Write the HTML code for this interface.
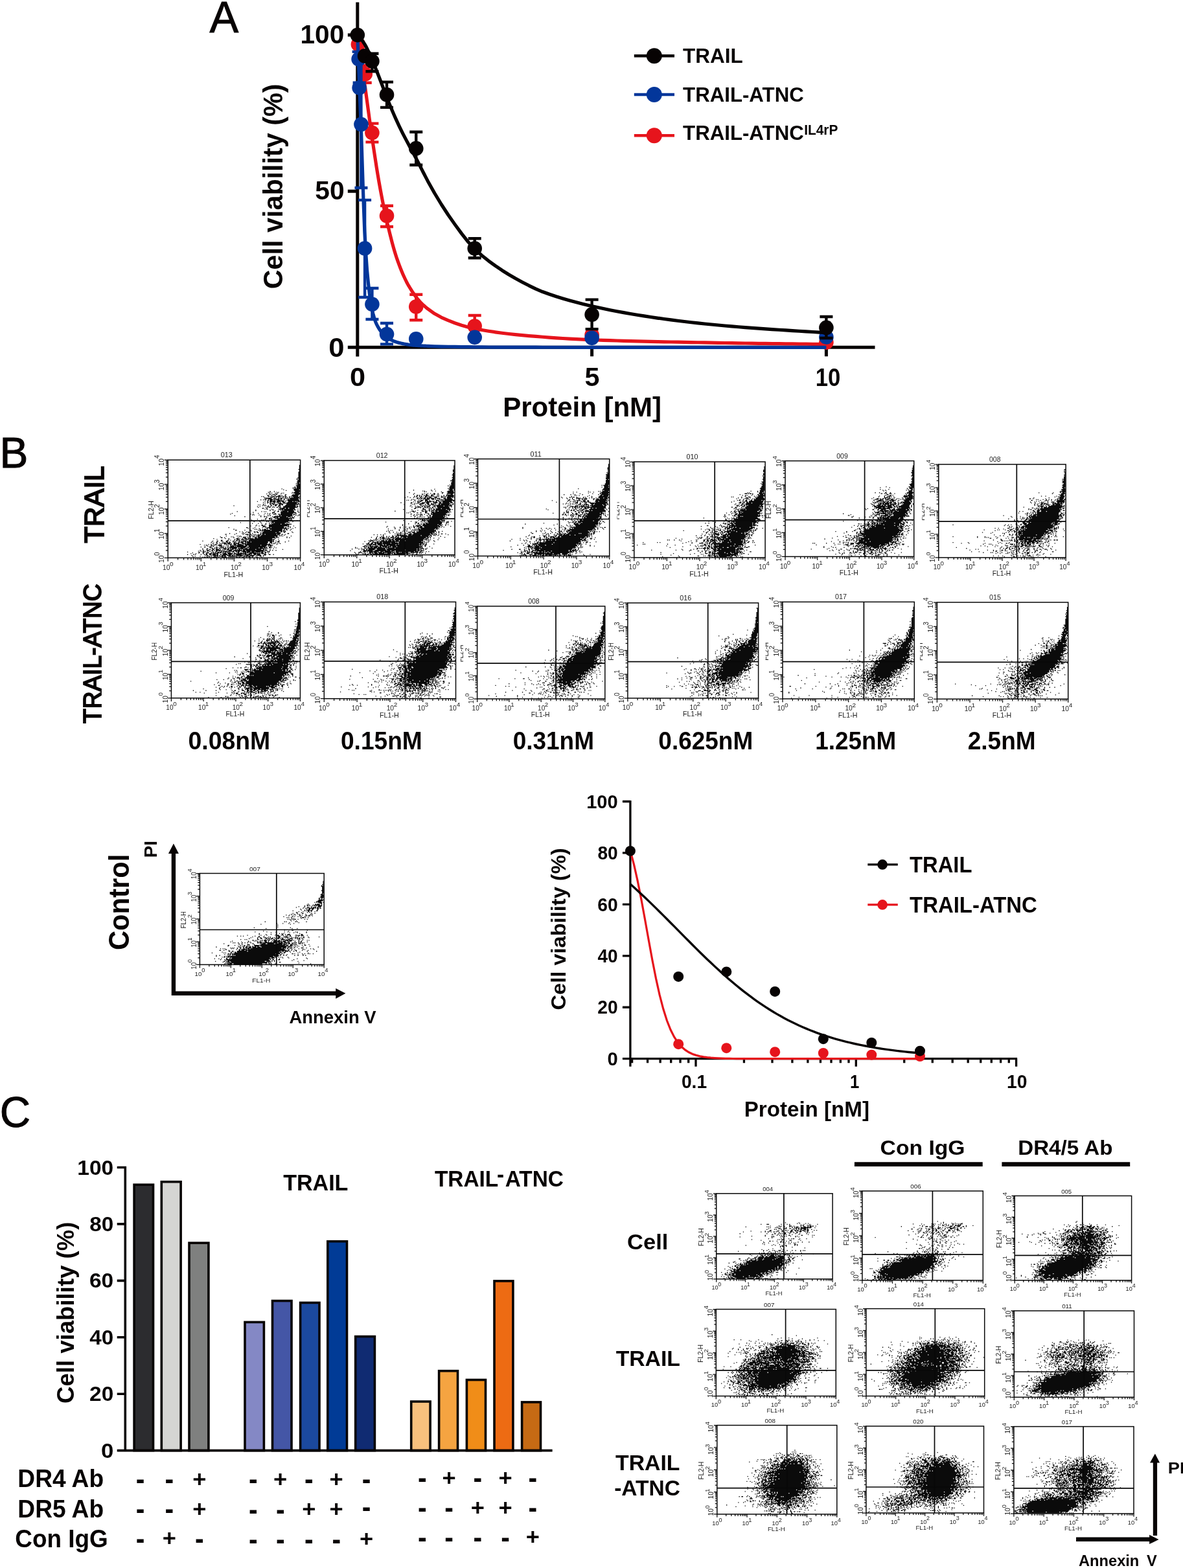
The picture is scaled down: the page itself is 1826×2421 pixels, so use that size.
<!DOCTYPE html>
<html lang="en"><head><meta charset="utf-8"><title>Figure</title>
<style>html,body{margin:0;padding:0;background:#fff;overflow:hidden}body{width:1826px;height:2421px;overflow:hidden}svg{display:block;font-family:'Liberation Sans',sans-serif}</style></head><body>
<svg width="1826" height="2421" viewBox="0 0 1826 2421">
<rect width="1826" height="2421" fill="#fff"/>
<text transform="translate(323.4,49.7) scale(0.9769,1)" font-size="68.6" font-weight="normal" fill="#070303" stroke="#070303" stroke-width="1">A</text>
<text transform="translate(-0.39,721.7) scale(0.9895,1)" font-size="66.42" font-weight="normal" fill="#070303" stroke="#070303" stroke-width="1">B</text>
<text transform="translate(-0.31,1739.7) scale(0.9889,1)" font-size="66.19" font-weight="normal" fill="#070303" stroke="#070303" stroke-width="1">C</text>
<g id="panelA">
<g stroke="#070303" stroke-width="5" fill="none"><path d="M551.8 3.5V550.5M536.8 536.3H1350.5M536.8 54.1h15M536.8 295.2h15M913.6 536.3v14M1275.4 536.3v14"/></g>
<g stroke="#e6141c" fill="#e6141c" stroke-width="5.2"><path d="M551.8 54.1L553.64 66.67L555.48 79.25L557.32 91.82L559.16 104.33L561 116.82L562.84 129.5L564.68 142.58L566.52 156.03L568.36 169.67L570.2 183.27L572.04 196.64L573.88 209.57L575.72 222.03L577.56 234.36L579.39 246.47L581.23 258.28L583.07 269.65L584.91 280.5L586.75 290.76L588.59 300.63L590.43 310.15L592.27 319.28L594.11 328.02L595.95 336.35L597.79 344.27L599.63 352.01L601.47 359.58L603.31 366.94L605.15 374.04L606.99 380.83L608.83 387.29L610.67 393.35L612.51 398.99L614.35 404.2L616.19 409.18L618.03 413.96L619.87 418.53L621.71 422.9L623.55 427.05L625.39 430.98L627.23 434.7L629.07 438.18L630.91 441.44L632.75 444.5L634.58 447.45L636.42 450.3L638.26 453.03L640.1 455.65L641.94 458.16L643.78 460.55L645.62 462.81L647.46 464.95L649.3 466.97L651.14 468.86L652.98 470.61L654.82 472.26L656.66 473.86L658.5 475.4L660.34 476.89L670.76 484.32L681.19 490.09L691.61 494.68L702.04 498.72L712.46 502.21L722.89 505.13L733.31 507.49L743.74 509.47L754.16 511.24L764.59 512.82L775.01 514.23L785.44 515.48L795.86 516.6L806.29 517.61L816.71 518.54L827.14 519.43L837.56 520.28L847.99 521.07L858.41 521.8L868.83 522.49L879.26 523.11L889.68 523.67L900.11 524.18L910.53 524.61L920.96 524.99L931.38 525.35L941.81 525.69L952.23 526L962.66 526.3L973.08 526.59L983.51 526.85L993.93 527.11L1004.36 527.35L1014.78 527.58L1025.21 527.79L1035.63 528L1046.06 528.2L1056.48 528.4L1066.91 528.59L1077.33 528.77L1087.75 528.95L1098.18 529.13L1108.6 529.31L1119.03 529.48L1129.45 529.65L1139.88 529.81L1150.3 529.98L1160.73 530.13L1171.15 530.29L1181.58 530.43L1192 530.57L1202.43 530.71L1212.85 530.84L1223.28 530.96L1233.7 531.08L1244.13 531.19L1254.55 531.3L1264.98 531.39L1275.4 531.48" fill="none" stroke-linejoin="round"/><path d="M563.74 101V127.8M553.74 101h20M553.74 127.8h20M574.41 190.6V219.4M564.41 190.6h20M564.41 219.4h20M597.02 317.7V350M587.02 317.7h20M587.02 350h20M642.25 454.7V494.2M632.25 454.7h20M632.25 494.2h20M732.7 487V520M722.7 487h20M722.7 520h20" fill="none" stroke-width="4.4"/><circle cx="552.89" cy="68.57" r="11.3" stroke="none"/><circle cx="563.74" cy="114.37" r="11.3" stroke="none"/><circle cx="574.41" cy="205.03" r="11.3" stroke="none"/><circle cx="597.02" cy="333.29" r="11.3" stroke="none"/><circle cx="642.25" cy="473.61" r="11.3" stroke="none"/><circle cx="732.7" cy="503.51" r="11.3" stroke="none"/><circle cx="913.6" cy="517.01" r="11.3" stroke="none"/><circle cx="1275.4" cy="528.58" r="11.3" stroke="none"/></g>
<g stroke="#03369a" fill="#03369a" stroke-width="5.2"><path d="M551.8 54.1L553.64 103.7L555.48 152.05L557.32 195.4L559.16 253.08L561 309.94L562.84 357.66L564.68 390.72L566.52 416.87L568.36 436.34L570.2 452.29L572.04 465.55L573.88 475.96L575.72 483.86L577.56 490.55L579.39 496.14L581.23 500.63L583.07 504.14L584.91 507.26L586.75 510.08L588.59 512.63L590.43 514.9L592.27 516.9L594.11 518.64L595.95 520.12L597.79 521.37L599.63 522.51L601.47 523.57L603.31 524.55L605.15 525.45L606.99 526.29L608.83 527.04L610.67 527.73L612.51 528.34L614.35 528.89L616.19 529.37L618.03 529.8L619.87 530.2L621.71 530.59L623.55 530.95L625.39 531.3L627.23 531.62L629.07 531.93L630.91 532.21L632.75 532.47L634.58 532.7L636.42 532.91L638.26 533.1L640.1 533.25L641.94 533.39L643.78 533.5L645.62 533.61L647.46 533.71L649.3 533.82L651.14 533.91L652.98 534.01L654.82 534.1L656.66 534.18L658.5 534.26L660.34 534.34L670.76 534.73L681.19 535.03L691.61 535.25L702.04 535.42L712.46 535.57L722.89 535.71L733.31 535.82L743.74 535.92L754.16 535.99L764.59 536.04L775.01 536.08L785.44 536.11L795.86 536.14L806.29 536.16L816.71 536.19L827.14 536.21L837.56 536.23L847.99 536.25L858.41 536.26L868.83 536.27L879.26 536.28L889.68 536.29L900.11 536.3L910.53 536.3L920.96 536.3L931.38 536.3L941.81 536.3L952.23 536.3L962.66 536.3L973.08 536.3L983.51 536.3L993.93 536.3L1004.36 536.3L1014.78 536.3L1025.21 536.3L1035.63 536.3L1046.06 536.3L1056.48 536.3L1066.91 536.3L1077.33 536.3L1087.75 536.3L1098.18 536.3L1108.6 536.3L1119.03 536.3L1129.45 536.3L1139.88 536.3L1150.3 536.3L1160.73 536.3L1171.15 536.3L1181.58 536.3L1192 536.3L1202.43 536.3L1212.85 536.3L1223.28 536.3L1233.7 536.3L1244.13 536.3L1254.55 536.3L1264.98 536.3L1275.4 536.3" fill="none" stroke-linejoin="round"/><path d="M553.61 79.9V91.4M543.61 79.9h20M543.61 91.4h20M554.62 127.8V136M544.62 127.8h20M544.62 136h20M557.44 94V290M547.44 94h20M547.44 290h20M563.09 308.9V459M553.09 308.9h20M553.09 459h20M574.41 445V493M564.41 445h20M564.41 493h20M597.02 499V531.4M587.02 499h20M587.02 531.4h20" fill="none" stroke-width="4.4"/><circle cx="553.61" cy="91.23" r="11.3" stroke="none"/><circle cx="554.62" cy="135.59" r="11.3" stroke="none"/><circle cx="557.44" cy="192.01" r="11.3" stroke="none"/><circle cx="563.09" cy="383.44" r="11.3" stroke="none"/><circle cx="574.41" cy="469.76" r="11.3" stroke="none"/><circle cx="597.02" cy="516.05" r="11.3" stroke="none"/><circle cx="642.25" cy="523.28" r="11.3" stroke="none"/><circle cx="732.7" cy="520.87" r="11.3" stroke="none"/><circle cx="913.6" cy="521.83" r="11.3" stroke="none"/><circle cx="1275.4" cy="520.39" r="11.3" stroke="none"/></g>
<g stroke="#070303" fill="#070303" stroke-width="5.2"><path d="M551.8 54.1L553.64 55.83L555.48 57.85L557.32 60.12L559.16 62.62L561 65.31L562.84 68.17L564.68 71.3L566.52 74.87L568.36 78.78L570.2 82.91L572.04 87.17L573.88 91.44L575.72 95.7L577.56 100.07L579.39 104.57L581.23 109.16L583.07 113.82L584.91 118.53L586.75 123.27L588.59 128.03L590.43 132.94L592.27 137.95L594.11 142.95L595.95 147.81L597.79 152.45L599.63 156.98L601.47 161.45L603.31 165.86L605.15 170.2L606.99 174.48L608.83 178.69L610.67 182.83L612.51 186.89L614.35 190.89L616.19 194.8L618.03 198.64L619.87 202.39L621.71 206.05L623.55 209.64L625.39 213.17L627.23 216.65L629.07 220.09L630.91 223.5L632.75 226.89L634.58 230.28L636.42 233.67L638.26 237.08L640.1 240.51L641.94 243.99L643.78 247.5L645.62 251.06L647.46 254.64L649.3 258.24L651.14 261.85L652.98 265.45L654.82 269.04L656.66 272.61L658.5 276.15L660.34 279.65L670.76 298.27L681.19 315.48L691.61 331.51L702.04 346.37L712.46 360.64L722.89 373.76L733.31 385.01L743.74 394.46L754.16 402.8L764.59 410.37L775.01 417.44L785.44 423.99L795.86 430.05L806.29 435.68L816.71 441.04L827.14 446.07L837.56 450.52L847.99 454.31L858.41 457.79L868.83 461.01L879.26 464.01L889.68 466.81L900.11 469.44L910.53 471.94L920.96 474.32L931.38 476.57L941.81 478.7L952.23 480.73L962.66 482.65L973.08 484.48L983.51 486.23L993.93 487.91L1004.36 489.52L1014.78 491.06L1025.21 492.54L1035.63 493.94L1046.06 495.28L1056.48 496.54L1066.91 497.74L1077.33 498.89L1087.75 499.98L1098.18 501.03L1108.6 502.03L1119.03 502.98L1129.45 503.89L1139.88 504.75L1150.3 505.58L1160.73 506.36L1171.15 507.12L1181.58 507.85L1192 508.56L1202.43 509.26L1212.85 509.94L1223.28 510.6L1233.7 511.25L1244.13 511.87L1254.55 512.48L1264.98 513.07L1275.4 513.64" fill="none" stroke-linejoin="round"/><path d="M574.41 82.7V110.3M564.41 82.7h20M564.41 110.3h20M597.02 126.6V165.9M587.02 126.6h20M587.02 165.9h20M642.25 203.8V254.7M632.25 203.8h20M632.25 254.7h20M732.7 368.3V398.3M722.7 368.3h20M722.7 398.3h20M913.6 462.6V508.1M903.6 462.6h20M903.6 508.1h20M1275.4 489V522M1265.4 489h20M1265.4 522h20" fill="none" stroke-width="4.4"/><circle cx="551.8" cy="54.1" r="11.3" stroke="none"/><circle cx="563.09" cy="86.41" r="11.3" stroke="none"/><circle cx="574.41" cy="94.6" r="11.3" stroke="none"/><circle cx="597.02" cy="146.2" r="11.3" stroke="none"/><circle cx="642.25" cy="229.14" r="11.3" stroke="none"/><circle cx="732.7" cy="383.44" r="11.3" stroke="none"/><circle cx="913.6" cy="485.67" r="11.3" stroke="none"/><circle cx="1275.4" cy="505.92" r="11.3" stroke="none"/></g>
<text transform="translate(463.56,67.1) scale(0.9792,1)" font-size="41.42" font-weight="bold" fill="#070303">100</text>
<text transform="translate(486.35,308.1) scale(1.0032,1)" font-size="40.7" font-weight="bold" fill="#070303">50</text>
<text transform="translate(507.27,550.6) scale(1.0481,1)" font-size="41.69" font-weight="bold" fill="#070303">0</text>
<text transform="translate(539.89,596.4) scale(1.0750,1)" font-size="40.26" font-weight="bold" fill="#070303">0</text>
<text transform="translate(902.44,596.4) scale(1.0311,1)" font-size="40.12" font-weight="bold" fill="#070303">5</text>
<text transform="translate(1258.83,596) scale(0.8774,1)" font-size="39.53" font-weight="bold" fill="#070303">10</text>
<text transform="translate(776.21,643.1) scale(1.0032,1)" font-size="41.86" font-weight="bold" fill="#070303">Protein [nM]</text>
<text transform="translate(436.4,446.19) rotate(-90) scale(0.9619,1)" font-size="42.93" font-weight="bold" fill="#070303">Cell viability (%)</text>
<path d="M978.8 86.3H1041" stroke="#070303" stroke-width="4.5"/><circle cx="1009.8" cy="86.3" r="12" fill="#070303"/>
<text transform="translate(1054.05,97.4) scale(0.9893,1)" font-size="31.83" font-weight="bold" fill="#070303">TRAIL</text>
<path d="M978.8 146H1041" stroke="#03369a" stroke-width="4.5"/><circle cx="1009.8" cy="146" r="12" fill="#03369a"/>
<text transform="translate(1054.06,157.2) scale(0.9813,1)" font-size="31.83" font-weight="bold" fill="#070303">TRAIL-ATNC</text>
<path d="M978.8 209.2H1041" stroke="#e6141c" stroke-width="4.5"/><circle cx="1009.8" cy="209.2" r="12" fill="#e6141c"/>
<text transform="translate(0,216.4) scale(0.9813,1)" font-size="31.83" font-weight="bold" fill="#070303"><tspan x="1074.17">TRAIL-ATNC</tspan><tspan x="1264.8" dy="-8.7" font-size="21.31">IL4rP</tspan></text>
</g>
<g id="panelB">
<text transform="translate(160.4,838.52) rotate(-90) scale(0.9954,1)" font-size="42.15" font-weight="normal" fill="#070303" stroke="#070303" stroke-width="1.9">TRAIL</text>
<text transform="translate(156.4,1117.02) rotate(-90) scale(0.9527,1)" font-size="38.95" font-weight="normal" fill="#070303" stroke="#070303" stroke-width="1.8">TRAIL-ATNC</text>
<text transform="translate(290.52,1156.6) scale(0.9486,1)" font-size="39.39" font-weight="bold" fill="#070303">0.08nM</text>
<text transform="translate(525.93,1156.6) scale(0.9424,1)" font-size="39.39" font-weight="bold" fill="#070303">0.15nM</text>
<text transform="translate(791.64,1156.6) scale(0.9385,1)" font-size="39.39" font-weight="bold" fill="#070303">0.31nM</text>
<text transform="translate(1016.34,1156.6) scale(0.9387,1)" font-size="39.39" font-weight="bold" fill="#070303">0.625nM</text>
<text transform="translate(1258.19,1156.6) scale(0.9373,1)" font-size="39.39" font-weight="bold" fill="#070303">1.25nM</text>
<text transform="translate(1493.72,1156.6) scale(0.9410,1)" font-size="39.39" font-weight="bold" fill="#070303">2.5nM</text>
<text transform="translate(199,1467.11) rotate(-90) scale(0.9605,1)" font-size="43.48" font-weight="bold" fill="#070303">Control</text>
<text transform="translate(242.4,1324.34) rotate(-90) scale(0.9782,1)" font-size="28.34" font-weight="bold" fill="#070303">PI</text>
<text transform="translate(446.43,1580.2) scale(1.0048,1)" font-size="27.33" font-weight="bold" fill="#070303">Annexin V</text>
<g fill="#070303"><path d="M264.7 1536.9V1318H259.9L267.9 1302.4L275.9 1318H271.1V1530.6H518.2V1526.1L533.4 1533.8L518.2 1541.9V1536.9Z"/></g>
<path d="M972.9 1235.9V1646.7M960.9 1634.7H1570.1M960.9 1555.26h12M960.9 1475.82h12M960.9 1396.38h12M960.9 1316.94h12M960.9 1237.5h12M975.59 1634.7v6.6M999.56 1634.7v6.6M1019.14 1634.7v6.6M1035.69 1634.7v6.6M1050.03 1634.7v6.6M1062.68 1634.7v6.6M1074 1634.7v12M1148.44 1634.7v6.6M1191.99 1634.7v6.6M1222.89 1634.7v6.6M1246.86 1634.7v6.6M1266.44 1634.7v6.6M1282.99 1634.7v6.6M1297.33 1634.7v6.6M1309.98 1634.7v6.6M1321.3 1634.7v12M1395.74 1634.7v6.6M1439.29 1634.7v6.6M1470.19 1634.7v6.6M1494.16 1634.7v6.6M1513.74 1634.7v6.6M1530.29 1634.7v6.6M1544.63 1634.7v6.6M1557.28 1634.7v6.6M1568.6 1634.7v12" stroke="#070303" stroke-width="3.3" fill="none"/>
<path d="M972.87 1313.29L978.53 1334.8L984.18 1360.09L989.84 1388.64L995.5 1419.44L1001.15 1451.06L1006.81 1481.94L1012.46 1510.64L1018.12 1536.13L1023.78 1557.85L1029.43 1575.73L1035.09 1590.03L1040.74 1601.21L1046.4 1609.78L1052.06 1616.28L1057.71 1621.14L1063.37 1624.75L1069.03 1627.42L1074.68 1629.38L1080.34 1630.82L1085.99 1631.87L1091.65 1632.64L1097.31 1633.2L1102.96 1633.61L1108.62 1633.91L1114.28 1634.12L1119.93 1634.28L1125.59 1634.4L1131.24 1634.48L1136.9 1634.54L1142.56 1634.58L1148.21 1634.61L1153.87 1634.64L1159.53 1634.66L1165.18 1634.67L1170.84 1634.68L1176.49 1634.68L1182.15 1634.69L1187.81 1634.69L1193.46 1634.69L1199.12 1634.7L1204.77 1634.7L1210.43 1634.7L1216.09 1634.7L1221.74 1634.7L1227.4 1634.7L1233.06 1634.7L1238.71 1634.7L1244.37 1634.7L1250.02 1634.7L1255.68 1634.7L1261.34 1634.7L1266.99 1634.7L1272.65 1634.7L1278.31 1634.7L1283.96 1634.7L1289.62 1634.7L1295.27 1634.7L1300.93 1634.7L1306.59 1634.7L1312.24 1634.7L1317.9 1634.7L1323.56 1634.7L1329.21 1634.7L1334.87 1634.7L1340.52 1634.7L1346.18 1634.7L1351.84 1634.7L1357.49 1634.7L1363.15 1634.7L1368.8 1634.7L1374.46 1634.7L1380.12 1634.7L1385.77 1634.7L1391.43 1634.7L1397.09 1634.7L1402.74 1634.7L1408.4 1634.7L1414.05 1634.7L1419.71 1634.7" stroke="#e6141c" stroke-width="3.2" fill="none"/>
<path d="M972.87 1365.01L978.53 1370.05L984.18 1375.19L989.84 1380.42L995.5 1385.74L1001.15 1391.14L1006.81 1396.6L1012.46 1402.13L1018.12 1407.72L1023.78 1413.35L1029.43 1419.02L1035.09 1424.71L1040.74 1430.43L1046.4 1436.15L1052.06 1441.88L1057.71 1447.59L1063.37 1453.29L1069.03 1458.96L1074.68 1464.59L1080.34 1470.17L1085.99 1475.7L1091.65 1481.17L1097.31 1486.56L1102.96 1491.88L1108.62 1497.11L1114.28 1502.25L1119.93 1507.29L1125.59 1512.23L1131.24 1517.06L1136.9 1521.78L1142.56 1526.38L1148.21 1530.86L1153.87 1535.22L1159.53 1539.46L1165.18 1543.57L1170.84 1547.56L1176.49 1551.42L1182.15 1555.15L1187.81 1558.76L1193.46 1562.24L1199.12 1565.59L1204.77 1568.82L1210.43 1571.93L1216.09 1574.92L1221.74 1577.79L1227.4 1580.54L1233.06 1583.18L1238.71 1585.71L1244.37 1588.14L1250.02 1590.45L1255.68 1592.67L1261.34 1594.79L1266.99 1596.81L1272.65 1598.74L1278.31 1600.59L1283.96 1602.34L1289.62 1604.01L1295.27 1605.61L1300.93 1607.13L1306.59 1608.57L1312.24 1609.94L1317.9 1611.25L1323.56 1612.49L1329.21 1613.67L1334.87 1614.79L1340.52 1615.85L1346.18 1616.86L1351.84 1617.82L1357.49 1618.72L1363.15 1619.58L1368.8 1620.4L1374.46 1621.18L1380.12 1621.91L1385.77 1622.6L1391.43 1623.26L1397.09 1623.89L1402.74 1624.48L1408.4 1625.03L1414.05 1625.56L1419.71 1626.06" stroke="#070303" stroke-width="3.4" fill="none"/>
<circle cx="1047.2" cy="1612.2" r="8" fill="#e6141c"/>
<circle cx="1121.3" cy="1618.2" r="8" fill="#e6141c"/>
<circle cx="1196.2" cy="1624.2" r="8" fill="#e6141c"/>
<circle cx="1270.8" cy="1626" r="8" fill="#e6141c"/>
<circle cx="1345.3" cy="1628.7" r="8" fill="#e6141c"/>
<circle cx="1420" cy="1631" r="8" fill="#e6141c"/>
<circle cx="972.9" cy="1313.9" r="8" fill="#070303"/>
<circle cx="1047.2" cy="1507.9" r="8" fill="#070303"/>
<circle cx="1121.3" cy="1500.4" r="8" fill="#070303"/>
<circle cx="1196.2" cy="1530.9" r="8" fill="#070303"/>
<circle cx="1270.8" cy="1604.2" r="8" fill="#070303"/>
<circle cx="1345.3" cy="1610" r="8" fill="#070303"/>
<circle cx="1420" cy="1622.7" r="8" fill="#070303"/>
<text transform="translate(905.18,1247.7) scale(0.9707,1)" font-size="29.94" font-weight="bold" fill="#070303">100</text>
<text transform="translate(922.42,1327.14) scale(0.9377,1)" font-size="29.94" font-weight="bold" fill="#070303">80</text>
<text transform="translate(922.27,1406.58) scale(0.9422,1)" font-size="29.94" font-weight="bold" fill="#070303">60</text>
<text transform="translate(922.58,1486.02) scale(0.9326,1)" font-size="29.94" font-weight="bold" fill="#070303">40</text>
<text transform="translate(922.33,1565.46) scale(0.9404,1)" font-size="29.94" font-weight="bold" fill="#070303">20</text>
<text transform="translate(937.45,1644.9) scale(0.9753,1)" font-size="29.94" font-weight="bold" fill="#070303">0</text>
<text transform="translate(1051.89,1679.7) scale(0.9462,1)" font-size="29.8" font-weight="bold" fill="#070303">0.1</text>
<text transform="translate(1311.89,1679.7) scale(0.8642,1)" font-size="29.8" font-weight="bold" fill="#070303">1</text>
<text transform="translate(1553.93,1679.7) scale(0.9480,1)" font-size="29.8" font-weight="bold" fill="#070303">10</text>
<text transform="translate(1148.7,1723.5) scale(1.0137,1)" font-size="32.7" font-weight="bold" fill="#070303">Protein [nM]</text>
<text transform="translate(872.5,1559.54) rotate(-90) scale(1.0231,1)" font-size="31.88" font-weight="bold" fill="#070303">Cell viability (%)</text>
<path d="M1339.3 1334.9H1385.8" stroke="#070303" stroke-width="3.3"/><circle cx="1362.1" cy="1334.9" r="7.8" fill="#070303"/>
<text transform="translate(1404.04,1347.1) scale(0.9542,1)" font-size="34.3" font-weight="bold" fill="#070303">TRAIL</text>
<path d="M1339.3 1396.9H1385.8" stroke="#e6141c" stroke-width="3.3"/><circle cx="1362.1" cy="1396.9" r="7.8" fill="#e6141c"/>
<text transform="translate(1404.04,1409.1) scale(0.9601,1)" font-size="34.3" font-weight="bold" fill="#070303">TRAIL-ATNC</text>
</g>
<g id="panelC">
<g stroke="#070303" stroke-width="3.6">
<rect x="207.1" y="1829.2" width="29.4" height="410.4" fill="#2c2c2f"/>
<rect x="249.3" y="1824.7" width="29.8" height="414.9" fill="#d5d5d3"/>
<rect x="292" y="1919.1" width="29.9" height="320.5" fill="#7f807f"/>
<rect x="378" y="2041.4" width="29.4" height="198.2" fill="#8488c5"/>
<rect x="420.5" y="2008.5" width="29.5" height="231.1" fill="#4456a6"/>
<rect x="463.6" y="2011.4" width="29.4" height="228.2" fill="#1b499e"/>
<rect x="505.8" y="1916.7" width="29.7" height="322.9" fill="#013b96"/>
<rect x="548.7" y="2063.6" width="29.7" height="176" fill="#102b72"/>
<rect x="634.7" y="2164" width="29.4" height="75.6" fill="#f8c07d"/>
<rect x="677.6" y="2116.7" width="28.9" height="122.9" fill="#f5a441"/>
<rect x="720.4" y="2130.5" width="29.1" height="109.1" fill="#f08d18"/>
<rect x="763" y="1977.9" width="28.9" height="261.7" fill="#ed6b13"/>
<rect x="805.6" y="2164.9" width="28.9" height="74.7" fill="#c66a14"/>
<path d="M193.3 1800.7V2241.4M180.7 2239.6H852.6M180.7 2152.18h12.6M180.7 2064.76h12.6M180.7 1977.34h12.6M180.7 1889.92h12.6M180.7 1802.5h12.6" fill="none"/>
</g>
<text transform="translate(119.3,1813.5) scale(1.0440,1)" font-size="32.12" font-weight="bold" fill="#070303">100</text>
<text transform="translate(138.15,1900.92) scale(1.0387,1)" font-size="32.12" font-weight="bold" fill="#070303">80</text>
<text transform="translate(137.98,1988.34) scale(1.0437,1)" font-size="32.12" font-weight="bold" fill="#070303">60</text>
<text transform="translate(138.3,2075.76) scale(1.0343,1)" font-size="32.12" font-weight="bold" fill="#070303">40</text>
<text transform="translate(138.05,2163.18) scale(1.0417,1)" font-size="32.12" font-weight="bold" fill="#070303">20</text>
<text transform="translate(155.92,2250.6) scale(1.0857,1)" font-size="32.12" font-weight="bold" fill="#070303">0</text>
<text transform="translate(113.6,2167) rotate(-90) scale(1.0042,1)" font-size="36.44" font-weight="bold" fill="#070303">Cell viability (%)</text>
<text transform="translate(437.13,1837.9) scale(0.9768,1)" font-size="34.88" font-weight="bold" fill="#070303">TRAIL</text>
<text transform="translate(0,1831.9) scale(0.9579,1)" font-size="34.88" font-weight="bold" fill="#070303"><tspan x="700.42">TRAIL</tspan><tspan x="800.71" dy="-7.4">-</tspan><tspan x="813.95" dy="7.4">ATNC</tspan></text>
<text transform="translate(27.33,2296.2) scale(0.9755,1)" font-size="38.08" font-weight="bold" fill="#070303">DR4 Ab</text>
<text transform="translate(27.33,2342.5) scale(0.9755,1)" font-size="38.08" font-weight="bold" fill="#070303">DR5 Ab</text>
<text transform="translate(23.29,2388.6) scale(0.9624,1)" font-size="38.37" font-weight="bold" fill="#070303">Con IgG</text>
<text transform="translate(209.7,2298.73) scale(1.0236,1.1506)" font-size="40" font-weight="bold" fill="#070303">-</text>
<text transform="translate(254.6,2298.73) scale(1.0236,1.1506)" font-size="40" font-weight="bold" fill="#070303">-</text>
<text transform="translate(297.2,2295.99) scale(0.9064,0.8948)" font-size="40" font-weight="bold" fill="#070303">+</text>
<text transform="translate(384.1,2299.03) scale(1.0236,1.1506)" font-size="40" font-weight="bold" fill="#070303">-</text>
<text transform="translate(422.1,2296.29) scale(0.9064,0.8948)" font-size="40" font-weight="bold" fill="#070303">+</text>
<text transform="translate(470,2299.03) scale(1.0236,1.1506)" font-size="40" font-weight="bold" fill="#070303">-</text>
<text transform="translate(508.6,2296.29) scale(0.9064,0.8948)" font-size="40" font-weight="bold" fill="#070303">+</text>
<text transform="translate(558.7,2299.03) scale(1.0236,1.1506)" font-size="40" font-weight="bold" fill="#070303">-</text>
<text transform="translate(645,2296.73) scale(1.0236,1.1506)" font-size="40" font-weight="bold" fill="#070303">-</text>
<text transform="translate(682.4,2293.99) scale(0.9064,0.8948)" font-size="40" font-weight="bold" fill="#070303">+</text>
<text transform="translate(730.6,2296.73) scale(1.0236,1.1506)" font-size="40" font-weight="bold" fill="#070303">-</text>
<text transform="translate(769.5,2293.99) scale(0.9064,0.8948)" font-size="40" font-weight="bold" fill="#070303">+</text>
<text transform="translate(815.5,2296.73) scale(1.0236,1.1506)" font-size="40" font-weight="bold" fill="#070303">-</text>
<text transform="translate(209.7,2345.43) scale(1.0236,1.1506)" font-size="40" font-weight="bold" fill="#070303">-</text>
<text transform="translate(254.6,2345.43) scale(1.0236,1.1506)" font-size="40" font-weight="bold" fill="#070303">-</text>
<text transform="translate(297.2,2341.89) scale(0.9064,0.8948)" font-size="40" font-weight="bold" fill="#070303">+</text>
<text transform="translate(384.1,2345.73) scale(1.0236,1.1506)" font-size="40" font-weight="bold" fill="#070303">-</text>
<text transform="translate(425.9,2345.73) scale(1.0236,1.1506)" font-size="40" font-weight="bold" fill="#070303">-</text>
<text transform="translate(466.2,2342.19) scale(0.9064,0.8948)" font-size="40" font-weight="bold" fill="#070303">+</text>
<text transform="translate(508.6,2342.19) scale(0.9064,0.8948)" font-size="40" font-weight="bold" fill="#070303">+</text>
<text transform="translate(558.7,2341.93) scale(1.0236,1.1506)" font-size="40" font-weight="bold" fill="#070303">-</text>
<text transform="translate(645,2343.43) scale(1.0236,1.1506)" font-size="40" font-weight="bold" fill="#070303">-</text>
<text transform="translate(686.2,2343.43) scale(1.0236,1.1506)" font-size="40" font-weight="bold" fill="#070303">-</text>
<text transform="translate(726.8,2339.89) scale(0.9064,0.8948)" font-size="40" font-weight="bold" fill="#070303">+</text>
<text transform="translate(769.5,2339.89) scale(0.9064,0.8948)" font-size="40" font-weight="bold" fill="#070303">+</text>
<text transform="translate(815.5,2343.43) scale(1.0236,1.1506)" font-size="40" font-weight="bold" fill="#070303">-</text>
<text transform="translate(209.7,2391.33) scale(1.0236,1.1506)" font-size="40" font-weight="bold" fill="#070303">-</text>
<text transform="translate(250.8,2387.49) scale(0.9064,0.8948)" font-size="40" font-weight="bold" fill="#070303">+</text>
<text transform="translate(301,2391.33) scale(1.0236,1.1506)" font-size="40" font-weight="bold" fill="#070303">-</text>
<text transform="translate(384.1,2391.63) scale(1.0236,1.1506)" font-size="40" font-weight="bold" fill="#070303">-</text>
<text transform="translate(425.9,2391.63) scale(1.0236,1.1506)" font-size="40" font-weight="bold" fill="#070303">-</text>
<text transform="translate(470,2391.63) scale(1.0236,1.1506)" font-size="40" font-weight="bold" fill="#070303">-</text>
<text transform="translate(512.4,2391.63) scale(1.0236,1.1506)" font-size="40" font-weight="bold" fill="#070303">-</text>
<text transform="translate(554.9,2387.79) scale(0.9064,0.8948)" font-size="40" font-weight="bold" fill="#070303">+</text>
<text transform="translate(645,2389.33) scale(1.0236,1.1506)" font-size="40" font-weight="bold" fill="#070303">-</text>
<text transform="translate(686.2,2389.33) scale(1.0236,1.1506)" font-size="40" font-weight="bold" fill="#070303">-</text>
<text transform="translate(730.6,2389.33) scale(1.0236,1.1506)" font-size="40" font-weight="bold" fill="#070303">-</text>
<text transform="translate(773.3,2389.33) scale(1.0236,1.1506)" font-size="40" font-weight="bold" fill="#070303">-</text>
<text transform="translate(811.7,2385.49) scale(0.9064,0.8948)" font-size="40" font-weight="bold" fill="#070303">+</text>
<text transform="translate(1358.62,1782.6) scale(1.0430,1)" font-size="32.27" font-weight="bold" fill="#070303">Con IgG</text>
<text transform="translate(1571.19,1782.6) scale(1.0282,1)" font-size="32.27" font-weight="bold" fill="#070303">DR4/5 Ab</text>
<path d="M1318.9 1797.6H1516.7M1546.4 1797.6H1744.2" stroke="#070303" stroke-width="6.6"/>
<text transform="translate(968.09,1928.8) scale(1.0454,1)" font-size="32.99" font-weight="bold" fill="#070303">Cell</text>
<text transform="translate(950.63,2109.3) scale(1.0188,1)" font-size="33.14" font-weight="bold" fill="#070303">TRAIL</text>
<text transform="translate(950.03,2269.5) scale(1.0056,1)" font-size="33.58" font-weight="bold" fill="#070303">TRAIL</text>
<text transform="translate(948.19,2309.4) scale(0.9978,1)" font-size="33.58" font-weight="bold" fill="#070303">-ATNC</text>
<g fill="#070303"><path d="M1779.8 2370.9V2258.4H1775L1782.9 2244.4L1790.1 2258.4H1786.1V2370.9Z"/><path d="M1661 2373.6H1774.1V2369.7L1788.6 2376.9L1774.1 2384.1V2380H1661Z"/></g>
<text transform="translate(0,2274.6) scale(1.1476,1)" font-size="23.84" font-weight="bold" fill="#070303"><tspan x="1570.93">PI</tspan></text>
<text transform="translate(0,2418.2) scale(1.0049,1)" font-size="23.55" font-weight="bold" fill="#070303"><tspan x="1656.89">Annexin</tspan><tspan x="1754.96"> V</tspan></text>
</g>
<g id="flow">
<path transform="translate(260.3,711.95) scale(1.3)" stroke="#0b0b0b" stroke-width="1" fill="none" d="M155 5h1M155 6h1M155 7h1M155 8h1M155 9h1M154 10h2M155 11h1M155 12h1M154 13h2M154 14h2M154 15h2M154 16h2M154 17h2M154 18h2M154 19h2M153 20h3M152 21h1m1 0h2M152 22h1m1 0h2M153 23h3M153 24h3M152 25h4M153 26h2M151 27h5M153 28h3M151 29h5M152 30h4M149 31h2m1 0h4M147 32h2m1 0h1m1 0h4M134 33h1m14 0h7M136 34h1m11 0h7M139 35h1m9 0h7M120 36h1m4 0h1m24 0h6M118 37h1m1 0h1m7 0h1m1 0h1m16 0h1m1 0h6M119 38h1m2 0h1m3 0h1m2 0h1m4 0h1m1 0h1m9 0h1m1 0h8M116 39h1m3 0h1m6 0h2m4 0h1m16 0h6M119 40h1m1 0h1m1 0h4m1 0h1m9 0h2m7 0h8M117 41h2m3 0h1m3 0h1m3 0h3m1 0h1m3 0h1m7 0h8M110 42h1m1 0h1m5 0h2m1 0h1m1 0h3m1 0h6m1 0h1m1 0h1m1 0h2m3 0h1m1 0h1m1 0h7m1 0h1M113 43h1m7 0h3m1 0h1m1 0h1m2 0h1m1 0h1m2 0h2m1 0h1m1 0h1m2 0h1m2 0h1m1 0h7M114 44h8m3 0h1m1 0h1m2 0h2m1 0h2m3 0h2m1 0h1m1 0h13M114 45h1m1 0h1m1 0h5m1 0h4m1 0h2m1 0h3m1 0h2m2 0h1m1 0h1m1 0h10M109 46h1m2 0h1m1 0h2m2 0h1m1 0h4m1 0h1m1 0h5m1 0h1m3 0h1m3 0h14M117 47h2m1 0h3m1 0h3m2 0h8m2 0h1m1 0h14M105 48h1m8 0h1m2 0h1m2 0h7m1 0h5m1 0h3m1 0h1m3 0h5m1 0h2m1 0h1m1 0h3M112 49h1m4 0h2m1 0h2m2 0h3m1 0h3m1 0h1m2 0h3m3 0h13M114 50h1m2 0h1m2 0h1m1 0h2m1 0h1m4 0h4m2 0h16m2 0h1M112 51h1m7 0h2m1 0h3m1 0h1m1 0h1m1 0h5m4 0h15M106 52h1m1 0h1m3 0h1m1 0h1m6 0h1m2 0h1m1 0h3m2 0h2m1 0h2m3 0h12m1 0h1m2 0h1M77 53h1m33 0h1m1 0h1m1 0h1m2 0h1m2 0h2m3 0h2m2 0h3m5 0h13m1 0h1M105 54h1m2 0h1m8 0h2m1 0h1m3 0h1m5 0h1m1 0h1m3 0h15m1 0h2m1 0h1M106 55h1m8 0h1m1 0h1m1 0h2m2 0h1m1 0h1m2 0h2m1 0h2m3 0h17M111 56h2m3 0h1m15 0h6m1 0h3m1 0h7M114 57h1m1 0h2m4 0h1m7 0h3m1 0h16m3 0h1M103 58h1m16 0h1m2 0h2m7 0h4m1 0h11m1 0h2M103 59h1m16 0h1m5 0h1m3 0h1m4 0h14m4 0h1M81 60h1m28 0h1m2 0h1m1 0h1m9 0h1m3 0h2m2 0h8m1 0h7m4 0h1M100 61h1m22 0h3m7 0h18m3 0h1M75 62h1m30 0h1m7 0h1m2 0h1m2 0h1m2 0h1m2 0h1m6 0h15m2 0h2M73 63h1m23 0h1m2 0h1m18 0h1m4 0h4m2 0h2m1 0h14m1 0h2M99 64h1m1 0h1m5 0h1m5 0h1m3 0h1m2 0h1m10 0h16m1 0h1m1 0h2m2 0h2M78 65h1m30 0h1m8 0h1m1 0h1m6 0h1m1 0h1m1 0h2m1 0h13m6 0h1M90 66h1m18 0h1m3 0h2m1 0h1m6 0h1m1 0h15m1 0h4m1 0h1m2 0h1M116 67h1m4 0h1m2 0h3m1 0h2m2 0h10m2 0h1m1 0h3M115 68h1m3 0h2m1 0h1m3 0h21m1 0h1M96 69h1m8 0h1m8 0h2m3 0h4m6 0h15m1 0h1M98 70h1m11 0h1m1 0h1m9 0h1m1 0h19m1 0h3M77 71h1m6 0h1m23 0h1m6 0h1m4 0h1m2 0h1m1 0h18m1 0h1m7 0h1M101 72h1m6 0h1m7 0h1m1 0h1m3 0h20m5 0h1M85 73h1m23 0h1m10 0h1m1 0h3m1 0h14m1 0h3M99 74h1m6 0h1m3 0h1m4 0h1m3 0h1m2 0h1m1 0h14m2 0h1M115 75h1m4 0h1m1 0h11m1 0h12M104 76h1m5 0h2m2 0h1m4 0h24M97 77h1m5 0h1m3 0h1m3 0h3m5 0h22m1 0h1m5 0h1M112 78h4m3 0h18m4 0h2m1 0h1M71 79h1m20 0h2m8 0h1m8 0h1m3 0h1m1 0h4m1 0h15m1 0h2m4 0h1m5 0h1M94 80h1m5 0h1m6 0h1m8 0h2m1 0h21m1 0h2m4 0h1M77 81h1m24 0h1m1 0h1m3 0h1m2 0h1m1 0h3m1 0h1m2 0h15m2 0h1m1 0h2m4 0h1M79 82h2m9 0h1m6 0h1m8 0h1m1 0h2m1 0h10m1 0h13m1 0h2m2 0h1m3 0h1M96 83h1m1 0h1m9 0h1m1 0h2m1 0h22m1 0h1m1 0h1M84 84h1m2 0h1m4 0h1m1 0h1m6 0h2m1 0h2m6 0h19m2 0h2m1 0h3m7 0h1M88 85h1m2 0h1m2 0h2m6 0h1m2 0h2m2 0h1m1 0h16m1 0h5m4 0h1m9 0h1M72 86h1m7 0h1m6 0h1m1 0h1m9 0h1m9 0h1m1 0h22m8 0h2M67 87h2m9 0h1m9 0h1m2 0h4m1 0h2m3 0h1m1 0h1m2 0h1m1 0h2m1 0h3m1 0h13m1 0h3m2 0h2m2 0h1M93 88h1m1 0h2m1 0h2m1 0h1m1 0h1m1 0h4m1 0h20m1 0h1m1 0h1m3 0h1M68 89h1m12 0h1m1 0h1m1 0h1m10 0h1m4 0h1m2 0h1m1 0h2m1 0h20m2 0h1m1 0h1m1 0h1m9 0h1M61 90h1m12 0h1m1 0h1m7 0h1m1 0h1m2 0h1m1 0h1m1 0h1m1 0h1m1 0h1m1 0h3m1 0h1m1 0h21m1 0h3m10 0h1M62 91h2m2 0h1m10 0h1m4 0h1m5 0h4m2 0h1m7 0h3m1 0h21m1 0h1m1 0h1m9 0h1m2 0h1M53 92h1m13 0h1m3 0h1m8 0h3m1 0h1m2 0h1m2 0h3m1 0h7m1 0h21m3 0h1M57 93h1m13 0h1m6 0h1m2 0h3m2 0h4m1 0h4m2 0h29m4 0h1M62 94h2m6 0h1m2 0h1m4 0h1m1 0h2m1 0h2m2 0h1m1 0h1m1 0h1m3 0h1m1 0h26m1 0h1M40 95h1m11 0h1m4 0h2m3 0h2m4 0h3m5 0h2m2 0h1m1 0h1m1 0h1m1 0h1m1 0h6m1 0h30m2 0h1m2 0h2m10 0h1M51 96h1m5 0h1m6 0h1m3 0h2m2 0h1m3 0h1m1 0h2m3 0h2m1 0h3m1 0h2m1 0h4m1 0h20m2 0h3m1 0h1m4 0h2m7 0h1M50 97h1m2 0h1m2 0h2m2 0h1m2 0h1m1 0h3m1 0h5m3 0h2m1 0h1m1 0h2m1 0h4m2 0h27m2 0h3m3 0h2m3 0h1M52 98h1m4 0h1m3 0h1m1 0h1m1 0h4m1 0h3m1 0h1m2 0h7m3 0h5m1 0h24m2 0h1m2 0h1m1 0h2m3 0h1m2 0h1M37 99h1m9 0h1m2 0h1m2 0h1m1 0h2m3 0h1m1 0h1m3 0h1m1 0h1m1 0h1m1 0h3m2 0h3m2 0h5m1 0h1m1 0h31m7 0h1M42 100h1m1 0h2m4 0h2m2 0h1m1 0h1m1 0h5m5 0h1m1 0h1m2 0h1m1 0h1m1 0h12m2 0h18m1 0h7m1 0h6M46 101h1m3 0h1m1 0h2m6 0h4m1 0h1m4 0h1m2 0h5m1 0h1m1 0h12m2 0h21m2 0h1m1 0h2M38 102h1m3 0h2m4 0h3m5 0h2m4 0h1m1 0h1m2 0h1m1 0h1m1 0h1m1 0h19m1 0h22m1 0h1m2 0h2m1 0h1m2 0h1M49 103h1m1 0h1m2 0h1m1 0h1m1 0h1m1 0h6m1 0h1m2 0h1m1 0h9m2 0h1m1 0h6m1 0h1m1 0h1m1 0h11m1 0h4m1 0h4m2 0h3m5 0h1M40 104h1m4 0h2m4 0h2m1 0h1m1 0h2m2 0h1m4 0h4m1 0h2m1 0h1m1 0h6m1 0h7m1 0h4m1 0h19m1 0h1m1 0h1m6 0h1M40 105h1m4 0h1m2 0h2m2 0h2m2 0h4m1 0h1m2 0h1m1 0h2m1 0h3m1 0h4m2 0h1m1 0h1m1 0h2m1 0h1m1 0h15m1 0h6m2 0h2m1 0h1m4 0h1m14 0h1M37 106h1m3 0h1m3 0h3m3 0h2m1 0h1m1 0h6m1 0h1m1 0h1m3 0h1m1 0h4m2 0h10m1 0h3m1 0h21m1 0h3m3 0h1m2 0h1m3 0h1M35 107h1m2 0h1m1 0h2m1 0h1m2 0h1m1 0h2m1 0h1m4 0h2m2 0h1m1 0h2m1 0h4m1 0h8m1 0h2m1 0h3m1 0h11m1 0h16m3 0h1m1 0h1M22 108h1m13 0h1m4 0h2m1 0h1m1 0h1m5 0h2m1 0h2m1 0h2m1 0h2m1 0h2m1 0h4m1 0h1m3 0h2m2 0h4m4 0h4m1 0h3m2 0h4m1 0h6m1 0h2m2 0h2m1 0h3M28 109h1m6 0h2m3 0h2m3 0h3m2 0h2m1 0h1m1 0h1m1 0h6m1 0h1m1 0h2m2 0h4m1 0h1m2 0h1m3 0h2m1 0h2m1 0h1m1 0h5m1 0h8m1 0h1m1 0h1m1 0h4m1 0h2M26 110h1m5 0h1m8 0h1m2 0h2m2 0h3m1 0h7m5 0h5m1 0h6m1 0h15m3 0h4m1 0h9m1 0h3m1 0h1m3 0h1M22 111h1m6 0h1m1 0h1m6 0h1m3 0h1m1 0h2m2 0h3m1 0h4m1 0h2m2 0h2m1 0h6m1 0h4m1 0h1m1 0h1m1 0h7m1 0h1m1 0h7m1 0h1m2 0h3m1 0h4m4 0h3m3 0h2m3 0h1M27 112h1m15 0h1m1 0h2m3 0h1m1 0h7m1 0h1m2 0h5m1 0h5m1 0h2m1 0h1m1 0h9m1 0h1m1 0h3m1 0h6m2 0h6m2 0h1m1 0h1M28 113h1m2 0h1m5 0h1m7 0h1m1 0h2m1 0h1m3 0h2m1 0h2m1 0h5m1 0h2m3 0h10m1 0h1m1 0h3m2 0h7m2 0h3m2 0h1m4 0h2m2 0h1M29 114h1m10 0h1m1 0h2m1 0h2m1 0h1m1 0h1m1 0h6m1 0h1m3 0h6m2 0h1m1 0h1m1 0h1m1 0h1m2 0h2m1 0h2m2 0h3m2 0h1m2 0h1m3 0h1m4 0h2m4 0h1"/>
<g stroke="#080808" stroke-width="1.5" fill="none">
<rect x="259.2" y="710.2" width="204.4" height="151.1"/>
<path stroke-width="1.7" d="M385.8 710.2V861.3M259.2 804.2H463.6"/>
<path stroke-width="1.25" d="M259.2 861.3v5.4M259.2 861.3h-5.41M274.58 861.3v3.3M259.2 849.93h-3.31M283.58 861.3v3.3M259.2 843.28h-3.31M289.97 861.3v3.3M259.2 838.56h-3.31M294.92 861.3v3.3M259.2 834.9h-3.31M298.96 861.3v3.3M259.2 831.91h-3.31M302.38 861.3v3.3M259.2 829.38h-3.31M305.35 861.3v3.3M259.2 827.19h-3.31M307.96 861.3v3.3M259.2 825.25h-3.31M310.3 861.3v5.4M259.2 823.52h-5.41M325.68 861.3v3.3M259.2 812.15h-3.31M334.68 861.3v3.3M259.2 805.5h-3.31M341.07 861.3v3.3M259.2 800.78h-3.31M346.02 861.3v3.3M259.2 797.12h-3.31M350.06 861.3v3.3M259.2 794.13h-3.31M353.48 861.3v3.3M259.2 791.6h-3.31M356.45 861.3v3.3M259.2 789.41h-3.31M359.06 861.3v3.3M259.2 787.48h-3.31M361.4 861.3v5.4M259.2 785.75h-5.41M376.78 861.3v3.3M259.2 774.38h-3.31M385.78 861.3v3.3M259.2 767.73h-3.31M392.17 861.3v3.3M259.2 763.01h-3.31M397.12 861.3v3.3M259.2 759.35h-3.31M401.16 861.3v3.3M259.2 756.36h-3.31M404.58 861.3v3.3M259.2 753.83h-3.31M407.55 861.3v3.3M259.2 751.64h-3.31M410.16 861.3v3.3M259.2 749.7h-3.31M412.5 861.3v5.4M259.2 747.98h-5.41M427.88 861.3v3.3M259.2 736.6h-3.31M436.88 861.3v3.3M259.2 729.95h-3.31M443.27 861.3v3.3M259.2 725.23h-3.31M448.22 861.3v3.3M259.2 721.57h-3.31M452.26 861.3v3.3M259.2 718.58h-3.31M455.68 861.3v3.3M259.2 716.05h-3.31M458.65 861.3v3.3M259.2 713.86h-3.31M461.26 861.3v3.3M259.2 711.93h-3.31M463.6 861.3v5.4M259.2 710.2h-5.41"/>
</g>
<g font-weight="normal" fill="#1c1c1c">
<text transform="translate(340.71,706.2) scale(1.021,1)" font-size="10.61">013</text>
<text transform="translate(345.47,890.52) scale(1.011,1)" font-size="10.61">FL1-H</text>
<text transform="translate(250.9,879.91) scale(0.975,1)" font-size="10.61">10</text>
<text transform="translate(262.11,874.11) scale(1.077,1)" font-size="9.33">0</text>
<text transform="translate(253.19,869.1) rotate(-90) scale(0.898,1)" font-size="11.62">10</text>
<text transform="translate(245.87,857.89) rotate(-90) scale(0.981,1)" font-size="10.23">0</text>
<text transform="translate(302,879.91) scale(0.975,1)" font-size="10.61">10</text>
<text transform="translate(312.84,874.11) scale(1.077,1)" font-size="9.33">1</text>
<text transform="translate(253.19,832.82) rotate(-90) scale(0.898,1)" font-size="11.62">10</text>
<text transform="translate(245.87,821.99) rotate(-90) scale(0.981,1)" font-size="10.23">1</text>
<text transform="translate(356.1,879.91) scale(0.975,1)" font-size="10.61">10</text>
<text transform="translate(367.21,874.11) scale(1.077,1)" font-size="9.33">2</text>
<text transform="translate(253.19,795.05) rotate(-90) scale(0.898,1)" font-size="11.62">10</text>
<text transform="translate(245.87,783.95) rotate(-90) scale(0.981,1)" font-size="10.23">2</text>
<text transform="translate(404.2,879.91) scale(0.975,1)" font-size="10.61">10</text>
<text transform="translate(415.42,874.11) scale(1.077,1)" font-size="9.33">3</text>
<text transform="translate(253.19,757.27) rotate(-90) scale(0.898,1)" font-size="11.62">10</text>
<text transform="translate(245.87,746.05) rotate(-90) scale(0.981,1)" font-size="10.23">3</text>
<text transform="translate(453.4,879.91) scale(0.975,1)" font-size="10.61">10</text>
<text transform="translate(464.78,874.11) scale(1.077,1)" font-size="9.33">4</text>
<text transform="translate(253.19,719.5) rotate(-90) scale(0.898,1)" font-size="11.62">10</text>
<text transform="translate(245.87,708.12) rotate(-90) scale(0.981,1)" font-size="10.23">4</text>
<text transform="translate(236.66,801.4) rotate(-90) scale(0.876,1)" font-size="11.62">FL2-H</text>
</g>
<path transform="translate(501.3,712.55) scale(1.3)" stroke="#0b0b0b" stroke-width="1" fill="none" d="M153 5h1M153 6h1M153 7h1M153 8h1M153 9h1M152 10h2M152 11h2M152 12h2M153 13h1M152 14h2M152 15h2M151 16h3M152 17h2M152 18h2M151 19h3M152 20h2M151 21h3M151 22h3M149 23h5M151 24h3M150 25h4M150 26h4M150 27h4M148 28h1m1 0h4M146 29h1m2 0h5M148 30h6M148 31h6M146 32h1m1 0h6M130 33h1m16 0h5m1 0h1M105 34h1m20 0h1m21 0h4m1 0h1M116 35h1m1 0h1m8 0h1m3 0h1m14 0h7M118 36h1m1 0h1m17 0h1m6 0h8M100 37h1m38 0h2m5 0h8M106 38h1m11 0h1m3 0h1m2 0h1m3 0h2m3 0h1m4 0h1m5 0h8M105 39h1m9 0h2m3 0h2m5 0h1m1 0h2m3 0h1m10 0h1m1 0h1m1 0h3M109 40h2m1 0h1m5 0h1m1 0h2m1 0h1m2 0h3m4 0h1m1 0h1m5 0h1m2 0h9M106 41h1m2 0h1m2 0h1m1 0h2m1 0h1m1 0h4m3 0h2m1 0h1m4 0h1m3 0h1m2 0h1m2 0h1m1 0h8M98 42h1m7 0h1m1 0h2m2 0h1m1 0h1m4 0h2m2 0h3m1 0h1m1 0h1m1 0h3m1 0h1m2 0h3m1 0h2m1 0h8M95 43h1m5 0h1m3 0h1m4 0h1m2 0h2m1 0h1m1 0h2m1 0h2m1 0h3m3 0h3m5 0h1m1 0h1m1 0h1m2 0h5m1 0h1m1 0h1M109 44h2m1 0h1m1 0h2m1 0h3m1 0h4m1 0h4m1 0h1m1 0h4m4 0h3m1 0h6M103 45h1m1 0h1m5 0h1m1 0h1m3 0h1m1 0h5m3 0h3m1 0h1m4 0h1m1 0h1m1 0h1m1 0h10M97 46h1m1 0h1m2 0h1m3 0h2m6 0h3m2 0h3m2 0h1m7 0h4m1 0h4m1 0h12M110 47h6m3 0h4m1 0h2m1 0h1m1 0h1m2 0h2m1 0h1m4 0h11m1 0h2M105 48h1m1 0h1m2 0h1m2 0h1m5 0h1m1 0h6m1 0h2m1 0h2m2 0h16M90 49h1m11 0h2m6 0h3m2 0h4m1 0h4m5 0h5m2 0h2m2 0h8m1 0h3M102 50h1m3 0h1m1 0h1m1 0h1m2 0h5m3 0h3m2 0h2m1 0h1m1 0h1m3 0h14m3 0h1M94 51h1m9 0h1m1 0h1m5 0h2m1 0h1m3 0h1m2 0h2m2 0h4m1 0h1m3 0h2m1 0h10m1 0h1m1 0h2M102 52h1m10 0h2m2 0h1m1 0h1m1 0h1m1 0h3m2 0h1m1 0h1m1 0h19M101 53h1m5 0h1m2 0h1m4 0h2m1 0h1m1 0h1m1 0h1m1 0h1m4 0h3m1 0h8m1 0h5m1 0h3M103 54h1m4 0h1m1 0h4m1 0h1m2 0h2m1 0h4m3 0h1m1 0h1m2 0h15m2 0h1M107 55h2m1 0h1m2 0h1m3 0h1m1 0h1m1 0h1m3 0h1m1 0h2m2 0h1m2 0h14M106 56h2m8 0h2m5 0h2m1 0h1m2 0h1m2 0h6m1 0h10M93 57h1m9 0h1m12 0h4m4 0h1m1 0h1m2 0h2m1 0h12m1 0h5m1 0h1M110 58h1m4 0h1m3 0h1m3 0h2m2 0h3m1 0h15m1 0h2M83 59h1m19 0h3m1 0h1m7 0h3m1 0h3m2 0h1m1 0h2m1 0h1m1 0h3m1 0h12m1 0h1M101 60h1m3 0h2m12 0h2m6 0h3m1 0h17m1 0h1M97 61h1m1 0h1m9 0h2m2 0h2m4 0h3m4 0h20m1 0h1M102 62h1m19 0h2m2 0h1m1 0h16M102 63h1m3 0h1m2 0h1m1 0h1m1 0h3m2 0h1m4 0h1m2 0h19m1 0h1m1 0h1M105 64h1m3 0h1m3 0h1m1 0h1m5 0h1m2 0h2m2 0h15m1 0h1m1 0h2M102 65h1m3 0h2m5 0h1m8 0h1m2 0h1m1 0h14m1 0h1M110 66h1m1 0h1m1 0h1m1 0h1m1 0h1m4 0h3m1 0h16m1 0h1M106 67h1m2 0h1m12 0h2m1 0h17m3 0h1M103 68h1m8 0h1m3 0h3m2 0h1m1 0h18m1 0h3M113 69h1m1 0h2m1 0h1m1 0h1m1 0h1m1 0h16m1 0h1M93 70h1m17 0h1m3 0h5m1 0h16m1 0h5M102 71h1m11 0h1m1 0h1m1 0h1m1 0h1m1 0h16m1 0h1m1 0h1m4 0h1m3 0h1M72 72h1m34 0h3m4 0h1m3 0h1m3 0h18m1 0h1m2 0h3M108 73h1m2 0h1m4 0h1m2 0h3m1 0h16m5 0h1m1 0h1M99 74h1m7 0h1m2 0h2m2 0h1m2 0h2m1 0h19m5 0h1M92 75h1m19 0h1m1 0h1m1 0h18m1 0h3m1 0h1m3 0h1m2 0h1M92 76h1m12 0h1m2 0h6m2 0h20m1 0h2m4 0h1M74 77h1m30 0h1m1 0h1m1 0h3m1 0h3m1 0h20m2 0h1m9 0h1M73 78h1m8 0h1m6 0h1m3 0h1m2 0h1m3 0h1m1 0h1m2 0h2m2 0h1m1 0h5m2 0h16m1 0h2m1 0h1m2 0h1M83 79h1m5 0h1m10 0h1m5 0h1m4 0h1m1 0h22M75 80h1m7 0h1m9 0h1m3 0h2m2 0h1m6 0h1m1 0h3m1 0h17m1 0h2m1 0h1M88 81h1m6 0h1m8 0h1m1 0h2m1 0h1m1 0h19m1 0h1m1 0h1M75 82h1m2 0h1m1 0h1m7 0h1m4 0h1m3 0h1m5 0h1m1 0h1m1 0h1m1 0h1m1 0h21M73 83h1m2 0h1m15 0h1m1 0h1m2 0h1m4 0h1m3 0h1m2 0h1m1 0h21m3 0h1m3 0h1M76 84h1m4 0h1m3 0h1m4 0h1m8 0h3m1 0h4m2 0h21m2 0h1m2 0h1M77 85h1m9 0h1m1 0h2m1 0h1m3 0h1m1 0h1m2 0h1m3 0h23m1 0h2m4 0h1M71 86h1m11 0h1m1 0h2m1 0h1m1 0h1m3 0h1m1 0h1m1 0h1m1 0h4m1 0h20m1 0h3m2 0h2m5 0h2m3 0h1M58 87h1m3 0h1m3 0h1m2 0h1m16 0h2m1 0h2m1 0h1m1 0h2m3 0h4m1 0h22m1 0h1m1 0h2m1 0h1m2 0h1m10 0h1M69 88h1m10 0h1m2 0h1m1 0h13m1 0h15m1 0h9m1 0h2m2 0h1m1 0h1m2 0h1M62 89h1m4 0h1m1 0h1m3 0h1m2 0h1m3 0h2m2 0h2m1 0h1m2 0h33m1 0h1m1 0h1m10 0h1M55 90h1m5 0h1m3 0h2m1 0h3m2 0h1m1 0h1m2 0h4m1 0h2m1 0h2m2 0h2m1 0h4m1 0h22m1 0h3m1 0h1m16 0h1M61 91h1m4 0h1m1 0h3m1 0h1m2 0h1m1 0h1m1 0h1m1 0h2m1 0h7m1 0h2m1 0h26m1 0h1m2 0h1m3 0h1m5 0h1M60 92h2m2 0h1m1 0h1m1 0h4m1 0h5m2 0h2m1 0h35m2 0h3M54 93h1m3 0h1m1 0h1m1 0h1m3 0h1m2 0h1m2 0h1m1 0h1m1 0h6m1 0h34m1 0h3m2 0h1m1 0h1m8 0h1M52 94h1m1 0h4m1 0h1m1 0h1m2 0h1m2 0h4m1 0h2m1 0h4m1 0h3m1 0h4m1 0h6m1 0h21m4 0h1m1 0h1m5 0h1M47 95h1m5 0h2m2 0h1m4 0h2m1 0h50m1 0h1m1 0h1m4 0h1m6 0h1M52 96h1m3 0h8m1 0h3m1 0h15m1 0h1m2 0h29m1 0h1m1 0h1m1 0h1M51 97h2m2 0h2m2 0h2m1 0h16m1 0h38m3 0h1M45 98h1m3 0h4m1 0h4m1 0h9m1 0h18m1 0h24m1 0h2m1 0h3m1 0h1m8 0h1M50 99h1m1 0h4m1 0h4m2 0h6m1 0h2m1 0h11m1 0h30m1 0h1m2 0h2M47 100h3m1 0h1m1 0h2m1 0h1m3 0h3m2 0h11m1 0h35m1 0h1m1 0h1m2 0h2M45 101h3m1 0h1m1 0h1m1 0h11m1 0h2m1 0h6m1 0h4m1 0h5m1 0h30m3 0h1m4 0h1M36 102h1m10 0h1m1 0h1m1 0h2m1 0h3m1 0h4m1 0h5m1 0h1m1 0h6m1 0h1m1 0h34m1 0h1M36 103h1m1 0h1m4 0h1m3 0h2m2 0h21m1 0h1m1 0h8m1 0h28m1 0h4m4 0h1m5 0h1M32 104h1m7 0h1m3 0h1m1 0h1m2 0h2m1 0h8m2 0h10m1 0h36m1 0h3m1 0h1m1 0h2m1 0h2M43 105h1m1 0h3m1 0h1m1 0h8m1 0h13m1 0h21m1 0h16m1 0h2M30 106h1m15 0h11m2 0h19m1 0h4m1 0h25m1 0h3m1 0h4M42 107h1m2 0h4m1 0h1m1 0h12m2 0h4m1 0h10m1 0h1m1 0h22m1 0h4m2 0h2m5 0h1m2 0h1M35 108h1m4 0h4m3 0h1m2 0h1m2 0h4m1 0h4m1 0h5m1 0h10m1 0h3m1 0h4m1 0h1m1 0h4m1 0h3m3 0h9m1 0h2m1 0h2M36 109h1m3 0h1m3 0h1m1 0h1m1 0h1m3 0h3m1 0h2m1 0h4m1 0h7m1 0h1m1 0h7m1 0h2m1 0h17m1 0h1m1 0h1m3 0h1m2 0h1m1 0h1m4 0h1M37 110h1m1 0h1m5 0h1m1 0h2m1 0h2m2 0h2m1 0h21m2 0h1m1 0h13m2 0h2m5 0h1m3 0h2"/>
<g stroke="#080808" stroke-width="1.5" fill="none">
<rect x="500.3" y="711" width="201.7" height="145.7"/>
<path stroke-width="1.7" d="M624.7 711V856.7M500.3 800.9H702"/>
<path stroke-width="1.25" d="M500.3 856.7v5.21M500.3 856.7h-5.34M515.48 856.7v3.18M500.3 845.73h-3.26M524.36 856.7v3.18M500.3 839.32h-3.26M530.66 856.7v3.18M500.3 834.77h-3.26M535.55 856.7v3.18M500.3 831.24h-3.26M539.54 856.7v3.18M500.3 828.36h-3.26M542.91 856.7v3.18M500.3 825.92h-3.26M545.84 856.7v3.18M500.3 823.8h-3.26M548.42 856.7v3.18M500.3 821.94h-3.26M550.73 856.7v5.21M500.3 820.28h-5.34M565.9 856.7v3.18M500.3 809.31h-3.26M574.78 856.7v3.18M500.3 802.9h-3.26M581.08 856.7v3.18M500.3 798.34h-3.26M585.97 856.7v3.18M500.3 794.82h-3.26M589.96 856.7v3.18M500.3 791.93h-3.26M593.34 856.7v3.18M500.3 789.49h-3.26M596.26 856.7v3.18M500.3 787.38h-3.26M598.84 856.7v3.18M500.3 785.52h-3.26M601.15 856.7v5.21M500.3 783.85h-5.34M616.33 856.7v3.18M500.3 772.88h-3.26M625.21 856.7v3.18M500.3 766.47h-3.26M631.51 856.7v3.18M500.3 761.92h-3.26M636.4 856.7v3.18M500.3 758.39h-3.26M640.39 856.7v3.18M500.3 755.51h-3.26M643.76 856.7v3.18M500.3 753.07h-3.26M646.69 856.7v3.18M500.3 750.95h-3.26M649.27 856.7v3.18M500.3 749.09h-3.26M651.58 856.7v5.21M500.3 747.42h-5.34M666.75 856.7v3.18M500.3 736.46h-3.26M675.63 856.7v3.18M500.3 730.05h-3.26M681.93 856.7v3.18M500.3 725.49h-3.26M686.82 856.7v3.18M500.3 721.97h-3.26M690.81 856.7v3.18M500.3 719.08h-3.26M694.19 856.7v3.18M500.3 716.64h-3.26M697.11 856.7v3.18M500.3 714.53h-3.26M699.69 856.7v3.18M500.3 712.67h-3.26M702 856.7v5.21M500.3 711h-5.34"/>
</g>
<g font-weight="normal" fill="#1c1c1c">
<text transform="translate(580.73,707.14) scale(1.045,1)" font-size="10.23">012</text>
<text transform="translate(585.43,884.88) scale(1.035,1)" font-size="10.23">FL1-H</text>
<text transform="translate(492.11,874.65) scale(0.998,1)" font-size="10.23">10</text>
<text transform="translate(503.18,869.05) scale(1.102,1)" font-size="9">0</text>
<text transform="translate(494.37,864.22) rotate(-90) scale(0.877,1)" font-size="11.47">10</text>
<text transform="translate(487.15,853.41) rotate(-90) scale(0.959,1)" font-size="10.09">0</text>
<text transform="translate(542.53,874.65) scale(0.998,1)" font-size="10.23">10</text>
<text transform="translate(553.23,869.05) scale(1.102,1)" font-size="9">1</text>
<text transform="translate(494.37,829.24) rotate(-90) scale(0.877,1)" font-size="11.47">10</text>
<text transform="translate(487.15,818.79) rotate(-90) scale(0.959,1)" font-size="10.09">1</text>
<text transform="translate(595.92,874.65) scale(0.998,1)" font-size="10.23">10</text>
<text transform="translate(606.88,869.05) scale(1.102,1)" font-size="9">2</text>
<text transform="translate(494.37,792.82) rotate(-90) scale(0.877,1)" font-size="11.47">10</text>
<text transform="translate(487.15,782.11) rotate(-90) scale(0.959,1)" font-size="10.09">2</text>
<text transform="translate(643.38,874.65) scale(0.998,1)" font-size="10.23">10</text>
<text transform="translate(654.46,869.05) scale(1.102,1)" font-size="9">3</text>
<text transform="translate(494.37,756.39) rotate(-90) scale(0.877,1)" font-size="11.47">10</text>
<text transform="translate(487.15,745.57) rotate(-90) scale(0.959,1)" font-size="10.09">3</text>
<text transform="translate(691.93,874.65) scale(0.998,1)" font-size="10.23">10</text>
<text transform="translate(703.16,869.05) scale(1.102,1)" font-size="9">4</text>
<text transform="translate(494.37,719.97) rotate(-90) scale(0.877,1)" font-size="11.47">10</text>
<text transform="translate(487.15,709) rotate(-90) scale(0.959,1)" font-size="10.09">4</text>
<clipPath id="c101"><rect x="474.1" y="765.31" width="4.94" height="40"/></clipPath><g clip-path="url(#c101)"><text transform="translate(478.05,798.95) rotate(-90) scale(0.856,1)" font-size="11.47">FL2-H</text></g>
</g>
<path transform="translate(738.7,710.45) scale(1.3)" stroke="#0b0b0b" stroke-width="1" fill="none" d="M154 5h1M154 6h1M154 7h1M154 8h1M153 9h2M153 10h2M153 11h2M154 12h1M153 13h2M154 14h1M152 15h3M153 16h2M151 17h4M152 18h3M151 19h4M152 20h3M151 21h4M151 22h4M152 23h2M151 24h4M151 25h4M151 26h4M151 27h4M150 28h5M150 29h5M146 30h1m1 0h6M149 31h6M146 32h1m2 0h5M149 33h6M118 34h1m29 0h7M147 35h8M147 36h1m1 0h6M130 37h1m11 0h1m1 0h1m2 0h7M112 38h1m3 0h1m15 0h1m3 0h1m9 0h9M130 39h1m13 0h11M112 40h1m7 0h1m14 0h1m8 0h1m1 0h8M101 41h1m7 0h1m4 0h1m8 0h1m18 0h1m2 0h10M114 42h1m1 0h1m2 0h1m11 0h1m12 0h3m1 0h6M110 43h1m18 0h1m4 0h1m8 0h11M98 44h1m9 0h1m1 0h1m1 0h2m2 0h1m7 0h1m1 0h1m7 0h1m7 0h11m1 0h1M99 45h1m4 0h1m3 0h1m2 0h1m4 0h3m1 0h1m3 0h1m2 0h1m3 0h1m2 0h1m4 0h1m3 0h5m1 0h6M105 46h1m5 0h1m4 0h1m1 0h3m1 0h2m1 0h4m7 0h2m2 0h3m1 0h9M107 47h2m3 0h2m5 0h1m3 0h1m1 0h1m1 0h1m8 0h1m2 0h13m1 0h1M87 48h1m18 0h2m6 0h1m1 0h5m3 0h3m2 0h2m8 0h14m1 0h1M105 49h1m3 0h1m2 0h1m1 0h1m2 0h1m3 0h2m1 0h3m2 0h2m7 0h4m1 0h8m1 0h1M92 50h1m15 0h1m3 0h1m1 0h1m1 0h2m5 0h1m1 0h4m1 0h3m6 0h14M104 51h1m10 0h3m2 0h2m5 0h1m4 0h21M100 52h1m2 0h1m2 0h1m1 0h2m1 0h2m1 0h1m5 0h1m4 0h4m4 0h4m1 0h13m1 0h2M116 53h1m1 0h4m1 0h1m1 0h1m1 0h4m3 0h2m1 0h10m1 0h4m1 0h1M106 54h1m1 0h1m6 0h1m1 0h1m4 0h1m1 0h2m1 0h1m2 0h1m1 0h16m1 0h3M105 55h1m3 0h4m1 0h4m1 0h7m1 0h4m3 0h17M101 56h1m1 0h1m4 0h1m2 0h1m1 0h3m1 0h1m1 0h1m2 0h2m1 0h3m1 0h22M103 57h1m3 0h1m3 0h1m3 0h1m1 0h1m1 0h1m1 0h1m4 0h5m2 0h2m1 0h3m1 0h11m3 0h1M80 58h1m31 0h1m1 0h2m5 0h2m1 0h4m4 0h17m2 0h1M82 59h1m22 0h1m1 0h1m2 0h1m2 0h1m2 0h1m2 0h2m2 0h2m3 0h1m2 0h19m2 0h1M104 60h1m4 0h2m1 0h2m3 0h2m2 0h3m2 0h5m1 0h2m1 0h16M104 61h1m1 0h1m7 0h2m3 0h1m1 0h1m2 0h1m1 0h25m3 0h1M101 62h1m2 0h3m3 0h1m7 0h2m2 0h3m6 0h16M88 63h1m12 0h1m4 0h1m4 0h1m3 0h2m2 0h1m3 0h1m2 0h3m1 0h14m1 0h4m1 0h1M100 64h1m2 0h1m7 0h2m2 0h3m5 0h1m1 0h1m2 0h19m1 0h1M99 65h2m1 0h2m2 0h1m2 0h2m2 0h1m1 0h2m1 0h1m1 0h3m2 0h3m1 0h17m2 0h1m1 0h1m2 0h1M104 66h1m4 0h1m1 0h2m5 0h3m3 0h2m1 0h17m1 0h1m4 0h1M110 67h1m1 0h1m2 0h1m2 0h1m1 0h2m1 0h2m1 0h20m5 0h1M100 68h1m10 0h1m6 0h1m4 0h1m1 0h2m1 0h15m1 0h2M100 69h1m6 0h1m2 0h1m3 0h1m1 0h1m1 0h1m4 0h1m1 0h17m1 0h3m8 0h1M89 70h1m23 0h2m4 0h1m1 0h1m1 0h17m1 0h3M94 71h1m5 0h1m2 0h1m6 0h1m6 0h1m2 0h3m1 0h20m2 0h1M111 72h1m1 0h2m3 0h1m1 0h16m1 0h6m1 0h1M106 73h1m5 0h1m2 0h2m1 0h24m2 0h1m2 0h2M107 74h1m1 0h1m1 0h2m1 0h2m2 0h4m1 0h19m1 0h1m5 0h1M77 75h1m29 0h1m5 0h2m1 0h2m1 0h1m1 0h21m1 0h1m1 0h1M55 76h1m37 0h1m19 0h6m1 0h22m1 0h2M89 77h1m14 0h1m3 0h1m5 0h25m1 0h1M98 78h1m6 0h1m3 0h1m1 0h1m3 0h25m1 0h1m1 0h1M100 79h1m6 0h1m1 0h1m3 0h1m1 0h25M52 80h1m43 0h1m1 0h1m3 0h1m6 0h29m1 0h1m1 0h1m2 0h1m1 0h1m2 0h2M52 81h1m21 0h1m5 0h1m3 0h1m5 0h1m11 0h2m4 0h1m2 0h1m1 0h25m3 0h1m5 0h1M82 82h1m3 0h1m12 0h1m3 0h1m4 0h28m1 0h2m2 0h1m6 0h1M75 83h1m15 0h1m9 0h2m2 0h30m1 0h1m1 0h1M68 84h1m4 0h1m4 0h1m6 0h1m10 0h1m1 0h1m5 0h1m1 0h3m1 0h20m1 0h1m1 0h1m1 0h1m1 0h1M68 85h1m5 0h1m11 0h1m7 0h1m2 0h2m2 0h1m2 0h3m1 0h23m1 0h2m1 0h1m1 0h2m1 0h1m2 0h1M62 86h1m16 0h1m7 0h1m3 0h1m4 0h1m2 0h1m5 0h1m1 0h25m4 0h2M63 87h2m11 0h1m1 0h1m3 0h1m2 0h1m7 0h1m3 0h1m2 0h1m1 0h2m2 0h13m1 0h1m1 0h8m1 0h1m1 0h2m1 0h2M80 88h1m1 0h1m7 0h1m2 0h2m1 0h4m1 0h2m1 0h28m1 0h1m2 0h1M60 89h1m15 0h1m3 0h1m2 0h1m5 0h1m2 0h1m4 0h2m1 0h8m1 0h5m1 0h15m1 0h1m1 0h2M59 90h1m12 0h1m4 0h3m3 0h1m6 0h3m2 0h37M56 91h1m6 0h1m1 0h2m10 0h2m1 0h1m2 0h1m1 0h5m1 0h1m2 0h2m2 0h29m1 0h2m1 0h1m2 0h1M62 92h1m2 0h2m5 0h2m4 0h1m1 0h2m3 0h2m1 0h3m1 0h34m1 0h1m1 0h1m8 0h1M49 93h1m8 0h1m3 0h1m6 0h1m1 0h1m1 0h1m6 0h1m1 0h2m1 0h1m1 0h1m1 0h32m1 0h3m1 0h2m4 0h3M39 94h1m22 0h1m6 0h1m2 0h2m1 0h48m2 0h2m6 0h1m3 0h1M49 95h1m3 0h1m2 0h1m11 0h1m2 0h4m2 0h1m2 0h3m1 0h2m1 0h4m1 0h36m1 0h1M37 96h1m16 0h1m2 0h1m10 0h1m4 0h1m3 0h2m1 0h41m2 0h1m1 0h1m1 0h1M60 97h2m4 0h1m3 0h2m1 0h1m3 0h1m1 0h43m6 0h2m9 0h1M56 98h1m12 0h2m1 0h17m1 0h29m1 0h1m3 0h1m2 0h2m3 0h1M51 99h1m3 0h1m5 0h1m2 0h1m1 0h5m1 0h50M58 100h1m5 0h5m1 0h17m1 0h28m1 0h1m1 0h2m1 0h1m4 0h1M46 101h1m6 0h1m5 0h2m3 0h1m1 0h1m1 0h2m1 0h8m1 0h37m1 0h1m2 0h1m10 0h1M58 102h4m1 0h1m2 0h51m4 0h1m10 0h1m4 0h1M38 103h1m17 0h1m1 0h6m1 0h1m1 0h5m1 0h42m2 0h1m3 0h1m1 0h1M54 104h1m4 0h1m1 0h1m1 0h2m1 0h8m1 0h41m2 0h1m1 0h1m1 0h1M56 105h1m2 0h1m2 0h2m1 0h47m1 0h1m4 0h1M39 106h1m8 0h2m4 0h1m4 0h2m2 0h1m3 0h5m1 0h38m1 0h1m1 0h2m2 0h1M29 107h1m24 0h1m1 0h1m3 0h1m3 0h43m1 0h2m1 0h5m1 0h1M50 108h1m3 0h2m1 0h2m1 0h1m2 0h2m2 0h1m1 0h9m1 0h7m1 0h20m1 0h6m1 0h2m2 0h2M51 109h1m1 0h1m1 0h1m2 0h1m1 0h1m1 0h3m1 0h1m1 0h2m2 0h3m1 0h6m1 0h28m1 0h1m2 0h1m6 0h1M46 110h1m3 0h2m5 0h4m1 0h1m1 0h14m1 0h1m1 0h3m1 0h23m1 0h1m1 0h1m4 0h1m3 0h1M49 111h1m1 0h1m2 0h1m2 0h3m3 0h1m2 0h22m1 0h8m2 0h7m2 0h1m6 0h1M51 112h1m1 0h3m4 0h4m2 0h3m1 0h5m1 0h2m1 0h15m1 0h1m1 0h1m1 0h6m1 0h2m1 0h1m1 0h1m12 0h1m7 0h1M49 113h1m1 0h1m1 0h1m1 0h2m4 0h1m2 0h5m1 0h1m2 0h1m1 0h3m1 0h3m1 0h4m1 0h1m1 0h2m1 0h1m3 0h1m3 0h2m1 0h1m1 0h4m15 0h1"/>
<g stroke="#080808" stroke-width="1.5" fill="none">
<rect x="737.5" y="708.6" width="203.2" height="149.9"/>
<path stroke-width="1.7" d="M863.4 708.6V858.5M737.5 801.5H940.7"/>
<path stroke-width="1.25" d="M737.5 858.5v5.36M737.5 858.5h-5.38M752.79 858.5v3.28M737.5 847.22h-3.29M761.74 858.5v3.28M737.5 840.62h-3.29M768.08 858.5v3.28M737.5 835.94h-3.29M773.01 858.5v3.28M737.5 832.31h-3.29M777.03 858.5v3.28M737.5 829.34h-3.29M780.43 858.5v3.28M737.5 826.83h-3.29M783.38 858.5v3.28M737.5 824.66h-3.29M785.98 858.5v3.28M737.5 822.74h-3.29M788.3 858.5v5.36M737.5 821.02h-5.38M803.59 858.5v3.28M737.5 809.74h-3.29M812.54 858.5v3.28M737.5 803.14h-3.29M818.88 858.5v3.28M737.5 798.46h-3.29M823.81 858.5v3.28M737.5 794.83h-3.29M827.83 858.5v3.28M737.5 791.86h-3.29M831.23 858.5v3.28M737.5 789.35h-3.29M834.18 858.5v3.28M737.5 787.18h-3.29M836.78 858.5v3.28M737.5 785.26h-3.29M839.1 858.5v5.36M737.5 783.55h-5.38M854.39 858.5v3.28M737.5 772.27h-3.29M863.34 858.5v3.28M737.5 765.67h-3.29M869.68 858.5v3.28M737.5 760.99h-3.29M874.61 858.5v3.28M737.5 757.36h-3.29M878.63 858.5v3.28M737.5 754.39h-3.29M882.03 858.5v3.28M737.5 751.88h-3.29M884.98 858.5v3.28M737.5 749.71h-3.29M887.58 858.5v3.28M737.5 747.79h-3.29M889.9 858.5v5.36M737.5 746.08h-5.38M905.19 858.5v3.28M737.5 734.79h-3.29M914.14 858.5v3.28M737.5 728.19h-3.29M920.48 858.5v3.28M737.5 723.51h-3.29M925.41 858.5v3.28M737.5 719.88h-3.29M929.43 858.5v3.28M737.5 716.91h-3.29M932.83 858.5v3.28M737.5 714.4h-3.29M935.78 858.5v3.28M737.5 712.23h-3.29M938.38 858.5v3.28M737.5 710.31h-3.29M940.7 858.5v5.36M737.5 708.6h-5.38"/>
</g>
<g font-weight="normal" fill="#1c1c1c">
<text transform="translate(818.53,704.63) scale(1.023,1)" font-size="10.52">011</text>
<text transform="translate(823.26,887.49) scale(1.014,1)" font-size="10.52">FL1-H</text>
<text transform="translate(729.25,876.96) scale(0.977,1)" font-size="10.52">10</text>
<text transform="translate(740.4,871.21) scale(1.079,1)" font-size="9.26">0</text>
<text transform="translate(731.52,866.24) rotate(-90) scale(0.896,1)" font-size="11.55">10</text>
<text transform="translate(724.25,855.12) rotate(-90) scale(0.979,1)" font-size="10.17">0</text>
<text transform="translate(780.05,876.96) scale(0.977,1)" font-size="10.52">10</text>
<text transform="translate(790.83,871.21) scale(1.079,1)" font-size="9.26">1</text>
<text transform="translate(731.52,830.25) rotate(-90) scale(0.896,1)" font-size="11.55">10</text>
<text transform="translate(724.25,819.5) rotate(-90) scale(0.979,1)" font-size="10.17">1</text>
<text transform="translate(833.84,876.96) scale(0.977,1)" font-size="10.52">10</text>
<text transform="translate(844.88,871.21) scale(1.079,1)" font-size="9.26">2</text>
<text transform="translate(731.52,792.77) rotate(-90) scale(0.896,1)" font-size="11.55">10</text>
<text transform="translate(724.25,781.76) rotate(-90) scale(0.979,1)" font-size="10.17">2</text>
<text transform="translate(881.65,876.96) scale(0.977,1)" font-size="10.52">10</text>
<text transform="translate(892.81,871.21) scale(1.079,1)" font-size="9.26">3</text>
<text transform="translate(731.52,755.3) rotate(-90) scale(0.896,1)" font-size="11.55">10</text>
<text transform="translate(724.25,744.17) rotate(-90) scale(0.979,1)" font-size="10.17">3</text>
<text transform="translate(930.56,876.96) scale(0.977,1)" font-size="10.52">10</text>
<text transform="translate(941.87,871.21) scale(1.079,1)" font-size="9.26">4</text>
<text transform="translate(731.52,717.82) rotate(-90) scale(0.896,1)" font-size="11.55">10</text>
<text transform="translate(724.25,706.54) rotate(-90) scale(0.979,1)" font-size="10.17">4</text>
<clipPath id="c102"><rect x="711.1" y="765.05" width="4.98" height="40"/></clipPath><g clip-path="url(#c102)"><text transform="translate(715.09,799.08) rotate(-90) scale(0.874,1)" font-size="11.55">FL2-H</text></g>
</g>
<path transform="translate(980.4,715.45) scale(1.3)" stroke="#0b0b0b" stroke-width="1" fill="none" d="M153 4h1M153 5h1M153 6h1M153 7h1M152 8h2M152 9h2M152 10h2M153 11h1M152 12h2M152 13h2M152 14h2M151 15h1m1 0h1M152 16h2M152 17h2M152 18h2M151 19h3M152 20h2M152 21h2M150 22h4M151 23h3M149 24h1m1 0h3M150 25h4M151 26h3M150 27h4M150 28h4M149 29h5M148 30h6M149 31h5M148 32h6M137 33h1m7 0h1m2 0h5M145 34h1m2 0h5M133 35h1m1 0h1m11 0h4m1 0h1M130 36h3m1 0h1m1 0h2m1 0h1m7 0h7M124 37h1m14 0h1m5 0h2m1 0h4m1 0h1M127 38h1m3 0h1m1 0h1m4 0h1m7 0h8M130 39h2m9 0h1m2 0h1m1 0h8M114 40h1m1 0h1m9 0h1m7 0h3m5 0h1m2 0h7M122 41h1m3 0h1m4 0h3m2 0h1m6 0h10M120 42h1m8 0h1m1 0h1m1 0h2m4 0h1m1 0h1m1 0h11M124 43h1m3 0h1m3 0h1m2 0h1m2 0h1m2 0h13M121 44h1m1 0h2m3 0h1m2 0h2m4 0h2m2 0h9m1 0h2M117 45h1m9 0h1m2 0h3m2 0h17M114 46h1m9 0h2m2 0h2m2 0h2m1 0h17m1 0h1M123 47h3m1 0h1m1 0h1m2 0h6m1 0h12M119 48h1m7 0h2m2 0h23M118 49h1m4 0h1m2 0h2m1 0h1m1 0h21M120 50h3m2 0h2m2 0h2m1 0h1m1 0h14m1 0h2M121 51h1m1 0h1m3 0h3m2 0h20M114 52h2m3 0h2m5 0h1m3 0h17m1 0h1m1 0h2M118 53h2m6 0h1m1 0h1m2 0h18m1 0h1M117 54h1m2 0h1m2 0h1m1 0h1m1 0h1m1 0h20m1 0h2M119 55h1m1 0h2m2 0h6m1 0h18M118 56h1m3 0h1m1 0h23m1 0h3M114 57h1m2 0h2m1 0h1m1 0h3m1 0h19m2 0h3M113 58h1m4 0h2m3 0h4m1 0h20M108 59h1m6 0h1m1 0h1m1 0h1m3 0h2m1 0h23m1 0h1M114 60h1m4 0h3m1 0h25m1 0h1M106 61h1m4 0h1m6 0h3m1 0h24m1 0h1M106 62h1m8 0h1m1 0h2m2 0h28m1 0h2m1 0h1M105 63h1m1 0h1m9 0h1m1 0h1m2 0h3m1 0h1m1 0h20M106 64h1m13 0h25m6 0h1M81 65h1m27 0h1m4 0h1m1 0h2m2 0h1m1 0h24M107 66h1m3 0h1m3 0h1m1 0h31M107 67h2m5 0h1m2 0h26m2 0h4M107 68h1m4 0h1m3 0h1m1 0h27M87 69h1m4 0h1m12 0h1m4 0h3m1 0h30m2 0h1M95 70h1m13 0h1m1 0h1m2 0h1m1 0h2m1 0h27M83 71h1m3 0h1m6 0h1m9 0h2m1 0h1m4 0h4m1 0h22m1 0h3m2 0h1M106 72h2m1 0h3m2 0h3m1 0h24M94 73h1m6 0h1m8 0h3m1 0h4m1 0h20m1 0h4M85 74h2m13 0h1m1 0h1m6 0h1m2 0h31m1 0h2M78 75h1m16 0h1m6 0h1m1 0h3m2 0h1m1 0h2m1 0h25M89 76h1m7 0h1m5 0h1m3 0h3m1 0h5m1 0h2m1 0h16m1 0h5M90 77h1m1 0h1m6 0h1m6 0h2m1 0h4m1 0h1m1 0h8m1 0h15m1 0h1m2 0h1m6 0h1M78 78h1m6 0h1m1 0h1m3 0h1m5 0h1m3 0h1m5 0h1m1 0h3m2 0h25m5 0h1M83 79h1m3 0h2m3 0h2m2 0h1m1 0h2m1 0h1m2 0h1m1 0h1m2 0h1m2 0h25m3 0h1m1 0h2M57 80h1m30 0h1m2 0h1m2 0h1m5 0h2m3 0h1m3 0h5m1 0h2m1 0h17m1 0h3m1 0h1m1 0h1M81 81h1m4 0h1m4 0h1m3 0h3m4 0h2m2 0h14m1 0h13m1 0h1m1 0h1m2 0h1M84 82h2m3 0h1m1 0h1m1 0h1m5 0h1m1 0h1m1 0h1m1 0h2m2 0h3m1 0h17m1 0h1m2 0h2m2 0h2M84 83h1m5 0h1m1 0h1m1 0h3m1 0h1m2 0h1m1 0h2m3 0h1m1 0h16m1 0h3m1 0h3m6 0h1M79 84h1m7 0h1m5 0h1m1 0h5m2 0h1m4 0h2m1 0h20m1 0h5m3 0h1M83 85h1m4 0h1m1 0h3m3 0h4m2 0h31m2 0h1m1 0h2M72 86h1m5 0h1m3 0h1m8 0h1m2 0h1m3 0h1m5 0h4m1 0h2m1 0h19m2 0h1m1 0h1m2 0h1M85 87h2m2 0h4m2 0h3m3 0h32m2 0h1M73 88h1m2 0h1m1 0h2m5 0h1m5 0h1m1 0h1m1 0h1m1 0h4m1 0h6m2 0h21m3 0h1m1 0h1M48 89h1m26 0h1m1 0h2m6 0h1m1 0h2m3 0h1m3 0h6m2 0h26m1 0h1m1 0h3m1 0h1M55 90h1m18 0h1m8 0h1m1 0h1m1 0h1m2 0h2m2 0h1m3 0h2m1 0h5m1 0h23M38 91h1m1 0h1m5 0h1m5 0h1m19 0h1m8 0h2m2 0h2m2 0h8m1 0h14m1 0h13m1 0h1m1 0h2m2 0h1M54 92h1m11 0h1m6 0h1m7 0h2m2 0h3m1 0h1m1 0h3m2 0h1m3 0h1m2 0h1m1 0h23m1 0h1m1 0h2m6 0h2M63 93h1m8 0h1m8 0h1m2 0h1m1 0h1m2 0h3m1 0h1m1 0h1m1 0h1m2 0h2m1 0h10m1 0h14m1 0h2m3 0h2M9 94h1m16 0h1m2 0h1m30 0h1m6 0h1m11 0h1m3 0h1m1 0h1m2 0h2m2 0h2m1 0h1m3 0h1m3 0h7m1 0h17m1 0h2m2 0h2m4 0h1m1 0h1M56 95h1m10 0h1m8 0h5m4 0h1m1 0h2m2 0h3m1 0h32m1 0h2m1 0h1M9 96h1m1 0h1m26 0h1m43 0h2m1 0h1m2 0h1m1 0h2m1 0h25m1 0h9m2 0h1M2 97h1m44 0h1m17 0h1m8 0h1m4 0h1m1 0h3m3 0h1m2 0h1m3 0h2m1 0h1m1 0h30m13 0h1M37 98h1m33 0h1m5 0h2m1 0h1m2 0h2m1 0h3m1 0h1m1 0h1m2 0h18m1 0h3m1 0h5m1 0h1m2 0h1m2 0h1M56 99h1m15 0h1m2 0h1m3 0h1m7 0h2m1 0h1m2 0h33m1 0h1m2 0h1m3 0h2M41 100h1m40 0h2m1 0h2m1 0h1m1 0h2m1 0h1m1 0h3m1 0h5m1 0h4m2 0h10m1 0h1m1 0h1m1 0h1m2 0h1m1 0h3M73 101h2m1 0h1m1 0h1m1 0h4m1 0h3m2 0h3m1 0h2m1 0h22m2 0h7M55 102h1m13 0h1m3 0h1m8 0h1m3 0h1m1 0h1m3 0h5m1 0h3m1 0h21m1 0h5M19 103h1m28 0h1m7 0h1m8 0h2m15 0h1m2 0h1m7 0h3m1 0h22m1 0h4m1 0h1m6 0h1M64 104h1m9 0h2m3 0h1m3 0h2m2 0h1m3 0h1m1 0h29m1 0h1m5 0h1M79 105h1m3 0h1m4 0h2m2 0h1m1 0h2m3 0h20m1 0h7m9 0h2M30 106h1m46 0h1m5 0h1m3 0h3m1 0h2m4 0h9m1 0h6m1 0h9m1 0h2m1 0h1M45 107h1m24 0h1m12 0h3m2 0h1m2 0h18m1 0h4m1 0h1m1 0h5m2 0h1m1 0h1m1 0h2M30 108h1m34 0h1m12 0h1m1 0h1m6 0h1m1 0h1m1 0h1m1 0h1m2 0h1m1 0h24m4 0h1m7 0h1M42 109h1m44 0h2m2 0h2m1 0h1m2 0h1m1 0h21m1 0h1m2 0h1M51 110h1m22 0h2m5 0h1m1 0h1m2 0h5m2 0h5m1 0h14m1 0h2m2 0h3m1 0h1M32 111h1m19 0h1m35 0h1m2 0h1m3 0h1m1 0h2m1 0h9m1 0h1m1 0h3m5 0h1m4 0h1m1 0h1"/>
<g stroke="#080808" stroke-width="1.5" fill="none">
<rect x="978.8" y="713" width="202.3" height="147.9"/>
<path stroke-width="1.7" d="M1103.2 713V860.9M978.8 804.2H1181.1"/>
<path stroke-width="1.25" d="M978.8 860.9v5.29M978.8 860.9h-5.35M994.02 860.9v3.23M978.8 849.77h-3.27M1002.93 860.9v3.23M978.8 843.26h-3.27M1009.25 860.9v3.23M978.8 838.64h-3.27M1014.15 860.9v3.23M978.8 835.06h-3.27M1018.15 860.9v3.23M978.8 832.13h-3.27M1021.54 860.9v3.23M978.8 829.65h-3.27M1024.47 860.9v3.23M978.8 827.51h-3.27M1027.06 860.9v3.23M978.8 825.62h-3.27M1029.38 860.9v5.29M978.8 823.92h-5.35M1044.6 860.9v3.23M978.8 812.79h-3.27M1053.51 860.9v3.23M978.8 806.28h-3.27M1059.82 860.9v3.23M978.8 801.66h-3.27M1064.73 860.9v3.23M978.8 798.08h-3.27M1068.73 860.9v3.23M978.8 795.15h-3.27M1072.12 860.9v3.23M978.8 792.68h-3.27M1075.05 860.9v3.23M978.8 790.53h-3.27M1077.64 860.9v3.23M978.8 788.64h-3.27M1079.95 860.9v5.29M978.8 786.95h-5.35M1095.17 860.9v3.23M978.8 775.82h-3.27M1104.08 860.9v3.23M978.8 769.31h-3.27M1110.4 860.9v3.23M978.8 764.69h-3.27M1115.3 860.9v3.23M978.8 761.11h-3.27M1119.3 860.9v3.23M978.8 758.18h-3.27M1122.69 860.9v3.23M978.8 755.7h-3.27M1125.62 860.9v3.23M978.8 753.56h-3.27M1128.21 860.9v3.23M978.8 751.67h-3.27M1130.52 860.9v5.29M978.8 749.98h-5.35M1145.75 860.9v3.23M978.8 738.84h-3.27M1154.66 860.9v3.23M978.8 732.33h-3.27M1160.97 860.9v3.23M978.8 727.71h-3.27M1165.88 860.9v3.23M978.8 724.13h-3.27M1169.88 860.9v3.23M978.8 721.2h-3.27M1173.27 860.9v3.23M978.8 718.73h-3.27M1176.2 860.9v3.23M978.8 716.58h-3.27M1178.79 860.9v3.23M978.8 714.69h-3.27M1181.1 860.9v5.29M978.8 713h-5.35"/>
</g>
<g font-weight="normal" fill="#1c1c1c">
<text transform="translate(1059.47,709.08) scale(1.033,1)" font-size="10.38">010</text>
<text transform="translate(1064.18,889.5) scale(1.023,1)" font-size="10.38">FL1-H</text>
<text transform="translate(970.58,879.12) scale(0.986,1)" font-size="10.38">10</text>
<text transform="translate(981.68,873.44) scale(1.089,1)" font-size="9.14">0</text>
<text transform="translate(972.85,868.53) rotate(-90) scale(0.888,1)" font-size="11.5">10</text>
<text transform="translate(965.61,857.56) rotate(-90) scale(0.971,1)" font-size="10.12">0</text>
<text transform="translate(1021.16,879.12) scale(0.986,1)" font-size="10.38">10</text>
<text transform="translate(1031.89,873.44) scale(1.089,1)" font-size="9.14">1</text>
<text transform="translate(972.85,833.03) rotate(-90) scale(0.888,1)" font-size="11.5">10</text>
<text transform="translate(965.61,822.42) rotate(-90) scale(0.971,1)" font-size="10.12">1</text>
<text transform="translate(1074.71,879.12) scale(0.986,1)" font-size="10.38">10</text>
<text transform="translate(1085.7,873.44) scale(1.089,1)" font-size="9.14">2</text>
<text transform="translate(972.85,796.05) rotate(-90) scale(0.888,1)" font-size="11.5">10</text>
<text transform="translate(965.61,785.19) rotate(-90) scale(0.971,1)" font-size="10.12">2</text>
<text transform="translate(1122.31,879.12) scale(0.986,1)" font-size="10.38">10</text>
<text transform="translate(1133.42,873.44) scale(1.089,1)" font-size="9.14">3</text>
<text transform="translate(972.85,759.08) rotate(-90) scale(0.888,1)" font-size="11.5">10</text>
<text transform="translate(965.61,748.1) rotate(-90) scale(0.971,1)" font-size="10.12">3</text>
<text transform="translate(1171,879.12) scale(0.986,1)" font-size="10.38">10</text>
<text transform="translate(1182.26,873.44) scale(1.089,1)" font-size="9.14">4</text>
<text transform="translate(972.85,722.1) rotate(-90) scale(0.888,1)" font-size="11.5">10</text>
<text transform="translate(965.61,710.97) rotate(-90) scale(0.971,1)" font-size="10.12">4</text>
<clipPath id="c103"><rect x="952.52" y="768.43" width="4.96" height="40"/></clipPath><g clip-path="url(#c103)"><text transform="translate(956.49,802.27) rotate(-90) scale(0.866,1)" font-size="11.5">FL2-H</text></g>
</g>
<path transform="translate(1213.9,713.95) scale(1.3)" stroke="#0b0b0b" stroke-width="1" fill="none" d="M150 4h1M150 5h1M150 6h1M149 7h2M150 8h1M149 9h2M149 10h2M149 11h2M148 12h3M149 13h2M149 14h2M149 15h2M148 16h3M150 17h1M149 18h2M149 19h2M148 20h3M149 21h2M149 22h2M148 23h3M149 24h2M148 25h3M146 26h5M147 27h4M147 28h4M118 29h1m26 0h2m1 0h3M111 30h1m10 0h1m23 0h5M143 31h1m2 0h4M111 32h1m9 0h1m22 0h1m3 0h2M114 33h1m2 0h1m24 0h1m2 0h1m1 0h3M115 34h1m2 0h1m26 0h4M145 35h5M105 36h1m4 0h1m6 0h2m4 0h1m19 0h8M112 37h2m2 0h1m1 0h1m3 0h3m3 0h1m12 0h1m1 0h1m1 0h5M119 38h2m21 0h1m2 0h4M117 39h1m1 0h1m1 0h1m1 0h2m1 0h1m13 0h1m1 0h1m1 0h6M110 40h1m5 0h1m5 0h2m15 0h11M109 41h1m6 0h1m2 0h4m1 0h1m2 0h1m11 0h5m1 0h6M103 42h1m12 0h4m2 0h1m5 0h1m8 0h1m3 0h1m1 0h7M101 43h1m5 0h3m1 0h1m2 0h2m1 0h1m2 0h4m1 0h1m1 0h1m3 0h1m1 0h1m4 0h1m2 0h10M105 44h4m2 0h4m2 0h5m2 0h3m3 0h1m4 0h1m1 0h1m1 0h1m1 0h8M103 45h2m4 0h4m1 0h1m4 0h1m2 0h8m3 0h1m5 0h9M107 46h9m1 0h2m1 0h2m1 0h1m1 0h3m4 0h1m7 0h6m1 0h2M102 47h1m1 0h1m1 0h1m1 0h1m6 0h2m2 0h2m2 0h3m1 0h1m1 0h1m6 0h11m1 0h1M103 48h1m1 0h2m1 0h1m1 0h15m2 0h3m2 0h2m1 0h2m1 0h10M100 49h1m3 0h1m4 0h1m1 0h2m1 0h2m1 0h5m1 0h2m1 0h1m1 0h3m2 0h1m1 0h1m1 0h1m1 0h9m2 0h1M101 50h2m6 0h4m1 0h8m1 0h7m2 0h2m4 0h9m3 0h1M103 51h2m2 0h5m1 0h2m1 0h2m2 0h5m1 0h2m2 0h1m1 0h1m3 0h10m2 0h1M102 52h1m1 0h3m1 0h17m2 0h2m1 0h2m1 0h13m2 0h1M104 53h13m1 0h1m1 0h6m2 0h2m1 0h1m1 0h13m2 0h1M106 54h7m1 0h4m1 0h7m1 0h1m3 0h2m1 0h1m1 0h11M93 55h1m2 0h1m7 0h1m1 0h1m2 0h14m4 0h2m3 0h13m1 0h1M94 56h1m7 0h2m4 0h2m2 0h6m4 0h2m1 0h4m1 0h12m1 0h3m1 0h2M108 57h1m2 0h4m1 0h6m1 0h7m1 0h15m2 0h1M104 58h1m4 0h12m1 0h5m1 0h4m1 0h11m2 0h1M105 59h1m1 0h3m3 0h3m1 0h2m1 0h3m1 0h2m1 0h16m2 0h1M102 60h1m2 0h8m1 0h4m1 0h2m1 0h22m2 0h1M67 61h1m35 0h1m4 0h1m1 0h1m1 0h7m1 0h3m1 0h1m1 0h15m1 0h2m3 0h1M76 62h1m25 0h1m1 0h1m1 0h5m6 0h4m1 0h4m1 0h15m1 0h1M73 63h2m25 0h1m4 0h2m3 0h1m1 0h9m1 0h2m3 0h16m1 0h1M79 64h1m21 0h1m2 0h1m1 0h1m5 0h2m1 0h4m1 0h3m1 0h17m1 0h4M77 65h2m14 0h1m4 0h2m3 0h1m4 0h1m1 0h3m1 0h2m1 0h1m1 0h20m1 0h1M86 66h1m15 0h2m4 0h2m1 0h11m1 0h11m1 0h4M108 67h5m1 0h19m1 0h5M86 68h1m5 0h1m5 0h1m4 0h1m5 0h1m2 0h2m1 0h1m1 0h24m1 0h1M84 69h1m7 0h2m5 0h1m1 0h2m2 0h4m1 0h3m1 0h1m1 0h22m2 0h2m2 0h1m4 0h1M67 70h1m30 0h1m2 0h2m4 0h10m1 0h20m3 0h1M96 71h2m2 0h1m1 0h3m1 0h1m1 0h1m1 0h1m1 0h1m1 0h22m2 0h2m2 0h2M97 72h1m3 0h2m1 0h2m1 0h2m1 0h18m1 0h8m2 0h2m2 0h1m3 0h1M85 73h2m1 0h1m3 0h2m1 0h4m2 0h5m1 0h2m1 0h1m1 0h22m1 0h5M94 74h1m1 0h3m1 0h1m1 0h1m1 0h1m1 0h9m1 0h18m1 0h1m1 0h3m9 0h1M80 75h1m4 0h1m2 0h1m1 0h2m1 0h1m1 0h3m1 0h1m1 0h2m1 0h24m1 0h5m1 0h2m2 0h1m2 0h2m2 0h1M84 76h1m3 0h2m3 0h1m1 0h1m1 0h2m1 0h5m1 0h26m1 0h6m2 0h1m2 0h1M77 77h1m13 0h2m4 0h1m1 0h1m1 0h33m1 0h3m1 0h1M86 78h1m2 0h1m1 0h3m2 0h1m1 0h18m1 0h16m1 0h4m7 0h1M84 79h1m1 0h2m5 0h2m1 0h1m1 0h36m2 0h3m2 0h2m1 0h1M82 80h1m4 0h1m3 0h1m1 0h43m1 0h1m10 0h1M80 81h2m6 0h1m3 0h47m5 0h2M58 82h1m12 0h1m6 0h1m8 0h2m1 0h44m1 0h2m3 0h1m2 0h1M71 83h1m11 0h2m2 0h2m3 0h44M68 84h1m14 0h1m3 0h5m1 0h40m1 0h1m2 0h2m5 0h1M83 85h1m1 0h2m1 0h44m1 0h2m1 0h2M73 86h1m11 0h1m1 0h1m1 0h46m1 0h3m3 0h1M70 87h1m4 0h2m3 0h1m1 0h2m1 0h5m1 0h2m1 0h36m1 0h1M60 88h1m6 0h1m12 0h1m2 0h3m4 0h36m1 0h8m1 0h1m2 0h1M70 89h2m5 0h1m2 0h2m1 0h1m2 0h1m1 0h1m3 0h40m1 0h1m1 0h1M54 90h1m18 0h1m1 0h1m3 0h1m1 0h1m1 0h44m2 0h1m1 0h1m6 0h2m1 0h1M45 91h1m28 0h1m3 0h2m3 0h1m2 0h1m1 0h9m1 0h28m1 0h3m1 0h2m2 0h1M61 92h1m9 0h2m1 0h1m1 0h2m5 0h9m1 0h34m2 0h1m1 0h2m3 0h1M67 93h1m3 0h1m2 0h1m4 0h2m2 0h1m2 0h5m1 0h34m2 0h1m2 0h2M53 94h1m9 0h1m18 0h2m2 0h13m1 0h25m1 0h2m1 0h2m2 0h1m4 0h1M63 95h1m3 0h1m1 0h1m1 0h1m1 0h1m7 0h1m3 0h9m1 0h27m1 0h7m5 0h1M31 96h1m1 0h1m13 0h1m8 0h1m10 0h1m5 0h1m2 0h4m2 0h40m3 0h2m2 0h2m1 0h1m1 0h1M61 97h1m1 0h1m6 0h1m1 0h1m3 0h4m4 0h3m2 0h1m1 0h26m1 0h1m1 0h2m1 0h3m2 0h1m1 0h2m1 0h1m3 0h3M35 98h1m21 0h1m10 0h1m1 0h4m2 0h1m6 0h1m1 0h1m1 0h2m1 0h1m1 0h19m1 0h7m2 0h2m1 0h2m1 0h1m6 0h1m3 0h1M72 99h1m1 0h1m4 0h1m2 0h3m1 0h2m1 0h2m2 0h1m1 0h15m1 0h4m1 0h1m3 0h3m7 0h2M44 100h1m8 0h1m19 0h1m5 0h1m1 0h2m1 0h3m1 0h1m2 0h8m1 0h13m1 0h2m3 0h2m7 0h2m14 0h1M44 101h1m10 0h1m2 0h1m9 0h1m16 0h1m3 0h5m1 0h1m1 0h1m1 0h2m1 0h8m1 0h1m1 0h2m2 0h1m5 0h1m1 0h2m2 0h1M50 102h1m25 0h1m1 0h1m1 0h3m1 0h1m1 0h4m4 0h3m1 0h2m4 0h3m1 0h2m1 0h2m1 0h5m3 0h1m4 0h1m4 0h1M29 103h1m18 0h1m10 0h1m4 0h2m5 0h1m4 0h1m3 0h1m1 0h3m2 0h1m2 0h2m1 0h1m3 0h4m1 0h2m3 0h2m1 0h1m1 0h2m2 0h3m1 0h1m15 0h1M54 104h1m7 0h1m9 0h1m1 0h1m9 0h7m5 0h1m2 0h5m2 0h2m2 0h1m2 0h1m3 0h1m4 0h1m2 0h2M51 105h1m3 0h1m6 0h1m5 0h1m5 0h1m4 0h1m4 0h1m3 0h1m2 0h3m3 0h2m1 0h1m1 0h1m1 0h2m2 0h1m1 0h1m2 0h2m4 0h2m1 0h1M79 106h1m2 0h1m1 0h1m8 0h1m1 0h2m3 0h2m4 0h1m3 0h1m2 0h1m4 0h1M62 107h1m5 0h1m6 0h2m2 0h1m1 0h3m2 0h3m3 0h2m3 0h1m2 0h3m2 0h1m2 0h1m1 0h3m3 0h2m6 0h1m11 0h1M63 108h1m2 0h1m1 0h1m6 0h1m1 0h1m2 0h1m10 0h3m4 0h3m2 0h1m1 0h2m6 0h1m3 0h2m9 0h1M58 109h1m7 0h1m19 0h1m4 0h2m2 0h1m3 0h1m1 0h2m6 0h1m1 0h1m3 0h1m3 0h1M65 110h1m8 0h1m1 0h1m4 0h1m19 0h1m3 0h2m1 0h3m8 0h1m13 0h1M77 111h1m10 0h1m4 0h2m11 0h1m1 0h1m6 0h1m3 0h1"/>
<g stroke="#080808" stroke-width="1.5" fill="none">
<rect x="1212" y="711.6" width="198.7" height="147.8"/>
<path stroke-width="1.7" d="M1334.6 711.6V859.4M1212 802.7H1410.7"/>
<path stroke-width="1.25" d="M1212 859.4v5.29M1212 859.4h-5.26M1226.95 859.4v3.23M1212 848.28h-3.21M1235.7 859.4v3.23M1212 841.77h-3.21M1241.91 859.4v3.23M1212 837.15h-3.21M1246.72 859.4v3.23M1212 833.57h-3.21M1250.65 859.4v3.23M1212 830.65h-3.21M1253.98 859.4v3.23M1212 828.17h-3.21M1256.86 859.4v3.23M1212 826.03h-3.21M1259.4 859.4v3.23M1212 824.14h-3.21M1261.67 859.4v5.29M1212 822.45h-5.26M1276.63 859.4v3.23M1212 811.33h-3.21M1285.38 859.4v3.23M1212 804.82h-3.21M1291.58 859.4v3.23M1212 800.2h-3.21M1296.4 859.4v3.23M1212 796.62h-3.21M1300.33 859.4v3.23M1212 793.7h-3.21M1303.66 859.4v3.23M1212 791.22h-3.21M1306.54 859.4v3.23M1212 789.08h-3.21M1309.08 859.4v3.23M1212 787.19h-3.21M1311.35 859.4v5.29M1212 785.5h-5.26M1326.3 859.4v3.23M1212 774.38h-3.21M1335.05 859.4v3.23M1212 767.87h-3.21M1341.26 859.4v3.23M1212 763.25h-3.21M1346.07 859.4v3.23M1212 759.67h-3.21M1350 859.4v3.23M1212 756.75h-3.21M1353.33 859.4v3.23M1212 754.27h-3.21M1356.21 859.4v3.23M1212 752.13h-3.21M1358.75 859.4v3.23M1212 750.24h-3.21M1361.03 859.4v5.29M1212 748.55h-5.26M1375.98 859.4v3.23M1212 737.43h-3.21M1384.73 859.4v3.23M1212 730.92h-3.21M1390.93 859.4v3.23M1212 726.3h-3.21M1395.75 859.4v3.23M1212 722.72h-3.21M1399.68 859.4v3.23M1212 719.8h-3.21M1403.01 859.4v3.23M1212 717.32h-3.21M1405.89 859.4v3.23M1212 715.18h-3.21M1408.43 859.4v3.23M1212 713.29h-3.21M1410.7 859.4v5.29M1212 711.6h-5.26"/>
</g>
<g font-weight="normal" fill="#1c1c1c">
<text transform="translate(1291.24,707.68) scale(1.015,1)" font-size="10.38">009</text>
<text transform="translate(1295.87,887.98) scale(1.005,1)" font-size="10.38">FL1-H</text>
<text transform="translate(1203.93,877.61) scale(0.969,1)" font-size="10.38">10</text>
<text transform="translate(1214.83,871.93) scale(1.070,1)" font-size="9.13">0</text>
<text transform="translate(1206.16,867.03) rotate(-90) scale(0.903,1)" font-size="11.3">10</text>
<text transform="translate(1199.05,856.06) rotate(-90) scale(0.988,1)" font-size="9.94">0</text>
<text transform="translate(1253.61,877.61) scale(0.969,1)" font-size="10.38">10</text>
<text transform="translate(1264.15,871.93) scale(1.070,1)" font-size="9.13">1</text>
<text transform="translate(1206.16,831.55) rotate(-90) scale(0.903,1)" font-size="11.3">10</text>
<text transform="translate(1199.05,820.94) rotate(-90) scale(0.988,1)" font-size="9.94">1</text>
<text transform="translate(1306.2,877.61) scale(0.969,1)" font-size="10.38">10</text>
<text transform="translate(1317,871.93) scale(1.070,1)" font-size="9.13">2</text>
<text transform="translate(1206.16,794.6) rotate(-90) scale(0.903,1)" font-size="11.3">10</text>
<text transform="translate(1199.05,783.74) rotate(-90) scale(0.988,1)" font-size="9.94">2</text>
<text transform="translate(1352.96,877.61) scale(0.969,1)" font-size="10.38">10</text>
<text transform="translate(1363.87,871.93) scale(1.070,1)" font-size="9.13">3</text>
<text transform="translate(1206.16,757.65) rotate(-90) scale(0.903,1)" font-size="11.3">10</text>
<text transform="translate(1199.05,746.67) rotate(-90) scale(0.988,1)" font-size="9.94">3</text>
<text transform="translate(1400.78,877.61) scale(0.969,1)" font-size="10.38">10</text>
<text transform="translate(1411.84,871.93) scale(1.070,1)" font-size="9.13">4</text>
<text transform="translate(1206.16,720.7) rotate(-90) scale(0.903,1)" font-size="11.3">10</text>
<text transform="translate(1199.05,709.57) rotate(-90) scale(0.988,1)" font-size="9.94">4</text>
<text transform="translate(1190.08,800.81) rotate(-90) scale(0.881,1)" font-size="11.3">FL2-H</text>
</g>
<path transform="translate(1449.6,719.35) scale(1.3)" stroke="#0b0b0b" stroke-width="1" fill="none" d="M149 4h1M148 5h2M148 7h2M149 8h1M149 9h1M149 10h1M148 11h2M149 12h1M148 13h2M148 14h2M148 15h2M146 16h4M148 17h2M146 18h4M147 19h3M146 20h4M148 21h2M147 22h3M146 23h4M147 24h3M146 25h4M146 26h3M147 27h3M145 28h5M146 29h4M144 30h6M143 31h2m1 0h4M118 32h1m16 0h1m8 0h1m1 0h3M134 33h1m10 0h5M142 34h1m1 0h4M143 35h5m1 0h1M121 36h1m4 0h1m12 0h1m4 0h5M137 37h1m3 0h8M112 38h1m17 0h1m12 0h5M107 39h2m2 0h1m14 0h1m13 0h8m1 0h1M115 40h1m1 0h1m5 0h1m3 0h1m2 0h1m2 0h1m4 0h1m1 0h1m2 0h4m1 0h2M109 41h2m9 0h1m5 0h2m1 0h1m3 0h1m3 0h1m2 0h9M115 42h1m2 0h1m6 0h1m2 0h1m10 0h10M108 43h1m4 0h1m7 0h1m1 0h1m5 0h1m3 0h4m3 0h9M109 44h1m4 0h1m4 0h1m1 0h3m1 0h1m2 0h1m6 0h1m1 0h2m1 0h3m1 0h2m1 0h1M113 45h1m3 0h1m3 0h2m1 0h4m1 0h1m4 0h13M113 46h1m2 0h1m3 0h3m1 0h1m2 0h3m1 0h1m3 0h2m1 0h6m1 0h1M113 47h1m3 0h1m1 0h1m1 0h1m1 0h1m2 0h1m2 0h2m2 0h13m2 0h1M117 48h2m1 0h4m3 0h1m2 0h19M100 49h1m18 0h1m1 0h2m1 0h4m1 0h17M110 50h2m3 0h1m1 0h1m3 0h2m1 0h21m1 0h3M106 51h1m6 0h1m1 0h1m1 0h1m1 0h24m1 0h1m2 0h1M106 52h1m1 0h2m4 0h1m2 0h2m1 0h26M111 53h2m3 0h4m1 0h23m3 0h2M95 54h1m3 0h1m12 0h2m2 0h3m2 0h6m1 0h16M108 55h1m1 0h1m1 0h1m1 0h1m1 0h27m1 0h1M94 56h1m9 0h2m5 0h1m2 0h1m1 0h26m3 0h1m1 0h1m1 0h1M102 57h1m1 0h1m2 0h1m1 0h1m1 0h1m2 0h1m1 0h26m2 0h3M104 58h1m4 0h1m2 0h30m1 0h2m2 0h2M76 59h1m27 0h1m2 0h3m1 0h4m1 0h30m1 0h1M85 60h1m10 0h1m9 0h2m1 0h34m1 0h2M86 61h1m12 0h1m4 0h1m2 0h36m1 0h1m1 0h1M96 62h1m2 0h1m1 0h1m2 0h2m1 0h2m1 0h32m3 0h2M82 63h1m9 0h1m5 0h1m1 0h1m2 0h2m1 0h1m1 0h37M89 64h1m7 0h1m4 0h3m1 0h34m2 0h1M89 65h1m2 0h2m7 0h2m3 0h37M75 66h1m14 0h1m5 0h2m2 0h3m1 0h1m1 0h37M94 67h1m4 0h3m2 0h4m1 0h27m1 0h4m3 0h1M91 68h1m7 0h5m2 0h28m1 0h6m1 0h1M91 69h1m5 0h1m2 0h4m1 0h28m1 0h2m1 0h3m1 0h2M16 70h1m61 0h1m3 0h1m2 0h1m5 0h2m3 0h2m3 0h34m1 0h5M77 71h1m3 0h1m10 0h1m1 0h1m5 0h1m1 0h34m1 0h1M83 72h1m2 0h1m8 0h1m2 0h39m4 0h1M83 73h1m1 0h1m5 0h3m1 0h1m1 0h4m1 0h33m1 0h1m2 0h1m1 0h1M66 74h1m3 0h1m10 0h2m5 0h1m2 0h1m1 0h1m3 0h4m1 0h1m1 0h31m1 0h4m1 0h1M76 75h1m6 0h1m1 0h1m1 0h1m2 0h1m2 0h2m1 0h1m1 0h1m1 0h29m1 0h2m4 0h2m1 0h1m7 0h1M53 76h1m15 0h1m1 0h1m6 0h1m5 0h3m4 0h3m2 0h2m1 0h2m1 0h28m1 0h4m1 0h1m1 0h1M66 77h1m14 0h2m1 0h1m3 0h2m2 0h1m1 0h2m1 0h30m2 0h6m2 0h1m10 0h1M83 78h1m2 0h1m2 0h2m3 0h36m3 0h2m1 0h1m1 0h2M51 79h1m11 0h1m15 0h1m2 0h1m6 0h1m3 0h5m1 0h31m1 0h2m1 0h1M61 80h1m13 0h1m1 0h1m13 0h1m2 0h31m1 0h2m1 0h3m3 0h1m2 0h1M77 81h1m5 0h1m3 0h1m3 0h2m1 0h4m1 0h28m1 0h2m2 0h2M65 82h1m17 0h2m2 0h1m2 0h2m2 0h2m1 0h18m1 0h8m1 0h1m9 0h1m2 0h1M72 83h1m3 0h1m9 0h1m6 0h1m1 0h29m1 0h1m3 0h2m7 0h1M16 84h1m28 0h1m8 0h1m12 0h1m13 0h1m11 0h2m1 0h26m2 0h1m4 0h2m2 0h1m3 0h1m1 0h1m7 0h1M45 85h1m8 0h1m1 0h1m1 0h1m10 0h1m16 0h3m2 0h1m1 0h8m1 0h3m1 0h1m1 0h4m1 0h1m1 0h6m1 0h1m1 0h1m1 0h1m2 0h2M60 86h2m6 0h1m10 0h1m2 0h1m3 0h1m4 0h1m3 0h29m4 0h1M73 87h1m15 0h1m1 0h1m2 0h17m1 0h8m2 0h1m1 0h5m1 0h1M64 88h1m8 0h2m8 0h1m1 0h2m2 0h1m3 0h1m1 0h5m1 0h9m1 0h4m2 0h1m2 0h2m10 0h1m3 0h2m1 0h2M53 89h1m20 0h2m1 0h1m1 0h1m1 0h1m2 0h1m1 0h1m2 0h2m1 0h2m3 0h1m1 0h5m2 0h14m6 0h2m1 0h2M69 90h1m19 0h1m1 0h1m1 0h1m2 0h4m1 0h12m1 0h3m1 0h5m6 0h1M16 91h1m17 0h1m37 0h1m10 0h1m7 0h3m1 0h1m2 0h2m1 0h2m1 0h5m1 0h4m2 0h2m7 0h2m1 0h1M26 92h1m8 0h1m18 0h1m15 0h1m3 0h1m4 0h2m1 0h1m9 0h1m1 0h2m1 0h2m1 0h3m1 0h3m1 0h1m1 0h3m2 0h3m1 0h1m1 0h1m1 0h1m6 0h1m6 0h1M52 93h1m6 0h1m1 0h1m22 0h4m1 0h1m4 0h1m2 0h3m2 0h1m1 0h5m3 0h1m7 0h1m2 0h1M63 94h1m3 0h1m10 0h1m7 0h1m2 0h1m3 0h1m1 0h1m2 0h6m3 0h2m2 0h1m6 0h2m7 0h1m2 0h1M49 95h1m4 0h1m14 0h1m9 0h3m6 0h1m1 0h1m3 0h1m2 0h3m2 0h6m1 0h1m2 0h1m1 0h1m3 0h2m3 0h1m5 0h1M57 96h1m8 0h1m7 0h1m9 0h2m1 0h1m1 0h6m1 0h3m3 0h1m1 0h1m1 0h1m1 0h1m1 0h4m5 0h3m7 0h1m4 0h1M20 97h1m52 0h1m6 0h2m1 0h1m6 0h1m3 0h1m5 0h1m3 0h1m1 0h1m10 0h1m4 0h1M32 98h1m39 0h1m3 0h1m2 0h2m2 0h1m2 0h2m1 0h1m4 0h2m2 0h1m3 0h1m1 0h1m1 0h1m5 0h1m3 0h1m6 0h1m8 0h1M43 99h1m2 0h1m31 0h1m4 0h2m5 0h1m1 0h1m1 0h2m5 0h1m3 0h2m5 0h2m5 0h2m4 0h3m5 0h1M36 100h1m20 0h1m6 0h1m7 0h1m1 0h2m2 0h1m6 0h1m3 0h1m2 0h1m1 0h1m5 0h1m3 0h2m1 0h1m7 0h2m4 0h1m6 0h1m9 0h1M64 101h1m2 0h2m5 0h1m3 0h1m1 0h1m6 0h2m2 0h2m1 0h1m5 0h1m2 0h2m8 0h2m1 0h1M38 102h1m8 0h1m19 0h1m4 0h1m12 0h1m5 0h1m2 0h1m4 0h1m7 0h1m6 0h1m5 0h1m13 0h2M52 103h1m8 0h1m1 0h1m5 0h1m4 0h1m6 0h1m1 0h1m2 0h1m1 0h1m6 0h1m5 0h2m1 0h3m3 0h1m2 0h1m5 0h1M67 104h1m4 0h1m6 0h1m1 0h1m4 0h1m5 0h1m5 0h2m4 0h3m17 0h1M87 105h2m1 0h1m11 0h1m1 0h1m11 0h2m5 0h1m8 0h1M85 106h1m13 0h1m4 0h1m2 0h1m3 0h1m3 0h1m3 0h1M64 107h1m5 0h1m4 0h1m10 0h1m1 0h1m4 0h1m2 0h1m3 0h1m1 0h1m2 0h4m8 0h1M77 108h1m10 0h2m9 0h1m1 0h1m7 0h1m1 0h1m14 0h1"/>
<g stroke="#080808" stroke-width="1.5" fill="none">
<rect x="1448.8" y="717" width="196.3" height="143.9"/>
<path stroke-width="1.7" d="M1569.3 717V860.9M1448.8 805.1H1645.1"/>
<path stroke-width="1.25" d="M1448.8 860.9v5.15M1448.8 860.9h-5.2M1463.57 860.9v3.14M1448.8 850.07h-3.18M1472.21 860.9v3.14M1448.8 843.74h-3.18M1478.35 860.9v3.14M1448.8 839.24h-3.18M1483.1 860.9v3.14M1448.8 835.75h-3.18M1486.99 860.9v3.14M1448.8 832.91h-3.18M1490.27 860.9v3.14M1448.8 830.5h-3.18M1493.12 860.9v3.14M1448.8 828.41h-3.18M1495.63 860.9v3.14M1448.8 826.57h-3.18M1497.88 860.9v5.15M1448.8 824.92h-5.2M1512.65 860.9v3.14M1448.8 814.1h-3.18M1521.29 860.9v3.14M1448.8 807.76h-3.18M1527.42 860.9v3.14M1448.8 803.27h-3.18M1532.18 860.9v3.14M1448.8 799.78h-3.18M1536.06 860.9v3.14M1448.8 796.93h-3.18M1539.35 860.9v3.14M1448.8 794.52h-3.18M1542.19 860.9v3.14M1448.8 792.44h-3.18M1544.7 860.9v3.14M1448.8 790.6h-3.18M1546.95 860.9v5.15M1448.8 788.95h-5.2M1561.72 860.9v3.14M1448.8 778.12h-3.18M1570.36 860.9v3.14M1448.8 771.79h-3.18M1576.5 860.9v3.14M1448.8 767.29h-3.18M1581.25 860.9v3.14M1448.8 763.8h-3.18M1585.14 860.9v3.14M1448.8 760.96h-3.18M1588.42 860.9v3.14M1448.8 758.55h-3.18M1591.27 860.9v3.14M1448.8 756.46h-3.18M1593.78 860.9v3.14M1448.8 754.62h-3.18M1596.02 860.9v5.15M1448.8 752.98h-5.2M1610.8 860.9v3.14M1448.8 742.15h-3.18M1619.44 860.9v3.14M1448.8 735.81h-3.18M1625.57 860.9v3.14M1448.8 731.32h-3.18M1630.33 860.9v3.14M1448.8 727.83h-3.18M1634.21 860.9v3.14M1448.8 724.98h-3.18M1637.5 860.9v3.14M1448.8 722.57h-3.18M1640.34 860.9v3.14M1448.8 720.49h-3.18M1642.85 860.9v3.14M1448.8 718.65h-3.18M1645.1 860.9v5.15M1448.8 717h-5.2"/>
</g>
<g font-weight="normal" fill="#1c1c1c">
<text transform="translate(1527.08,713.19) scale(1.030,1)" font-size="10.1">008</text>
<text transform="translate(1531.65,888.73) scale(1.020,1)" font-size="10.1">FL1-H</text>
<text transform="translate(1440.83,878.63) scale(0.984,1)" font-size="10.1">10</text>
<text transform="translate(1451.6,873.1) scale(1.086,1)" font-size="8.89">0</text>
<text transform="translate(1443.03,868.33) rotate(-90) scale(0.890,1)" font-size="11.16">10</text>
<text transform="translate(1436,857.65) rotate(-90) scale(0.973,1)" font-size="9.82">0</text>
<text transform="translate(1489.9,878.63) scale(0.984,1)" font-size="10.1">10</text>
<text transform="translate(1500.32,873.1) scale(1.086,1)" font-size="8.89">1</text>
<text transform="translate(1443.03,833.78) rotate(-90) scale(0.890,1)" font-size="11.16">10</text>
<text transform="translate(1436,823.46) rotate(-90) scale(0.973,1)" font-size="9.82">1</text>
<text transform="translate(1541.86,878.63) scale(0.984,1)" font-size="10.1">10</text>
<text transform="translate(1552.53,873.1) scale(1.086,1)" font-size="8.89">2</text>
<text transform="translate(1443.03,797.81) rotate(-90) scale(0.890,1)" font-size="11.16">10</text>
<text transform="translate(1436,787.24) rotate(-90) scale(0.973,1)" font-size="9.82">2</text>
<text transform="translate(1588.05,878.63) scale(0.984,1)" font-size="10.1">10</text>
<text transform="translate(1598.83,873.1) scale(1.086,1)" font-size="8.89">3</text>
<text transform="translate(1443.03,761.83) rotate(-90) scale(0.890,1)" font-size="11.16">10</text>
<text transform="translate(1436,751.15) rotate(-90) scale(0.973,1)" font-size="9.82">3</text>
<text transform="translate(1635.3,878.63) scale(0.984,1)" font-size="10.1">10</text>
<text transform="translate(1646.23,873.1) scale(1.086,1)" font-size="8.89">4</text>
<text transform="translate(1443.03,725.86) rotate(-90) scale(0.890,1)" font-size="11.16">10</text>
<text transform="translate(1436,715.02) rotate(-90) scale(0.973,1)" font-size="9.82">4</text>
<clipPath id="c105"><rect x="1423.3" y="770.39" width="4.81" height="40"/></clipPath><g clip-path="url(#c105)"><text transform="translate(1427.15,803.86) rotate(-90) scale(0.868,1)" font-size="11.16">FL2-H</text></g>
</g>
<path transform="translate(265.3,932.35) scale(1.3)" stroke="#0b0b0b" stroke-width="1" fill="none" d="M151 5h1M151 6h1M151 7h1M151 8h1M151 9h1M151 10h1M150 11h2M150 12h2M150 13h2M150 14h2M150 15h2M150 16h2M150 17h2M150 18h2M149 19h3M149 20h3M146 21h1m3 0h2M149 22h3M149 23h3M147 24h1m1 0h3M149 25h3M149 26h3M113 27h1m32 0h1m1 0h4M148 28h4M148 29h4M147 30h5M145 31h2m1 0h3M147 32h4M115 33h1m29 0h1m1 0h5M118 34h1m7 0h1m20 0h4M114 35h1m11 0h1m17 0h2m1 0h4M113 36h1m1 0h1m1 0h1m28 0h3m1 0h1M114 37h1m4 0h2m2 0h1m5 0h1m10 0h1m4 0h7M113 38h1m2 0h1m2 0h3m5 0h1m16 0h1m1 0h5M115 39h1m5 0h1m22 0h7M105 40h1m12 0h1m1 0h2m7 0h1m11 0h1m2 0h5M113 41h1m1 0h1m3 0h1m1 0h1m6 0h1m1 0h1m12 0h8M103 42h1m4 0h2m3 0h1m1 0h3m1 0h3m4 0h1m1 0h1m15 0h4m1 0h1M112 43h4m2 0h1m2 0h1m2 0h1m6 0h1m11 0h5m1 0h2M98 44h1m4 0h1m3 0h1m4 0h2m1 0h1m1 0h2m2 0h2m1 0h2m1 0h1m5 0h1m1 0h2m1 0h1m2 0h9M106 45h1m3 0h1m2 0h1m4 0h3m1 0h5m2 0h1m2 0h1m7 0h7m1 0h2M105 46h2m2 0h2m1 0h1m1 0h10m1 0h3m2 0h1m5 0h1m3 0h9m2 0h1M102 47h3m1 0h1m1 0h4m1 0h10m1 0h1m2 0h2m2 0h1m3 0h1m3 0h11M108 48h1m2 0h2m1 0h1m1 0h2m2 0h4m2 0h2m1 0h1m4 0h1m1 0h1m1 0h9m1 0h1M102 49h2m4 0h1m2 0h2m1 0h2m1 0h3m1 0h2m2 0h2m1 0h3m2 0h2m2 0h13M96 50h1m5 0h2m1 0h4m3 0h4m1 0h9m1 0h4m1 0h1m6 0h9m2 0h1M101 51h1m4 0h3m1 0h2m2 0h3m2 0h3m1 0h3m3 0h1m1 0h1m1 0h1m2 0h1m1 0h2m1 0h5m1 0h1M103 52h1m1 0h3m1 0h1m1 0h18m2 0h1m1 0h2m1 0h10m2 0h1M105 53h2m1 0h3m1 0h17m1 0h1m1 0h15m1 0h1M104 54h1m2 0h1m1 0h1m2 0h3m1 0h8m3 0h5m1 0h12m5 0h1M103 55h2m3 0h2m2 0h3m1 0h9m1 0h1m1 0h16m2 0h1m2 0h1M104 56h4m1 0h12m1 0h4m1 0h2m1 0h2m1 0h14M107 57h11m1 0h1m1 0h2m2 0h2m1 0h15m1 0h1m2 0h2M106 58h1m1 0h2m1 0h2m1 0h9m1 0h6m1 0h10m1 0h3m1 0h1M89 59h1m20 0h4m1 0h1m2 0h5m1 0h12m1 0h7m1 0h2M104 60h1m6 0h1m2 0h1m3 0h12m1 0h10M101 61h1m2 0h2m1 0h2m1 0h1m2 0h6m1 0h5m1 0h13m1 0h5m3 0h1M101 62h2m1 0h1m4 0h2m1 0h7m1 0h3m1 0h19M74 63h1m17 0h1m10 0h1m4 0h1m3 0h4m2 0h4m2 0h17m1 0h2m1 0h1M99 64h1m4 0h3m2 0h1m1 0h1m2 0h1m3 0h2m1 0h5m1 0h14m1 0h1m1 0h1M84 65h1m20 0h2m2 0h1m4 0h3m1 0h24m1 0h1m1 0h1M99 66h2m9 0h2m1 0h2m1 0h1m1 0h1m1 0h3m1 0h7m1 0h10M104 67h1m5 0h5m2 0h4m1 0h2m1 0h14m1 0h1m2 0h2M99 68h1m9 0h3m1 0h3m1 0h4m1 0h9m1 0h8m4 0h1m1 0h1m1 0h1M86 69h1m3 0h1m1 0h1m5 0h1m4 0h2m3 0h1m4 0h7m1 0h19m1 0h2m4 0h2M91 70h1m10 0h1m1 0h1m1 0h1m3 0h3m1 0h4m1 0h3m1 0h1m1 0h13m2 0h1m4 0h1M79 71h1m1 0h1m20 0h3m5 0h1m1 0h26m1 0h1m3 0h1m1 0h1m1 0h1M76 72h1m11 0h5m1 0h1m1 0h1m3 0h2m2 0h3m1 0h11m1 0h12m1 0h2m1 0h4m1 0h1m2 0h1M93 73h2m2 0h2m1 0h2m2 0h1m2 0h2m1 0h2m1 0h3m1 0h21m2 0h2m2 0h1M93 74h2m1 0h1m2 0h2m1 0h2m1 0h1m1 0h31m3 0h1m5 0h1M87 75h2m5 0h1m4 0h1m1 0h1m1 0h28m1 0h6m1 0h2M72 76h1m5 0h1m2 0h2m3 0h1m3 0h1m3 0h1m5 0h7m1 0h29m3 0h2m5 0h1M64 77h1m28 0h1m1 0h1m2 0h1m1 0h30m1 0h8m1 0h1m1 0h1M86 78h5m1 0h1m2 0h1m1 0h3m1 0h1m1 0h32m1 0h2m3 0h2m3 0h1M74 79h1m1 0h1m10 0h2m6 0h11m1 0h24m1 0h3m1 0h2m1 0h2m2 0h1M34 80h1m42 0h1m6 0h1m4 0h3m3 0h1m1 0h38m1 0h1m1 0h3M75 81h1m6 0h1m3 0h1m1 0h1m1 0h7m1 0h44M52 82h1m15 0h1m8 0h1m5 0h2m8 0h28m1 0h16m2 0h1M81 83h1m1 0h3m6 0h44m1 0h1m3 0h3M78 84h1m1 0h2m2 0h1m3 0h1m3 0h41m1 0h2m1 0h2m3 0h2M80 85h1m4 0h1m3 0h3m1 0h1m1 0h1m1 0h37m1 0h1m1 0h1m1 0h1m3 0h1M72 86h1m10 0h1m1 0h1m3 0h42m1 0h2m9 0h1M75 87h1m2 0h1m3 0h2m2 0h1m1 0h43m1 0h1m2 0h1m2 0h1m1 0h1m5 0h2M67 88h1m4 0h1m4 0h4m1 0h1m4 0h45m1 0h4m14 0h1M66 89h1m6 0h2m5 0h1m2 0h5m1 0h42m1 0h2m1 0h1m1 0h1M53 90h1m7 0h1m8 0h1m9 0h1m1 0h1m1 0h4m1 0h1m1 0h39m1 0h2m2 0h1m1 0h1m6 0h1M70 91h1m3 0h1m2 0h1m4 0h7m2 0h39m1 0h5m8 0h1m1 0h1M22 92h1m46 0h1m6 0h1m1 0h1m1 0h4m2 0h41m2 0h3m8 0h1M55 93h1m15 0h1m2 0h2m2 0h2m3 0h3m2 0h39m1 0h1m1 0h1m1 0h2M54 94h1m8 0h1m9 0h1m5 0h1m1 0h1m1 0h3m1 0h38m1 0h2m9 0h1m2 0h1M57 95h1m8 0h2m3 0h1m4 0h1m1 0h4m2 0h3m1 0h37m1 0h1m1 0h2m6 0h1m4 0h1M50 96h1m15 0h1m3 0h2m1 0h1m7 0h1m1 0h2m2 0h2m2 0h36m2 0h1m1 0h3m3 0h1M55 97h2m9 0h1m11 0h2m2 0h4m1 0h8m1 0h21m1 0h4m1 0h1m2 0h2m2 0h2m5 0h1M59 98h1m2 0h1m2 0h1m4 0h2m5 0h1m2 0h1m1 0h1m2 0h1m1 0h1m2 0h1m1 0h4m1 0h3m1 0h11m1 0h1m1 0h6m1 0h3m5 0h2M52 99h1m4 0h1m3 0h1m6 0h1m1 0h2m2 0h1m5 0h2m4 0h2m3 0h6m1 0h18m1 0h6m4 0h1m3 0h1m6 0h1M56 100h1m21 0h2m6 0h1m1 0h4m2 0h1m1 0h19m3 0h4m2 0h1M37 101h1m18 0h1m13 0h1m8 0h1m3 0h1m3 0h9m1 0h8m1 0h10m1 0h1m1 0h1m2 0h2m1 0h1m1 0h1m1 0h1m1 0h1M57 102h1m6 0h1m14 0h1m3 0h1m3 0h1m1 0h2m2 0h3m1 0h4m1 0h10m1 0h1m2 0h5m3 0h2M25 103h1m14 0h1m11 0h1m18 0h1m2 0h2m7 0h3m3 0h3m2 0h1m1 0h3m2 0h2m3 0h2m1 0h5m3 0h1m2 0h1m2 0h1m1 0h1m4 0h1M73 104h1m5 0h1m6 0h1m2 0h2m1 0h1m1 0h2m3 0h2m1 0h2m1 0h7m2 0h1m2 0h4m11 0h1M28 105h1m4 0h1m21 0h1m15 0h1m1 0h1m4 0h1m7 0h1m1 0h2m1 0h1m2 0h5m3 0h2m1 0h1m1 0h1m6 0h1m2 0h1m4 0h1M38 106h1m13 0h1m12 0h1m5 0h1m2 0h1m1 0h2m4 0h4m4 0h2m5 0h1m1 0h2m1 0h2m1 0h2m2 0h2m2 0h1m2 0h1m4 0h1M73 107h1m2 0h3m3 0h1m2 0h4m4 0h1m5 0h1m7 0h1m6 0h1M70 108h1m8 0h2m5 0h2m3 0h1m2 0h1m2 0h1m12 0h1m1 0h1m2 0h1m1 0h1m1 0h1m3 0h1m1 0h1M52 109h1m16 0h1m6 0h1m5 0h2m4 0h1m1 0h1m2 0h2m7 0h1m4 0h2m6 0h2m2 0h2m1 0h2M63 110h2m1 0h1m13 0h1m2 0h1m2 0h3m8 0h1m1 0h4m1 0h2m2 0h1m2 0h1m9 0h1M43 111h1m14 0h1m7 0h1m14 0h1m2 0h1m2 0h1m1 0h1m6 0h2m1 0h1m3 0h1m1 0h2m1 0h1m1 0h1m1 0h1m2 0h1m4 0h1m6 0h1"/>
<g stroke="#080808" stroke-width="1.5" fill="none">
<rect x="264.4" y="930.6" width="199" height="147.2"/>
<path stroke-width="1.7" d="M387 930.6V1077.8M264.4 1021.4H463.4"/>
<path stroke-width="1.25" d="M264.4 1077.8v5.26M264.4 1077.8h-5.27M279.38 1077.8v3.22M264.4 1066.72h-3.22M288.14 1077.8v3.22M264.4 1060.24h-3.22M294.35 1077.8v3.22M264.4 1055.64h-3.22M299.17 1077.8v3.22M264.4 1052.08h-3.22M303.11 1077.8v3.22M264.4 1049.16h-3.22M306.44 1077.8v3.22M264.4 1046.7h-3.22M309.33 1077.8v3.22M264.4 1044.57h-3.22M311.87 1077.8v3.22M264.4 1042.68h-3.22M314.15 1077.8v5.26M264.4 1041h-5.27M329.13 1077.8v3.22M264.4 1029.92h-3.22M337.89 1077.8v3.22M264.4 1023.44h-3.22M344.1 1077.8v3.22M264.4 1018.84h-3.22M348.92 1077.8v3.22M264.4 1015.28h-3.22M352.86 1077.8v3.22M264.4 1012.36h-3.22M356.19 1077.8v3.22M264.4 1009.9h-3.22M359.08 1077.8v3.22M264.4 1007.77h-3.22M361.62 1077.8v3.22M264.4 1005.88h-3.22M363.9 1077.8v5.26M264.4 1004.2h-5.27M378.88 1077.8v3.22M264.4 993.12h-3.22M387.64 1077.8v3.22M264.4 986.64h-3.22M393.85 1077.8v3.22M264.4 982.04h-3.22M398.67 1077.8v3.22M264.4 978.48h-3.22M402.61 1077.8v3.22M264.4 975.56h-3.22M405.94 1077.8v3.22M264.4 973.1h-3.22M408.83 1077.8v3.22M264.4 970.97h-3.22M411.37 1077.8v3.22M264.4 969.08h-3.22M413.65 1077.8v5.26M264.4 967.4h-5.27M428.63 1077.8v3.22M264.4 956.32h-3.22M437.39 1077.8v3.22M264.4 949.84h-3.22M443.6 1077.8v3.22M264.4 945.24h-3.22M448.42 1077.8v3.22M264.4 941.68h-3.22M452.36 1077.8v3.22M264.4 938.76h-3.22M455.69 1077.8v3.22M264.4 936.3h-3.22M458.58 1077.8v3.22M264.4 934.17h-3.22M461.12 1077.8v3.22M264.4 932.28h-3.22M463.4 1077.8v5.26M264.4 930.6h-5.27"/>
</g>
<g font-weight="normal" fill="#1c1c1c">
<text transform="translate(343.76,926.7) scale(1.021,1)" font-size="10.33">009</text>
<text transform="translate(348.39,1106.27) scale(1.011,1)" font-size="10.33">FL1-H</text>
<text transform="translate(256.32,1095.93) scale(0.975,1)" font-size="10.33">10</text>
<text transform="translate(267.24,1090.28) scale(1.076,1)" font-size="9.09">0</text>
<text transform="translate(258.55,1085.4) rotate(-90) scale(0.898,1)" font-size="11.32">10</text>
<text transform="translate(251.43,1074.48) rotate(-90) scale(0.982,1)" font-size="9.96">0</text>
<text transform="translate(306.07,1095.93) scale(0.975,1)" font-size="10.33">10</text>
<text transform="translate(316.63,1090.28) scale(1.076,1)" font-size="9.09">1</text>
<text transform="translate(258.55,1050.06) rotate(-90) scale(0.898,1)" font-size="11.32">10</text>
<text transform="translate(251.43,1039.5) rotate(-90) scale(0.982,1)" font-size="9.96">1</text>
<text transform="translate(358.74,1095.93) scale(0.975,1)" font-size="10.33">10</text>
<text transform="translate(369.56,1090.28) scale(1.076,1)" font-size="9.09">2</text>
<text transform="translate(258.55,1013.26) rotate(-90) scale(0.898,1)" font-size="11.32">10</text>
<text transform="translate(251.43,1002.45) rotate(-90) scale(0.982,1)" font-size="9.96">2</text>
<text transform="translate(405.57,1095.93) scale(0.975,1)" font-size="10.33">10</text>
<text transform="translate(416.5,1090.28) scale(1.076,1)" font-size="9.09">3</text>
<text transform="translate(258.55,976.46) rotate(-90) scale(0.898,1)" font-size="11.32">10</text>
<text transform="translate(251.43,965.53) rotate(-90) scale(0.982,1)" font-size="9.96">3</text>
<text transform="translate(453.46,1095.93) scale(0.975,1)" font-size="10.33">10</text>
<text transform="translate(464.55,1090.28) scale(1.076,1)" font-size="9.09">4</text>
<text transform="translate(258.55,939.66) rotate(-90) scale(0.898,1)" font-size="11.32">10</text>
<text transform="translate(251.43,928.58) rotate(-90) scale(0.982,1)" font-size="9.96">4</text>
<text transform="translate(242.45,1019.45) rotate(-90) scale(0.876,1)" font-size="11.32">FL2-H</text>
</g>
<path transform="translate(501.5,931.95) scale(1.3)" stroke="#0b0b0b" stroke-width="1" fill="none" d="M154 5h1M154 6h1M154 7h1M153 8h2M154 9h1M154 10h1M153 11h2M152 12h3M154 13h1M153 14h2M152 15h3M153 16h2M153 17h2M152 18h3M153 19h2M151 20h1m1 0h2M153 21h2M151 22h4M152 23h3M152 24h3M151 25h4M152 26h3M151 27h4M150 28h5M148 29h1m3 0h2M150 30h5M149 31h6M146 32h2m2 0h5M148 33h6M145 34h1m2 0h7M115 35h1m31 0h8M113 36h1m7 0h1m5 0h1m20 0h6M148 37h7M124 38h1m22 0h7M115 39h1m4 0h1m3 0h1m18 0h1m2 0h1m1 0h4m1 0h1M114 40h1m2 0h1m1 0h1m22 0h1m2 0h1m1 0h6M116 41h1m2 0h1m1 0h1m3 0h3m17 0h9M110 42h1m2 0h1m1 0h3m4 0h2m11 0h1m6 0h1m2 0h2m1 0h2m1 0h3M107 43h1m2 0h3m8 0h1m1 0h1m1 0h1m3 0h3m6 0h1m6 0h8m1 0h1M106 44h1m4 0h1m4 0h2m1 0h2m1 0h1m4 0h1m2 0h1m2 0h1m10 0h1m1 0h7M101 45h1m8 0h1m2 0h3m1 0h1m1 0h2m1 0h3m1 0h1m9 0h1m6 0h8M106 46h1m1 0h2m1 0h2m3 0h1m1 0h3m1 0h1m1 0h4m2 0h1m3 0h1m1 0h2m3 0h1m1 0h11M110 47h2m5 0h3m1 0h5m2 0h1m2 0h2m3 0h1m2 0h1m1 0h8m1 0h1M103 48h1m4 0h1m4 0h1m1 0h1m1 0h2m1 0h5m3 0h2m1 0h3m1 0h1m1 0h2m2 0h10m1 0h1M100 49h1m3 0h1m2 0h1m4 0h2m1 0h4m1 0h3m1 0h1m2 0h3m1 0h2m2 0h1m3 0h13M101 50h1m6 0h2m1 0h1m1 0h3m1 0h12m1 0h1m1 0h1m1 0h2m1 0h13m2 0h2M104 51h1m2 0h2m1 0h1m1 0h10m1 0h2m1 0h1m1 0h22m2 0h1M99 52h1m1 0h1m2 0h1m1 0h1m1 0h1m1 0h1m2 0h5m1 0h2m2 0h9m1 0h15m1 0h1m3 0h2M104 53h3m2 0h2m1 0h9m1 0h11m1 0h16m1 0h1M107 54h1m1 0h12m1 0h1m1 0h1m1 0h7m1 0h14m1 0h2M81 55h1m25 0h1m1 0h11m2 0h10m1 0h17m2 0h1m1 0h1M109 56h3m1 0h17m1 0h4m1 0h10m1 0h2m2 0h1m2 0h1M85 57h1m15 0h1m1 0h1m2 0h42M103 58h1m3 0h2m1 0h39m1 0h1m1 0h1M89 59h1m9 0h1m2 0h3m1 0h1m1 0h1m1 0h3m1 0h34M92 60h1m1 0h1m5 0h2m1 0h1m4 0h4m1 0h3m1 0h3m1 0h29m1 0h2M89 61h1m7 0h1m6 0h1m4 0h1m2 0h3m1 0h30m1 0h3m1 0h2M97 62h1m2 0h1m2 0h1m3 0h1m1 0h39m1 0h1M76 63h1m16 0h1m5 0h1m1 0h3m1 0h1m2 0h4m1 0h32m1 0h5m3 0h1M84 64h1m4 0h1m4 0h3m5 0h48m2 0h2M89 65h3m1 0h1m3 0h1m7 0h41m1 0h3m3 0h1M87 66h1m6 0h1m2 0h3m1 0h1m3 0h1m2 0h40m1 0h2M65 67h1m20 0h1m5 0h3m4 0h4m2 0h42m2 0h2m3 0h1M87 68h1m7 0h2m1 0h1m5 0h40m1 0h1m1 0h1m1 0h1M77 69h1m8 0h1m9 0h1m1 0h3m1 0h1m1 0h39m1 0h1m2 0h1m1 0h1M84 70h1m12 0h3m1 0h2m1 0h3m1 0h38m2 0h2M80 71h1m8 0h1m4 0h1m2 0h48m2 0h1m1 0h1m1 0h1m1 0h1M78 72h2m11 0h1m1 0h1m5 0h46m1 0h1m7 0h1M85 73h1m2 0h2m1 0h1m1 0h1m1 0h1m1 0h47m1 0h3M76 74h1m2 0h1m7 0h1m3 0h4m1 0h1m1 0h46m4 0h2m1 0h1M86 75h1m3 0h1m2 0h4m1 0h5m1 0h41m4 0h1M87 76h4m2 0h4m1 0h5m2 0h41m3 0h1M79 77h1m2 0h1m4 0h1m1 0h1m1 0h2m2 0h47m7 0h1M32 78h1m48 0h1m6 0h2m2 0h1m2 0h3m1 0h2m1 0h34m5 0h1m1 0h2m4 0h1m4 0h1M61 79h1m6 0h1m9 0h1m9 0h1m1 0h1m1 0h3m1 0h2m1 0h41m1 0h1M53 80h1m20 0h1m10 0h2m2 0h1m5 0h3m2 0h34m1 0h4m4 0h1M59 81h1m10 0h1m18 0h2m2 0h8m1 0h34m1 0h3M41 82h1m37 0h1m2 0h1m1 0h1m3 0h1m5 0h44m1 0h4M57 83h1m26 0h1m4 0h1m1 0h6m1 0h36m1 0h4m3 0h1M63 84h1m11 0h1m2 0h1m3 0h2m2 0h4m1 0h2m1 0h3m1 0h40m3 0h1M61 85h1m12 0h1m2 0h1m5 0h2m2 0h1m3 0h1m1 0h8m1 0h31m2 0h3m2 0h1m1 0h2M30 86h1m32 0h1m5 0h2m1 0h2m1 0h1m5 0h1m1 0h1m4 0h4m2 0h3m1 0h35m1 0h1m1 0h1m5 0h1M74 87h1m6 0h1m1 0h1m2 0h1m3 0h3m1 0h37m2 0h3m6 0h1m3 0h1m2 0h1M44 88h1m40 0h1m5 0h5m1 0h32m1 0h1m1 0h3m4 0h1M62 89h1m10 0h1m3 0h1m1 0h1m1 0h1m3 0h7m1 0h5m1 0h26m1 0h1m1 0h1m1 0h1m4 0h1m1 0h1m1 0h1m2 0h1M29 90h1m27 0h1m8 0h1m12 0h3m1 0h2m4 0h2m1 0h4m1 0h24m1 0h8m1 0h1m3 0h1M67 91h1m1 0h1m10 0h1m5 0h1m1 0h4m1 0h1m2 0h8m1 0h19m1 0h1m1 0h1m1 0h1m1 0h1M59 92h1m4 0h1m7 0h1m3 0h1m2 0h1m2 0h2m5 0h3m1 0h1m2 0h1m1 0h14m1 0h5m1 0h5m3 0h3m1 0h3m3 0h1m2 0h2M59 93h1m1 0h1m5 0h1m11 0h1m2 0h1m3 0h1m1 0h1m1 0h1m1 0h5m1 0h3m1 0h24m1 0h1m3 0h1m3 0h1m4 0h2M51 94h1m11 0h1m10 0h1m3 0h1m1 0h1m2 0h1m3 0h2m3 0h1m1 0h2m1 0h1m1 0h22m1 0h2m1 0h1m1 0h2m2 0h4m6 0h1m5 0h1M83 95h3m1 0h1m1 0h2m1 0h2m2 0h4m3 0h2m3 0h2m1 0h13m2 0h1m1 0h1m1 0h1m4 0h1m4 0h1m6 0h1M32 96h1m22 0h1m17 0h1m8 0h2m2 0h5m1 0h1m1 0h13m1 0h2m1 0h4m3 0h4m1 0h4m2 0h1m2 0h2M29 97h1m3 0h1m4 0h1m16 0h1m8 0h1m9 0h1m1 0h1m8 0h2m2 0h3m2 0h1m1 0h7m2 0h2m1 0h8m3 0h3m1 0h1m1 0h1m1 0h1m1 0h2m4 0h1m1 0h1m8 0h1M83 98h3m2 0h1m1 0h1m1 0h2m1 0h14m2 0h6m1 0h1m1 0h1m1 0h1m3 0h2m2 0h2m1 0h1m2 0h1M19 99h1m31 0h1m8 0h1m2 0h1m14 0h2m2 0h1m4 0h1m1 0h1m3 0h2m1 0h1m3 0h2m1 0h2m1 0h2m2 0h1m1 0h2m1 0h2m1 0h1m1 0h1m3 0h1m6 0h1m2 0h1m7 0h1M57 100h1m13 0h1m3 0h1m1 0h1m3 0h1m3 0h1m2 0h1m1 0h2m4 0h1m1 0h2m1 0h2m1 0h2m1 0h3m1 0h4m3 0h1m1 0h1m6 0h1m3 0h1m6 0h2m1 0h1M36 101h1m51 0h1m2 0h1m1 0h1m1 0h2m3 0h3m1 0h3m1 0h4m1 0h2m1 0h3m1 0h2m1 0h1m2 0h1m1 0h1m2 0h1m8 0h1M28 102h1m35 0h1m11 0h1m1 0h1m5 0h2m1 0h1m1 0h1m1 0h2m4 0h1m2 0h1m4 0h1m1 0h1m2 0h1m1 0h2m1 0h1m2 0h2m4 0h1m2 0h1m7 0h1m7 0h1m2 0h1M32 103h1m1 0h1m20 0h1m8 0h1m1 0h1m2 0h1m1 0h1m1 0h1m1 0h1m1 0h1m5 0h1m6 0h3m2 0h3m2 0h2m1 0h1m1 0h3m2 0h2m2 0h6m1 0h1m5 0h1m8 0h1M53 104h2m20 0h1m2 0h1m1 0h1m3 0h1m1 0h2m4 0h1m2 0h1m1 0h5m1 0h2m2 0h1m2 0h1m1 0h1m3 0h1m1 0h1m1 0h1m1 0h1m1 0h1m9 0h1M18 105h1m36 0h1m2 0h1m11 0h1m19 0h1m6 0h2m2 0h1m1 0h1m7 0h1m2 0h3m1 0h1m5 0h1m1 0h2m8 0h1M65 106h2m12 0h1m3 0h1m9 0h1m10 0h2m1 0h1m1 0h1m1 0h1m3 0h1m7 0h1m1 0h1M34 107h1m44 0h1m1 0h1m6 0h2m3 0h1m6 0h1m1 0h3m3 0h1m1 0h2m1 0h2m3 0h1m3 0h1m7 0h1m1 0h2M40 108h1m5 0h1m1 0h1m24 0h1m2 0h1m5 0h1m8 0h2m2 0h2m4 0h1m11 0h1m2 0h2m2 0h1m2 0h1m12 0h1M74 109h1m8 0h1m1 0h3m8 0h1m4 0h1m5 0h1m1 0h1m2 0h2m1 0h1m3 0h1m1 0h1m1 0h1m4 0h1M60 110h1m10 0h1m8 0h3m1 0h1m4 0h2m2 0h2m4 0h1m1 0h1m6 0h1m5 0h1m3 0h1m4 0h1m5 0h1M66 111h1m18 0h1m3 0h1m2 0h1m3 0h1m3 0h1m6 0h1m2 0h2m24 0h2M91 112h1m5 0h1m6 0h1m8 0h2m8 0h1m9 0h1"/>
<g stroke="#080808" stroke-width="1.5" fill="none">
<rect x="500.3" y="929.4" width="203.2" height="149.3"/>
<path stroke-width="1.7" d="M625.3 929.4V1078.7M500.3 1020.8H703.5"/>
<path stroke-width="1.25" d="M500.3 1078.7v5.34M500.3 1078.7h-5.38M515.59 1078.7v3.26M500.3 1067.46h-3.29M524.54 1078.7v3.26M500.3 1060.89h-3.29M530.88 1078.7v3.26M500.3 1056.23h-3.29M535.81 1078.7v3.26M500.3 1052.61h-3.29M539.83 1078.7v3.26M500.3 1049.66h-3.29M543.23 1078.7v3.26M500.3 1047.16h-3.29M546.18 1078.7v3.26M500.3 1044.99h-3.29M548.78 1078.7v3.26M500.3 1043.08h-3.29M551.1 1078.7v5.34M500.3 1041.38h-5.38M566.39 1078.7v3.26M500.3 1030.14h-3.29M575.34 1078.7v3.26M500.3 1023.57h-3.29M581.68 1078.7v3.26M500.3 1018.9h-3.29M586.61 1078.7v3.26M500.3 1015.29h-3.29M590.63 1078.7v3.26M500.3 1012.33h-3.29M594.03 1078.7v3.26M500.3 1009.83h-3.29M596.98 1078.7v3.26M500.3 1007.67h-3.29M599.58 1078.7v3.26M500.3 1005.76h-3.29M601.9 1078.7v5.34M500.3 1004.05h-5.38M617.19 1078.7v3.26M500.3 992.81h-3.29M626.14 1078.7v3.26M500.3 986.24h-3.29M632.48 1078.7v3.26M500.3 981.58h-3.29M637.41 1078.7v3.26M500.3 977.96h-3.29M641.43 1078.7v3.26M500.3 975.01h-3.29M644.83 1078.7v3.26M500.3 972.51h-3.29M647.78 1078.7v3.26M500.3 970.34h-3.29M650.38 1078.7v3.26M500.3 968.43h-3.29M652.7 1078.7v5.34M500.3 966.73h-5.38M667.99 1078.7v3.26M500.3 955.49h-3.29M676.94 1078.7v3.26M500.3 948.92h-3.29M683.28 1078.7v3.26M500.3 944.25h-3.29M688.21 1078.7v3.26M500.3 940.64h-3.29M692.23 1078.7v3.26M500.3 937.68h-3.29M695.63 1078.7v3.26M500.3 935.18h-3.29M698.58 1078.7v3.26M500.3 933.02h-3.29M701.18 1078.7v3.26M500.3 931.11h-3.29M703.5 1078.7v5.34M500.3 929.4h-5.38"/>
</g>
<g font-weight="normal" fill="#1c1c1c">
<text transform="translate(581.33,925.45) scale(1.027,1)" font-size="10.48">018</text>
<text transform="translate(586.06,1107.57) scale(1.018,1)" font-size="10.48">FL1-H</text>
<text transform="translate(492.05,1097.09) scale(0.981,1)" font-size="10.48">10</text>
<text transform="translate(503.2,1091.36) scale(1.083,1)" font-size="9.22">0</text>
<text transform="translate(494.32,1086.4) rotate(-90) scale(0.892,1)" font-size="11.55">10</text>
<text transform="translate(487.05,1075.33) rotate(-90) scale(0.975,1)" font-size="10.17">0</text>
<text transform="translate(542.85,1097.09) scale(0.981,1)" font-size="10.48">10</text>
<text transform="translate(553.63,1091.36) scale(1.083,1)" font-size="9.22">1</text>
<text transform="translate(494.32,1050.56) rotate(-90) scale(0.892,1)" font-size="11.55">10</text>
<text transform="translate(487.05,1039.85) rotate(-90) scale(0.975,1)" font-size="10.17">1</text>
<text transform="translate(596.64,1097.09) scale(0.981,1)" font-size="10.48">10</text>
<text transform="translate(607.68,1091.36) scale(1.083,1)" font-size="9.22">2</text>
<text transform="translate(494.32,1013.24) rotate(-90) scale(0.892,1)" font-size="11.55">10</text>
<text transform="translate(487.05,1002.27) rotate(-90) scale(0.975,1)" font-size="10.17">2</text>
<text transform="translate(644.45,1097.09) scale(0.981,1)" font-size="10.48">10</text>
<text transform="translate(655.61,1091.36) scale(1.083,1)" font-size="9.22">3</text>
<text transform="translate(494.32,975.91) rotate(-90) scale(0.892,1)" font-size="11.55">10</text>
<text transform="translate(487.05,964.83) rotate(-90) scale(0.975,1)" font-size="10.17">3</text>
<text transform="translate(693.36,1097.09) scale(0.981,1)" font-size="10.48">10</text>
<text transform="translate(704.67,1091.36) scale(1.083,1)" font-size="9.22">4</text>
<text transform="translate(494.32,938.59) rotate(-90) scale(0.892,1)" font-size="11.55">10</text>
<text transform="translate(487.05,927.35) rotate(-90) scale(0.975,1)" font-size="10.17">4</text>
<text transform="translate(477.89,1019.52) rotate(-90) scale(0.870,1)" font-size="11.55">FL2-H</text>
</g>
<path transform="translate(738.3,937.45) scale(1.3)" stroke="#0b0b0b" stroke-width="1" fill="none" d="M149 6h1M148 7h2M149 8h1M149 9h1M149 10h1M148 11h2M148 12h2M148 13h2M148 14h2M148 15h2M148 16h2M147 17h3M148 18h2M145 19h1m1 0h3M148 20h2M148 21h2M147 22h3M146 23h4M146 24h4M145 25h5M146 26h4M146 27h4M144 28h1m2 0h3M146 29h4M144 30h5M139 31h1m5 0h5M145 32h5M143 33h1m1 0h4M112 34h1m30 0h7M115 35h1m1 0h1m21 0h1m1 0h1m1 0h2m1 0h4M120 36h1m21 0h6M120 37h1m1 0h1m1 0h1m4 0h1m4 0h1m6 0h9M123 38h2m14 0h5m1 0h2m1 0h1M110 39h1m9 0h1m6 0h1m1 0h1m3 0h2m7 0h7M113 40h1m1 0h1m1 0h1m3 0h1m8 0h1m5 0h2m1 0h1m1 0h7M115 41h2m11 0h1m3 0h1m5 0h1m1 0h1m1 0h6m1 0h1M107 42h1m8 0h1m1 0h1m2 0h1m1 0h1m8 0h2m1 0h2m1 0h1m1 0h9M114 43h2m2 0h1m2 0h1m4 0h1m3 0h1m7 0h8m2 0h1M112 44h2m3 0h2m1 0h4m1 0h1m1 0h1m5 0h1m3 0h11M108 45h1m4 0h1m1 0h2m2 0h3m1 0h1m2 0h3m1 0h1m6 0h12M104 46h1m11 0h1m4 0h8m1 0h1m2 0h1m2 0h11M111 47h1m2 0h1m4 0h2m2 0h1m1 0h2m1 0h2m1 0h3m1 0h10m1 0h2M104 48h1m3 0h1m2 0h1m1 0h1m4 0h1m2 0h5m3 0h2m1 0h14m1 0h1m1 0h1M106 49h1m1 0h1m2 0h1m3 0h2m1 0h3m2 0h1m1 0h1m1 0h7m1 0h11m1 0h1M110 50h1m1 0h1m2 0h2m4 0h1m1 0h23M83 51h1m27 0h2m2 0h4m1 0h1m1 0h1m2 0h1m1 0h19m1 0h1M93 52h1m19 0h2m1 0h1m1 0h1m1 0h1m1 0h23m1 0h1M104 53h1m1 0h1m1 0h2m2 0h1m3 0h1m1 0h1m1 0h5m1 0h20m2 0h1M100 54h1m7 0h2m3 0h1m1 0h8m1 0h21m4 0h1M107 55h1m1 0h1m5 0h31m1 0h1M108 56h1m2 0h2m1 0h1m1 0h29m4 0h1M110 57h1m3 0h30m3 0h1M92 58h1m12 0h1m1 0h1m3 0h31m1 0h2m1 0h1M99 59h1m4 0h4m2 0h29m1 0h1m1 0h2m3 0h1M91 60h1m5 0h2m4 0h1m5 0h3m1 0h28m3 0h2m1 0h1M89 61h1m10 0h3m1 0h1m2 0h4m1 0h29m3 0h1M87 62h1m4 0h2m2 0h2m3 0h1m4 0h34m1 0h3m1 0h1M79 63h1m6 0h1m2 0h1m5 0h1m3 0h1m2 0h1m1 0h1m1 0h5m1 0h26m1 0h3m3 0h1m1 0h1m1 0h1M85 64h1m15 0h3m1 0h36m3 0h2M90 65h1m10 0h1m3 0h3m1 0h32M78 66h1m9 0h1m3 0h1m4 0h1m3 0h1m1 0h1m1 0h33m1 0h3m1 0h4M78 67h1m16 0h3m3 0h40m1 0h2m4 0h1M86 68h1m4 0h2m5 0h1m1 0h1m2 0h37m1 0h3M86 69h2m1 0h1m1 0h2m3 0h1m3 0h3m1 0h33m4 0h1M91 70h2m4 0h2m1 0h40m4 0h2M56 71h1m22 0h1m5 0h1m4 0h1m1 0h1m1 0h1m1 0h3m1 0h39M86 72h1m4 0h1m4 0h4m2 0h31m1 0h6m2 0h1M90 73h1m2 0h1m1 0h3m1 0h35m1 0h1m7 0h1M87 74h1m3 0h1m2 0h3m1 0h4m1 0h28m1 0h4M44 75h1m37 0h2m6 0h4m2 0h1m1 0h3m1 0h29m1 0h2m1 0h2m3 0h1m2 0h1M64 76h1m6 0h1m8 0h1m10 0h1m1 0h1m1 0h3m1 0h33m2 0h1m3 0h1M70 77h1m11 0h1m12 0h3m2 0h26m1 0h1m1 0h1m1 0h2m2 0h1m8 0h1M50 78h1m34 0h1m2 0h2m1 0h3m2 0h1m1 0h1m1 0h28m1 0h1m1 0h1m1 0h1m2 0h1m1 0h1M68 79h1m13 0h1m3 0h1m1 0h2m2 0h2m1 0h1m1 0h33m4 0h1M82 80h1m5 0h1m2 0h1m1 0h2m1 0h3m1 0h19m1 0h7m2 0h1m1 0h1m1 0h1m6 0h1m3 0h1M86 81h1m5 0h1m1 0h2m1 0h1m1 0h23m1 0h1m2 0h1m1 0h1m3 0h1M74 82h1m2 0h1m3 0h1m1 0h1m2 0h1m2 0h1m2 0h6m1 0h28m1 0h1m5 0h1m5 0h1M71 83h1m6 0h1m9 0h2m3 0h1m1 0h28m2 0h2m7 0h1M59 84h1m23 0h1m1 0h1m3 0h1m2 0h3m1 0h3m1 0h22m1 0h2m2 0h2m11 0h1M24 85h1m18 0h1m9 0h2m22 0h1m8 0h1m1 0h1m1 0h1m1 0h1m2 0h1m1 0h21m1 0h3m1 0h1m1 0h1m9 0h1M60 86h1m20 0h1m7 0h1m2 0h1m1 0h23m1 0h6m1 0h2m4 0h1m2 0h1M62 87h1m10 0h1m14 0h2m3 0h22m1 0h5M70 88h1m1 0h1m6 0h2m6 0h1m1 0h1m2 0h2m2 0h3m1 0h10m2 0h2m3 0h3m3 0h1m2 0h1m20 0h1M89 89h1m4 0h10m1 0h8m1 0h2m4 0h2m1 0h2m2 0h1m1 0h1m4 0h1M55 90h1m20 0h3m5 0h1m3 0h1m4 0h18m3 0h2m1 0h2m2 0h3m6 0h1m5 0h1M36 91h1m26 0h1m7 0h1m13 0h2m9 0h1m1 0h1m1 0h9m1 0h5m6 0h1m6 0h1m2 0h2m4 0h1M55 92h1m9 0h1m3 0h1m3 0h1m3 0h1m4 0h3m5 0h2m1 0h1m2 0h3m2 0h4m1 0h7m5 0h1m7 0h1m1 0h1M20 93h1m57 0h1m3 0h1m3 0h1m1 0h4m5 0h5m1 0h1m2 0h4m1 0h1m3 0h2m1 0h1m13 0h1M32 94h1m3 0h1m50 0h1m2 0h1m1 0h1m2 0h4m2 0h2m2 0h1m1 0h6m2 0h1m2 0h1m2 0h2m1 0h2m14 0h1M44 95h1m28 0h1m1 0h1m7 0h1m6 0h1m2 0h1m1 0h3m3 0h4m3 0h2m1 0h5m7 0h1m8 0h2M69 96h1m18 0h1m2 0h3m3 0h5m1 0h1m6 0h1m1 0h2m3 0h1m7 0h1m3 0h1M54 97h1m22 0h2m5 0h1m2 0h2m8 0h2m1 0h4m1 0h1m10 0h1m3 0h2m3 0h1M76 98h1m5 0h1m7 0h1m2 0h1m4 0h1m2 0h1m2 0h1m1 0h1m5 0h2m2 0h3m7 0h1M40 99h1m15 0h1m5 0h1m17 0h2m5 0h2m1 0h1m1 0h1m1 0h1m1 0h1m3 0h3m3 0h1m3 0h2m14 0h1m4 0h1m1 0h1M63 100h1m14 0h1m2 0h1m1 0h1m16 0h2m1 0h1m14 0h1M32 101h1m19 0h1m21 0h1m4 0h1m5 0h2m2 0h1m1 0h1m1 0h1m2 0h1m9 0h2m6 0h2m4 0h1m1 0h1m2 0h1M60 102h2m4 0h1m5 0h1m4 0h1m2 0h1m8 0h2m2 0h3m5 0h1m5 0h1M20 103h1m50 0h1m1 0h2m24 0h1m2 0h1m6 0h1m20 0h1M54 104h1m9 0h1m11 0h1m6 0h1m10 0h2m5 0h1m1 0h1m2 0h1m6 0h1m4 0h1M12 105h1m18 0h1m14 0h1m32 0h1m9 0h1m3 0h1m3 0h3m6 0h1m4 0h1m8 0h1m12 0h1M21 106h1m24 0h1m36 0h1m1 0h1m10 0h1m2 0h1m3 0h1m7 0h1m7 0h1M52 107h1m25 0h1m3 0h1m4 0h1m30 0h1M46 108h1m16 0h1m7 0h1m3 0h1m21 0h1m7 0h1m4 0h1m8 0h1"/>
<g stroke="#080808" stroke-width="1.5" fill="none">
<rect x="736.6" y="936" width="197.2" height="143"/>
<path stroke-width="1.7" d="M858 936V1079M736.6 1024.1H933.8"/>
<path stroke-width="1.25" d="M736.6 1079v5.11M736.6 1079h-5.22M751.44 1079v3.13M736.6 1068.24h-3.19M760.12 1079v3.13M736.6 1061.94h-3.19M766.28 1079v3.13M736.6 1057.48h-3.19M771.06 1079v3.13M736.6 1054.01h-3.19M774.96 1079v3.13M736.6 1051.18h-3.19M778.26 1079v3.13M736.6 1048.79h-3.19M781.12 1079v3.13M736.6 1046.71h-3.19M783.64 1079v3.13M736.6 1044.89h-3.19M785.9 1079v5.11M736.6 1043.25h-5.22M800.74 1079v3.13M736.6 1032.49h-3.19M809.42 1079v3.13M736.6 1026.19h-3.19M815.58 1079v3.13M736.6 1021.73h-3.19M820.36 1079v3.13M736.6 1018.26h-3.19M824.26 1079v3.13M736.6 1015.43h-3.19M827.56 1079v3.13M736.6 1013.04h-3.19M830.42 1079v3.13M736.6 1010.96h-3.19M832.94 1079v3.13M736.6 1009.14h-3.19M835.2 1079v5.11M736.6 1007.5h-5.22M850.04 1079v3.13M736.6 996.74h-3.19M858.72 1079v3.13M736.6 990.44h-3.19M864.88 1079v3.13M736.6 985.98h-3.19M869.66 1079v3.13M736.6 982.51h-3.19M873.56 1079v3.13M736.6 979.68h-3.19M876.86 1079v3.13M736.6 977.29h-3.19M879.72 1079v3.13M736.6 975.21h-3.19M882.24 1079v3.13M736.6 973.39h-3.19M884.5 1079v5.11M736.6 971.75h-5.22M899.34 1079v3.13M736.6 960.99h-3.19M908.02 1079v3.13M736.6 954.69h-3.19M914.18 1079v3.13M736.6 950.23h-3.19M918.96 1079v3.13M736.6 946.76h-3.19M922.86 1079v3.13M736.6 943.93h-3.19M926.16 1079v3.13M736.6 941.54h-3.19M929.02 1079v3.13M736.6 939.46h-3.19M931.54 1079v3.13M736.6 937.64h-3.19M933.8 1079v5.11M736.6 936h-5.22"/>
</g>
<g font-weight="normal" fill="#1c1c1c">
<text transform="translate(815.24,932.21) scale(1.041,1)" font-size="10.04">008</text>
<text transform="translate(819.83,1106.65) scale(1.031,1)" font-size="10.04">FL1-H</text>
<text transform="translate(728.59,1096.61) scale(0.994,1)" font-size="10.04">10</text>
<text transform="translate(739.41,1091.12) scale(1.098,1)" font-size="8.83">0</text>
<text transform="translate(730.8,1086.38) rotate(-90) scale(0.881,1)" font-size="11.21">10</text>
<text transform="translate(723.74,1075.77) rotate(-90) scale(0.963,1)" font-size="9.87">0</text>
<text transform="translate(777.89,1096.61) scale(0.994,1)" font-size="10.04">10</text>
<text transform="translate(788.35,1091.12) scale(1.098,1)" font-size="8.83">1</text>
<text transform="translate(730.8,1052.05) rotate(-90) scale(0.881,1)" font-size="11.21">10</text>
<text transform="translate(723.74,1041.79) rotate(-90) scale(0.963,1)" font-size="9.87">1</text>
<text transform="translate(830.09,1096.61) scale(0.994,1)" font-size="10.04">10</text>
<text transform="translate(840.81,1091.12) scale(1.098,1)" font-size="8.83">2</text>
<text transform="translate(730.8,1016.3) rotate(-90) scale(0.881,1)" font-size="11.21">10</text>
<text transform="translate(723.74,1005.8) rotate(-90) scale(0.963,1)" font-size="9.87">2</text>
<text transform="translate(876.49,1096.61) scale(0.994,1)" font-size="10.04">10</text>
<text transform="translate(887.32,1091.12) scale(1.098,1)" font-size="8.83">3</text>
<text transform="translate(730.8,980.55) rotate(-90) scale(0.881,1)" font-size="11.21">10</text>
<text transform="translate(723.74,969.93) rotate(-90) scale(0.963,1)" font-size="9.87">3</text>
<text transform="translate(923.95,1096.61) scale(0.994,1)" font-size="10.04">10</text>
<text transform="translate(934.94,1091.12) scale(1.098,1)" font-size="8.83">4</text>
<text transform="translate(730.8,944.8) rotate(-90) scale(0.881,1)" font-size="11.21">10</text>
<text transform="translate(723.74,934.04) rotate(-90) scale(0.963,1)" font-size="9.87">4</text>
<clipPath id="c108"><rect x="710.98" y="988.93" width="4.83" height="40"/></clipPath><g clip-path="url(#c108)"><text transform="translate(714.85,1022.32) rotate(-90) scale(0.859,1)" font-size="11.21">FL2-H</text></g>
</g>
<path transform="translate(969.9,932.55) scale(1.3)" stroke="#0b0b0b" stroke-width="1" fill="none" d="M152 5h2M153 6h1M153 7h1M153 8h1M153 9h1M152 10h2M152 11h2M152 12h2M152 13h2M152 14h2M152 15h2M151 16h3M151 17h3M152 18h2M151 19h3M151 20h3M151 21h3M151 22h2M151 23h3M150 24h4M151 25h3M150 26h4M151 27h3M150 28h4M149 29h5M148 30h1m1 0h4M141 31h1m7 0h5M148 32h6M147 33h1m1 0h5M147 34h7M147 35h6M124 36h1m21 0h7M140 37h1m5 0h7M107 38h1m38 0h7M118 39h1m27 0h6M119 40h1m24 0h8m1 0h1M115 41h2m1 0h1m13 0h2m6 0h1m5 0h7M111 42h1m2 0h1m12 0h1m1 0h1m5 0h1m2 0h1m2 0h2m2 0h4m1 0h3M115 43h1m11 0h1m1 0h1m3 0h1m6 0h1m2 0h9M114 44h1m8 0h1m4 0h1m2 0h1m3 0h2m2 0h2m1 0h11M114 45h1m4 0h1m8 0h1m2 0h2m6 0h1m2 0h10M119 46h1m5 0h1m2 0h1m4 0h1m3 0h4m1 0h10M120 47h1m6 0h1m5 0h6m1 0h1m1 0h11M119 48h1m2 0h1m2 0h1m2 0h1m1 0h2m1 0h2m1 0h3m1 0h11m2 0h1M115 49h1m1 0h1m7 0h1m1 0h1m2 0h2m2 0h19M110 50h1m4 0h3m1 0h1m5 0h2m2 0h1m2 0h11m1 0h3m1 0h3M113 51h1m1 0h3m2 0h2m6 0h2m1 0h6m1 0h15M111 52h1m3 0h1m4 0h1m1 0h1m2 0h1m1 0h1m2 0h18m1 0h5M110 53h1m8 0h6m3 0h23m1 0h2M114 54h1m7 0h1m1 0h30M105 55h1m8 0h2m2 0h2m3 0h2m1 0h6m1 0h18m1 0h1M109 56h1m9 0h2m2 0h30M103 57h1m15 0h2m1 0h1m1 0h3m1 0h24m1 0h1M109 58h1m5 0h1m1 0h2m2 0h27m1 0h1m1 0h1M103 59h1m8 0h1m3 0h1m3 0h1m1 0h27m1 0h1m1 0h1M109 60h2m4 0h2m2 0h29m2 0h1M112 61h1m2 0h5m1 0h28m2 0h1M107 62h1m1 0h1m6 0h33M104 63h2m5 0h2m2 0h1m1 0h34m2 0h1M58 64h1m51 0h2m1 0h1m1 0h32m1 0h2M91 65h1m12 0h1m1 0h1m1 0h3m1 0h4m1 0h3m1 0h27m4 0h1M87 66h1m4 0h1m12 0h1m1 0h4m1 0h1m2 0h4m1 0h24m1 0h1m1 0h1m2 0h2M84 67h1m1 0h1m14 0h3m1 0h2m2 0h5m1 0h33m1 0h1M76 68h1m22 0h1m3 0h1m1 0h3m1 0h2m2 0h32m2 0h1m1 0h1M86 69h1m13 0h2m6 0h1m3 0h28m1 0h3m1 0h1M77 70h1m15 0h1m9 0h1m1 0h2m1 0h3m1 0h30m2 0h2M73 71h1m16 0h1m4 0h1m2 0h1m8 0h35m1 0h2M89 72h2m5 0h1m2 0h1m4 0h1m6 0h28m1 0h2m1 0h3m1 0h1m3 0h1M100 73h1m1 0h2m3 0h2m1 0h33m1 0h2m6 0h2M63 74h1m25 0h1m6 0h1m2 0h1m3 0h5m1 0h36M90 75h1m6 0h1m2 0h1m2 0h1m4 0h33m1 0h1m4 0h1M84 76h1m3 0h1m6 0h1m2 0h1m4 0h1m1 0h3m2 0h1m1 0h25m1 0h2m2 0h4M68 77h1m9 0h2m6 0h2m7 0h1m5 0h1m2 0h35m3 0h3M66 78h1m7 0h1m5 0h1m2 0h1m2 0h1m1 0h1m2 0h1m4 0h3m1 0h8m1 0h34M74 79h1m12 0h1m2 0h1m4 0h3m1 0h1m3 0h3m1 0h4m1 0h24m1 0h4m1 0h1M80 80h1m4 0h1m2 0h1m2 0h1m1 0h4m2 0h1m5 0h2m1 0h27m2 0h1m5 0h1M70 81h1m7 0h1m5 0h1m3 0h1m6 0h1m3 0h1m3 0h3m1 0h25m1 0h2m1 0h1m2 0h1M45 82h1m25 0h1m1 0h2m6 0h2m6 0h1m3 0h1m3 0h1m2 0h36m2 0h1m4 0h1M67 83h1m4 0h1m10 0h1m3 0h1m6 0h1m1 0h1m2 0h7m1 0h24m1 0h1m1 0h1M84 84h1m3 0h1m5 0h4m1 0h2m1 0h1m1 0h2m1 0h28M82 85h1m6 0h1m1 0h1m3 0h2m1 0h1m1 0h2m2 0h5m1 0h21m1 0h1m4 0h1m1 0h1m1 0h1M68 86h1m3 0h1m6 0h1m5 0h2m3 0h1m1 0h1m3 0h2m1 0h2m1 0h1m2 0h2m1 0h19m1 0h3m1 0h1m5 0h1M73 87h1m1 0h1m9 0h1m3 0h1m3 0h1m1 0h1m2 0h1m1 0h3m2 0h13m1 0h1m1 0h2m2 0h3m2 0h1m1 0h1m2 0h1m7 0h1M63 88h1m5 0h1m4 0h2m4 0h1m4 0h4m3 0h2m4 0h2m1 0h1m2 0h15m1 0h5m1 0h2M58 89h1m14 0h1m11 0h1m7 0h2m1 0h2m1 0h4m1 0h3m1 0h9m1 0h5m4 0h1m1 0h1m1 0h1m6 0h1m1 0h1M63 90h1m10 0h1m11 0h1m2 0h2m1 0h2m2 0h2m1 0h3m1 0h3m2 0h2m1 0h9m1 0h3m6 0h1m2 0h1m10 0h1M82 91h2m3 0h1m3 0h1m4 0h1m2 0h2m2 0h2m4 0h8m1 0h2m1 0h2m2 0h2m1 0h3M69 92h1m2 0h1m11 0h1m3 0h1m2 0h1m2 0h2m3 0h3m1 0h1m1 0h3m2 0h2m1 0h1m1 0h4m1 0h2m1 0h1m1 0h1m3 0h1m2 0h1M60 93h1m16 0h1m4 0h1m7 0h2m2 0h1m1 0h1m1 0h5m3 0h1m1 0h1m1 0h1m4 0h1m3 0h2m2 0h2m1 0h1m1 0h1m4 0h1M78 94h1m6 0h1m9 0h4m5 0h4m3 0h5m1 0h3m1 0h2m7 0h1M66 95h1m4 0h1m7 0h1m2 0h1m7 0h2m1 0h1m4 0h1m1 0h1m1 0h1m1 0h4m1 0h7m1 0h1m1 0h1m3 0h3M74 96h1m1 0h1m3 0h3m2 0h1m7 0h1m4 0h1m1 0h3m1 0h1m1 0h4m2 0h2m5 0h1m10 0h1M45 97h1m15 0h1m6 0h1m7 0h1m6 0h1m7 0h2m1 0h3m1 0h1m2 0h1m1 0h1m2 0h2m3 0h4m5 0h1m2 0h1m4 0h1M47 98h1m6 0h1m8 0h2m13 0h1m1 0h1m2 0h1m2 0h1m1 0h1m3 0h1m6 0h1m2 0h1m1 0h1m3 0h1m4 0h1m6 0h1m2 0h1m1 0h1m6 0h1M45 99h1m29 0h2m2 0h3m2 0h1m3 0h2m2 0h1m3 0h2m1 0h1m2 0h1m3 0h2m3 0h2m1 0h1m1 0h1m3 0h2m12 0h1m8 0h1M68 100h1m10 0h1m7 0h1m2 0h1m2 0h1m1 0h1m3 0h1m5 0h3m6 0h1m3 0h1m4 0h1m1 0h1m4 0h1m6 0h1M51 101h1m42 0h1m8 0h1m8 0h2m2 0h1m2 0h1m7 0h1M78 102h1m10 0h3m4 0h1m5 0h2m3 0h2m6 0h3m17 0h2m1 0h1M73 103h1m9 0h3m4 0h5m1 0h2m4 0h1m1 0h1m6 0h3m1 0h1m2 0h1M80 104h1m1 0h1m4 0h2m6 0h2m11 0h1m3 0h1m2 0h1M75 105h1m1 0h1m3 0h1m19 0h1m4 0h1m1 0h1m6 0h1m2 0h1m6 0h1m2 0h1m16 0h1M75 106h1m13 0h1m1 0h1m4 0h2m6 0h4m7 0h3m4 0h1m5 0h1M77 107h1m5 0h1m3 0h1m10 0h2m4 0h1m2 0h1m15 0h1M85 108h1m2 0h1m9 0h1m4 0h1m3 0h2m3 0h1m2 0h1m3 0h1m6 0h1M75 109h1m7 0h1m4 0h1m3 0h2m12 0h1m8 0h2M73 110h1m29 0h1m19 0h1m4 0h1M93 111h1m3 0h1m2 0h2m6 0h1"/>
<g stroke="#080808" stroke-width="1.5" fill="none">
<rect x="968.9" y="930.9" width="201.7" height="147.1"/>
<path stroke-width="1.7" d="M1092.7 930.9V1078M968.9 1021.7H1170.6"/>
<path stroke-width="1.25" d="M968.9 1078v5.26M968.9 1078h-5.34M984.08 1078v3.21M968.9 1066.93h-3.26M992.96 1078v3.21M968.9 1060.45h-3.26M999.26 1078v3.21M968.9 1055.86h-3.26M1004.15 1078v3.21M968.9 1052.3h-3.26M1008.14 1078v3.21M968.9 1049.38h-3.26M1011.51 1078v3.21M968.9 1046.92h-3.26M1014.44 1078v3.21M968.9 1044.79h-3.26M1017.02 1078v3.21M968.9 1042.91h-3.26M1019.32 1078v5.26M968.9 1041.22h-5.34M1034.5 1078v3.21M968.9 1030.15h-3.26M1043.38 1078v3.21M968.9 1023.68h-3.26M1049.68 1078v3.21M968.9 1019.08h-3.26M1054.57 1078v3.21M968.9 1015.52h-3.26M1058.56 1078v3.21M968.9 1012.61h-3.26M1061.94 1078v3.21M968.9 1010.15h-3.26M1064.86 1078v3.21M968.9 1008.01h-3.26M1067.44 1078v3.21M968.9 1006.13h-3.26M1069.75 1078v5.26M968.9 1004.45h-5.34M1084.93 1078v3.21M968.9 993.38h-3.26M1093.81 1078v3.21M968.9 986.9h-3.26M1100.11 1078v3.21M968.9 982.31h-3.26M1105 1078v3.21M968.9 978.75h-3.26M1108.99 1078v3.21M968.9 975.83h-3.26M1112.36 1078v3.21M968.9 973.37h-3.26M1115.29 1078v3.21M968.9 971.24h-3.26M1117.87 1078v3.21M968.9 969.36h-3.26M1120.17 1078v5.26M968.9 967.67h-5.34M1135.35 1078v3.21M968.9 956.6h-3.26M1144.23 1078v3.21M968.9 950.13h-3.26M1150.53 1078v3.21M968.9 945.53h-3.26M1155.42 1078v3.21M968.9 941.97h-3.26M1159.41 1078v3.21M968.9 939.06h-3.26M1162.79 1078v3.21M968.9 936.6h-3.26M1165.71 1078v3.21M968.9 934.46h-3.26M1168.29 1078v3.21M968.9 932.58h-3.26M1170.6 1078v5.26M968.9 930.9h-5.34"/>
</g>
<g font-weight="normal" fill="#1c1c1c">
<text transform="translate(1049.33,927) scale(1.035,1)" font-size="10.33">016</text>
<text transform="translate(1054.03,1106.45) scale(1.025,1)" font-size="10.33">FL1-H</text>
<text transform="translate(960.71,1096.12) scale(0.989,1)" font-size="10.33">10</text>
<text transform="translate(971.78,1090.47) scale(1.091,1)" font-size="9.09">0</text>
<text transform="translate(962.97,1085.59) rotate(-90) scale(0.886,1)" font-size="11.47">10</text>
<text transform="translate(955.75,1074.68) rotate(-90) scale(0.968,1)" font-size="10.09">0</text>
<text transform="translate(1011.13,1096.12) scale(0.989,1)" font-size="10.33">10</text>
<text transform="translate(1021.83,1090.47) scale(1.091,1)" font-size="9.09">1</text>
<text transform="translate(962.97,1050.28) rotate(-90) scale(0.886,1)" font-size="11.47">10</text>
<text transform="translate(955.75,1039.73) rotate(-90) scale(0.968,1)" font-size="10.09">1</text>
<text transform="translate(1064.52,1096.12) scale(0.989,1)" font-size="10.33">10</text>
<text transform="translate(1075.48,1090.47) scale(1.091,1)" font-size="9.09">2</text>
<text transform="translate(962.97,1013.5) rotate(-90) scale(0.886,1)" font-size="11.47">10</text>
<text transform="translate(955.75,1002.7) rotate(-90) scale(0.968,1)" font-size="10.09">2</text>
<text transform="translate(1111.98,1096.12) scale(0.989,1)" font-size="10.33">10</text>
<text transform="translate(1123.06,1090.47) scale(1.091,1)" font-size="9.09">3</text>
<text transform="translate(962.97,976.73) rotate(-90) scale(0.886,1)" font-size="11.47">10</text>
<text transform="translate(955.75,965.81) rotate(-90) scale(0.968,1)" font-size="10.09">3</text>
<text transform="translate(1160.53,1096.12) scale(0.989,1)" font-size="10.33">10</text>
<text transform="translate(1171.76,1090.47) scale(1.091,1)" font-size="9.09">4</text>
<text transform="translate(962.97,939.95) rotate(-90) scale(0.886,1)" font-size="11.47">10</text>
<text transform="translate(955.75,928.88) rotate(-90) scale(0.968,1)" font-size="10.09">4</text>
<text transform="translate(946.65,1019.69) rotate(-90) scale(0.864,1)" font-size="11.47">FL2-H</text>
</g>
<path transform="translate(1209.3,930.95) scale(1.3)" stroke="#0b0b0b" stroke-width="1" fill="none" d="M154 5h1M154 6h1M154 7h1M154 8h1M153 9h2M153 10h2M154 11h1M153 12h2M154 13h1M153 14h2M153 15h2M154 16h1M153 17h2M152 18h3M152 19h3M152 20h3M152 21h3M150 22h1m1 0h3M152 23h3M152 24h3M152 25h3M150 26h1m1 0h3M152 27h3M150 28h1m1 0h3M149 29h6M151 30h4M150 31h5M148 32h6M148 33h1m1 0h5M148 34h7M146 35h1m2 0h5M146 36h2m1 0h6M147 37h1m1 0h4M132 38h1m13 0h9M145 39h1m2 0h5m1 0h1M130 40h1m5 0h1m9 0h1m1 0h6M146 41h2m1 0h5M125 42h1m1 0h2m6 0h1m9 0h9M126 43h1m6 0h1m3 0h1m5 0h1m1 0h7m1 0h2M124 44h1m6 0h1m1 0h1m2 0h5m2 0h12M125 45h1m13 0h1m1 0h1m3 0h7m2 0h1M126 46h1m7 0h1m5 0h2m1 0h10M124 47h1m2 0h1m7 0h5m1 0h10m2 0h1M118 48h4m7 0h3m3 0h2m1 0h1m2 0h8m1 0h2M120 49h1m2 0h1m3 0h1m3 0h1m3 0h2m3 0h9m1 0h3M123 50h1m7 0h2m1 0h1m2 0h14M120 51h2m12 0h2m1 0h1m1 0h9m1 0h2m1 0h2M130 52h1m2 0h1m1 0h3m1 0h12m2 0h1M125 53h1m6 0h1m2 0h1m2 0h2m1 0h5m1 0h3m1 0h2m1 0h1M117 54h1m6 0h3m3 0h1m1 0h1m2 0h1m1 0h14M126 55h1m1 0h2m1 0h2m1 0h17m2 0h2M78 56h1m36 0h1m13 0h1m1 0h19m1 0h2M110 57h1m13 0h1m2 0h1m1 0h1m1 0h18m1 0h1m1 0h1M92 58h1m26 0h1m1 0h1m1 0h2m1 0h1m2 0h20m2 0h2M110 59h1m8 0h1m2 0h2m1 0h2m1 0h22M115 60h1m4 0h2m1 0h2m1 0h21m1 0h1m4 0h1M118 61h2m1 0h2m2 0h2m1 0h22m1 0h2m1 0h1M102 62h1m2 0h1m3 0h1m4 0h1m2 0h1m1 0h1m1 0h1m1 0h1m1 0h26M90 63h1m15 0h1m1 0h1m3 0h1m3 0h1m1 0h1m1 0h1m1 0h27m3 0h1m1 0h1M101 64h1m13 0h1m2 0h27m1 0h4M97 65h1m13 0h1m2 0h28m1 0h7M106 66h1m3 0h1m2 0h2m2 0h2m1 0h28m4 0h1M75 67h1m5 0h1m13 0h1m6 0h1m10 0h1m2 0h30m3 0h1m4 0h1M88 68h1m16 0h1m4 0h2m1 0h33m1 0h2m2 0h1M78 69h1m11 0h1m13 0h1m1 0h1m2 0h38m4 0h1M85 70h1m2 0h1m1 0h1m7 0h1m4 0h1m3 0h2m1 0h34m1 0h3m3 0h2M93 71h1m1 0h1m12 0h4m2 0h30m1 0h4M81 72h1m17 0h1m6 0h1m1 0h38m2 0h1m1 0h2M101 73h1m6 0h33m1 0h1m9 0h1M90 74h1m7 0h1m5 0h1m1 0h3m3 0h33m1 0h1M86 75h1m3 0h1m6 0h1m1 0h1m4 0h1m3 0h36m2 0h1M95 76h1m10 0h3m1 0h32m2 0h1m4 0h1M74 77h1m4 0h1m4 0h1m3 0h1m11 0h1m1 0h5m1 0h33m1 0h1m2 0h1M70 78h1m16 0h1m10 0h1m5 0h36m2 0h1m1 0h1m2 0h2M36 79h1m54 0h1m4 0h1m2 0h1m4 0h2m1 0h28m3 0h3m2 0h1m2 0h1M85 80h1m8 0h2m1 0h1m1 0h2m1 0h3m1 0h1m1 0h24m1 0h3m2 0h2m1 0h2M86 81h1m2 0h1m3 0h1m4 0h1m1 0h1m1 0h1m1 0h1m1 0h27m1 0h1m2 0h1m1 0h1m4 0h1M94 82h3m1 0h1m2 0h1m1 0h25m1 0h9m1 0h1m1 0h1M65 83h1m17 0h1m2 0h1m9 0h1m1 0h1m1 0h1m1 0h1m1 0h25m1 0h1m1 0h2m3 0h1m1 0h1M37 84h1m26 0h1m19 0h1m9 0h3m1 0h5m1 0h3m1 0h23m1 0h1m1 0h1m1 0h1m1 0h1m8 0h1M88 85h1m4 0h1m4 0h1m3 0h1m1 0h25m1 0h2m3 0h2m1 0h1M17 86h1m19 0h1m39 0h1m2 0h1m2 0h2m4 0h1m2 0h1m1 0h1m1 0h2m1 0h2m1 0h6m1 0h21m1 0h2m1 0h1m7 0h1M50 87h1m33 0h4m2 0h1m1 0h1m1 0h2m3 0h2m1 0h1m1 0h23m1 0h3m6 0h1M0 88h1m56 0h1m10 0h1m5 0h1m5 0h4m4 0h2m1 0h1m6 0h2m2 0h5m2 0h4m1 0h15m2 0h2m2 0h1m1 0h1M27 89h1m48 0h1m2 0h1m3 0h2m2 0h3m2 0h5m2 0h6m1 0h17m1 0h2m1 0h1m1 0h1m1 0h1m2 0h1m2 0h1m1 0h1M87 90h1m3 0h1m2 0h4m2 0h3m1 0h11m1 0h3m1 0h3m1 0h2m19 0h2M79 91h1m5 0h1m11 0h1m1 0h3m2 0h14m1 0h2m1 0h4m3 0h1m4 0h1M21 92h1m56 0h1m11 0h1m2 0h2m1 0h2m1 0h2m1 0h3m2 0h14m1 0h2m1 0h3m10 0h2M67 93h1m14 0h2m4 0h2m1 0h1m1 0h1m1 0h2m1 0h3m1 0h2m1 0h11m2 0h4m2 0h4m6 0h1M42 94h1m30 0h1m5 0h2m7 0h1m7 0h2m1 0h1m3 0h1m3 0h2m1 0h5m1 0h2m4 0h1m3 0h1m4 0h2M77 95h1m4 0h1m2 0h1m12 0h5m1 0h1m1 0h1m1 0h2m1 0h1m2 0h1m2 0h2m3 0h3m3 0h1m5 0h1m1 0h1M25 96h1m29 0h1m8 0h1m10 0h1m5 0h1m8 0h1m1 0h2m4 0h1m1 0h1m3 0h7m1 0h2m1 0h2m6 0h1m1 0h1m3 0h1m1 0h1m3 0h1M61 97h1m22 0h1m9 0h2m2 0h1m1 0h1m1 0h2m2 0h1m3 0h3m3 0h1m1 0h6m4 0h1m2 0h1M65 98h1m9 0h1m5 0h1m2 0h3m3 0h2m4 0h1m2 0h1m1 0h3m1 0h2m3 0h5m1 0h2m1 0h1m3 0h1m1 0h4m2 0h1M7 99h2m29 0h1m18 0h1m7 0h1m15 0h2m6 0h1m3 0h1m1 0h1m1 0h1m2 0h1m4 0h5m1 0h3m5 0h1m1 0h1m1 0h3m4 0h1m2 0h1m7 0h1M50 100h1m28 0h1m1 0h1m4 0h1m2 0h1m1 0h1m3 0h1m2 0h1m1 0h1m2 0h1m2 0h2m2 0h1m2 0h1m2 0h1m3 0h1m6 0h1M20 101h1m35 0h1m29 0h1m6 0h3m4 0h2m3 0h3m3 0h1m4 0h6m4 0h1M14 102h1m19 0h1m20 0h1m14 0h1m1 0h1m4 0h2m1 0h1m14 0h2m1 0h1m4 0h4m1 0h2m5 0h1m4 0h1m3 0h1m3 0h1M89 103h1m4 0h2m2 0h1m1 0h1m2 0h1m1 0h1m7 0h1m2 0h1m1 0h2m2 0h2m3 0h1m4 0h2M15 104h1m51 0h1m11 0h2m3 0h1m7 0h1m3 0h1m1 0h2m4 0h1m1 0h1m2 0h1m3 0h2m2 0h1m4 0h1M46 105h1m25 0h1m16 0h1m7 0h1m4 0h3m1 0h1m1 0h3m4 0h1m2 0h1M6 106h1m41 0h1m17 0h1m12 0h1m1 0h1m8 0h1m1 0h1m4 0h1m11 0h2m5 0h2m2 0h1m3 0h1M6 107h1m65 0h1m6 0h1m3 0h2m5 0h1m6 0h1m1 0h1m5 0h1m1 0h1m5 0h1m1 0h1m3 0h3m1 0h3m3 0h1M74 108h1m5 0h1m3 0h1m3 0h2m1 0h3m1 0h1m2 0h1m4 0h1m5 0h1m4 0h1m1 0h1m1 0h1M83 109h2m2 0h1m6 0h2m12 0h2m6 0h1m5 0h1m6 0h1M12 110h1m17 0h1m26 0h1m23 0h2m3 0h2m1 0h1m14 0h1m7 0h1m4 0h1m7 0h1m8 0h1M83 111h2m7 0h1m16 0h1m3 0h1m1 0h1m5 0h1m3 0h1M18 112h1m38 0h1m6 0h1m13 0h1m3 0h1m2 0h1m8 0h1m2 0h2m1 0h1m5 0h1m6 0h1m1 0h1m4 0h1M9 113h1m41 0h1m54 0h1"/>
<g stroke="#080808" stroke-width="1.5" fill="none">
<rect x="1208" y="929.4" width="203.3" height="149.6"/>
<path stroke-width="1.7" d="M1333.4 929.4V1079M1208 1021.7H1411.3"/>
<path stroke-width="1.25" d="M1208 1079v5.35M1208 1079h-5.38M1223.3 1079v3.27M1208 1067.74h-3.29M1232.25 1079v3.27M1208 1061.16h-3.29M1238.6 1079v3.27M1208 1056.48h-3.29M1243.53 1079v3.27M1208 1052.86h-3.29M1247.55 1079v3.27M1208 1049.9h-3.29M1250.95 1079v3.27M1208 1047.39h-3.29M1253.9 1079v3.27M1208 1045.22h-3.29M1256.5 1079v3.27M1208 1043.31h-3.29M1258.83 1079v5.35M1208 1041.6h-5.38M1274.12 1079v3.27M1208 1030.34h-3.29M1283.07 1079v3.27M1208 1023.76h-3.29M1289.42 1079v3.27M1208 1019.08h-3.29M1294.35 1079v3.27M1208 1015.46h-3.29M1298.37 1079v3.27M1208 1012.5h-3.29M1301.78 1079v3.27M1208 1009.99h-3.29M1304.72 1079v3.27M1208 1007.82h-3.29M1307.32 1079v3.27M1208 1005.91h-3.29M1309.65 1079v5.35M1208 1004.2h-5.38M1324.95 1079v3.27M1208 992.94h-3.29M1333.9 1079v3.27M1208 986.36h-3.29M1340.25 1079v3.27M1208 981.68h-3.29M1345.18 1079v3.27M1208 978.06h-3.29M1349.2 1079v3.27M1208 975.1h-3.29M1352.6 1079v3.27M1208 972.59h-3.29M1355.55 1079v3.27M1208 970.42h-3.29M1358.15 1079v3.27M1208 968.51h-3.29M1360.47 1079v5.35M1208 966.8h-5.38M1375.77 1079v3.27M1208 955.54h-3.29M1384.72 1079v3.27M1208 948.96h-3.29M1391.07 1079v3.27M1208 944.28h-3.29M1396 1079v3.27M1208 940.66h-3.29M1400.02 1079v3.27M1208 937.7h-3.29M1403.43 1079v3.27M1208 935.19h-3.29M1406.37 1079v3.27M1208 933.02h-3.29M1408.97 1079v3.27M1208 931.11h-3.29M1411.3 1079v5.35M1208 929.4h-5.38"/>
</g>
<g font-weight="normal" fill="#1c1c1c">
<text transform="translate(1289.07,925.44) scale(1.026,1)" font-size="10.5">017</text>
<text transform="translate(1293.81,1107.93) scale(1.016,1)" font-size="10.5">FL1-H</text>
<text transform="translate(1199.74,1097.43) scale(0.980,1)" font-size="10.5">10</text>
<text transform="translate(1210.9,1091.68) scale(1.082,1)" font-size="9.24">0</text>
<text transform="translate(1202.02,1086.72) rotate(-90) scale(0.894,1)" font-size="11.56">10</text>
<text transform="translate(1194.75,1075.62) rotate(-90) scale(0.977,1)" font-size="10.17">0</text>
<text transform="translate(1250.57,1097.43) scale(0.980,1)" font-size="10.5">10</text>
<text transform="translate(1261.35,1091.68) scale(1.082,1)" font-size="9.24">1</text>
<text transform="translate(1202.02,1050.81) rotate(-90) scale(0.894,1)" font-size="11.56">10</text>
<text transform="translate(1194.75,1040.08) rotate(-90) scale(0.977,1)" font-size="10.17">1</text>
<text transform="translate(1304.38,1097.43) scale(0.980,1)" font-size="10.5">10</text>
<text transform="translate(1315.43,1091.68) scale(1.082,1)" font-size="9.24">2</text>
<text transform="translate(1202.02,1013.41) rotate(-90) scale(0.894,1)" font-size="11.56">10</text>
<text transform="translate(1194.75,1002.42) rotate(-90) scale(0.977,1)" font-size="10.17">2</text>
<text transform="translate(1352.22,1097.43) scale(0.980,1)" font-size="10.5">10</text>
<text transform="translate(1363.38,1091.68) scale(1.082,1)" font-size="9.24">3</text>
<text transform="translate(1202.02,976.01) rotate(-90) scale(0.894,1)" font-size="11.56">10</text>
<text transform="translate(1194.75,964.9) rotate(-90) scale(0.977,1)" font-size="10.17">3</text>
<text transform="translate(1401.15,1097.43) scale(0.980,1)" font-size="10.5">10</text>
<text transform="translate(1412.47,1091.68) scale(1.082,1)" font-size="9.24">4</text>
<text transform="translate(1202.02,938.61) rotate(-90) scale(0.894,1)" font-size="11.56">10</text>
<text transform="translate(1194.75,927.34) rotate(-90) scale(0.977,1)" font-size="10.17">4</text>
<clipPath id="c110"><rect x="1181.59" y="985.7" width="4.98" height="40"/></clipPath><g clip-path="url(#c110)"><text transform="translate(1185.58,1019.7) rotate(-90) scale(0.872,1)" font-size="11.56">FL2-H</text></g>
</g>
<path transform="translate(1448,932.55) scale(1.3)" stroke="#0b0b0b" stroke-width="1" fill="none" d="M153 4h1M153 5h1M153 6h1M153 7h1M152 8h2M153 9h1M152 10h2M152 11h2M151 12h1m1 0h1M152 13h2M152 14h2M151 15h3M152 16h2M152 17h2M151 18h3M151 19h3M151 20h3M151 21h3M151 22h3M151 23h3M151 24h3M149 25h5M150 26h4M150 27h4M148 28h2m1 0h3M148 29h1m1 0h4M149 30h5M149 31h2m1 0h2M149 32h5M148 33h5M147 34h7M148 35h2m1 0h3M146 36h7M147 37h5m1 0h1M143 38h1m4 0h4m1 0h1M146 39h5M124 40h1m6 0h1m15 0h4m1 0h1M123 41h1m18 0h2m2 0h6m1 0h1M124 42h1m8 0h1m1 0h1m10 0h5m1 0h1M134 43h1m2 0h1m5 0h10M124 44h1m3 0h1m1 0h2m11 0h2m1 0h7M130 45h1m4 0h1m1 0h1m4 0h10M125 46h1m3 0h1m2 0h1m8 0h11M119 47h1m5 0h2m2 0h1m3 0h1m4 0h1m3 0h6m2 0h1m1 0h1M128 48h1m5 0h1m1 0h1m2 0h13M115 49h1m6 0h1m5 0h2m4 0h1m1 0h1m1 0h3m1 0h11M124 50h3m1 0h2m1 0h1m1 0h2m2 0h1m1 0h14M129 51h1m6 0h15m2 0h1M122 52h1m1 0h1m1 0h1m1 0h2m1 0h1m1 0h3m3 0h10M128 53h2m3 0h1m1 0h17M110 54h1m20 0h2m1 0h4m1 0h10m1 0h1m1 0h1M97 55h1m24 0h1m2 0h1m3 0h1m1 0h2m1 0h18M125 56h2m4 0h2m1 0h17M126 57h1m1 0h2m1 0h18M111 58h1m4 0h1m2 0h1m2 0h1m3 0h4m1 0h18m4 0h1M109 59h1m7 0h1m4 0h3m1 0h3m1 0h1m1 0h14m1 0h1m2 0h3M112 60h1m9 0h1m4 0h23M117 61h1m1 0h1m1 0h2m2 0h23M106 62h1m4 0h2m3 0h1m1 0h2m1 0h28m2 0h1M81 63h1m32 0h1m1 0h1m2 0h26m4 0h1M111 64h1m2 0h1m1 0h2m1 0h1m1 0h26m1 0h1M96 65h1m4 0h1m4 0h1m6 0h2m2 0h2m1 0h26m3 0h1M78 66h1m29 0h1m1 0h2m3 0h2m1 0h31m2 0h1M82 67h1m27 0h1m1 0h2m3 0h25m1 0h2m3 0h1m1 0h1m1 0h1M87 68h1m6 0h1m2 0h1m6 0h1m1 0h1m5 0h31m1 0h3M102 69h1m6 0h3m1 0h30m1 0h1m2 0h1m3 0h1M96 70h1m2 0h2m3 0h1m6 0h31m1 0h1m2 0h2m1 0h1m3 0h1M85 71h1m6 0h1m11 0h1m2 0h36m1 0h1m1 0h3M81 72h1m3 0h1m13 0h2m3 0h2m1 0h2m1 0h1m1 0h1m1 0h25m1 0h1m1 0h2M99 73h2m1 0h5m1 0h32M88 74h1m3 0h1m3 0h1m6 0h1m1 0h2m2 0h30m2 0h3M86 75h1m4 0h1m3 0h3m3 0h3m2 0h33m1 0h3m6 0h1M71 76h1m7 0h1m4 0h1m5 0h1m2 0h1m1 0h1m2 0h1m1 0h1m2 0h2m3 0h29m1 0h2m2 0h2m5 0h1M86 77h2m6 0h2m1 0h1m1 0h2m4 0h28m1 0h2m2 0h2m7 0h1M73 78h1m3 0h1m10 0h1m2 0h1m5 0h2m2 0h3m2 0h31M83 79h1m9 0h3m1 0h5m1 0h1m2 0h26m1 0h1m2 0h1m1 0h2m2 0h1m1 0h1M84 80h1m1 0h1m1 0h1m1 0h1m3 0h1m1 0h2m2 0h1m2 0h29m1 0h2m1 0h1M77 81h2m9 0h1m1 0h1m5 0h1m4 0h31m2 0h1m1 0h1m4 0h1M72 82h1m21 0h2m1 0h3m1 0h8m1 0h20m12 0h1M77 83h1m9 0h1m3 0h1m1 0h2m1 0h2m1 0h1m1 0h4m1 0h24m3 0h2M81 84h1m5 0h1m3 0h1m7 0h2m1 0h25m4 0h1m3 0h1m14 0h1M71 85h1m10 0h1m4 0h4m2 0h1m3 0h3m1 0h1m1 0h23m2 0h2m2 0h1m1 0h1M79 86h2m12 0h3m1 0h1m2 0h1m1 0h22m1 0h1m3 0h2M69 87h2m12 0h1m1 0h3m3 0h1m3 0h1m1 0h6m1 0h8m1 0h14m3 0h4M72 88h1m12 0h5m1 0h2m2 0h2m2 0h2m1 0h6m1 0h4m1 0h4m1 0h1m1 0h1m1 0h1m8 0h1M73 89h1m6 0h1m1 0h1m3 0h5m4 0h2m1 0h18m1 0h7m2 0h1m2 0h1m4 0h1M71 90h1m3 0h1m2 0h2m4 0h1m7 0h2m1 0h1m2 0h1m1 0h1m1 0h2m3 0h1m1 0h5m2 0h3m1 0h2m1 0h1m3 0h1m6 0h1M75 91h1m6 0h1m3 0h1m1 0h1m2 0h3m1 0h2m2 0h3m1 0h1m2 0h1m1 0h1m1 0h7m1 0h1m2 0h4m2 0h1m7 0h2M79 92h1m1 0h1m7 0h1m1 0h4m1 0h1m1 0h1m1 0h6m1 0h9m6 0h1m3 0h2m4 0h1M72 93h1m3 0h1m2 0h2m2 0h1m2 0h1m3 0h1m2 0h1m2 0h1m1 0h1m2 0h1m1 0h1m1 0h7m4 0h3m5 0h2M82 94h1m1 0h1m1 0h3m1 0h1m1 0h3m1 0h2m2 0h2m1 0h2m1 0h2m4 0h1m1 0h2m1 0h1m2 0h3m3 0h1m4 0h1m3 0h1M20 95h1m41 0h1m9 0h1m1 0h1m3 0h4m1 0h3m7 0h1m1 0h3m2 0h4m1 0h3m2 0h4m1 0h1m4 0h1m1 0h1m3 0h2m2 0h1m18 0h1M39 96h1m30 0h1m2 0h1m3 0h1m10 0h1m2 0h2m1 0h2m2 0h1m3 0h1m1 0h3m1 0h5m1 0h2m1 0h4m2 0h1m1 0h1m2 0h1m1 0h2M44 97h1m11 0h1m19 0h1m2 0h1m2 0h1m7 0h1m5 0h1m2 0h3m1 0h3m2 0h1m2 0h1m2 0h1m6 0h1m23 0h1M79 98h1m2 0h1m1 0h1m1 0h1m4 0h2m2 0h1m4 0h2m1 0h3m2 0h4m1 0h2m4 0h1m1 0h1m1 0h1M77 99h1m4 0h1m1 0h1m1 0h1m6 0h2m3 0h1m1 0h3m6 0h4m1 0h1m2 0h1m1 0h1m6 0h1m5 0h1m5 0h1M52 100h1m27 0h1m4 0h1m2 0h1m1 0h1m2 0h1m4 0h3m1 0h2m1 0h4m3 0h1m3 0h3m1 0h1m5 0h1M49 101h1m1 0h1m17 0h1m12 0h7m1 0h1m1 0h2m1 0h1m1 0h1m5 0h1m2 0h5m3 0h3m8 0h1M58 102h1m21 0h1m2 0h1m1 0h1m6 0h1m6 0h1m1 0h3m4 0h1m3 0h1m1 0h4m4 0h1m1 0h3M63 103h1m17 0h1m1 0h2m6 0h4m3 0h2m1 0h1m3 0h1m4 0h1m1 0h2m2 0h3m7 0h1m2 0h2M68 104h1m7 0h1m1 0h1m5 0h1m1 0h1m4 0h1m1 0h1m7 0h2m2 0h1m4 0h1m4 0h1m1 0h1m2 0h1m2 0h1M74 105h1m13 0h1m2 0h1m1 0h1m1 0h1m2 0h2m1 0h3m1 0h1m4 0h1m5 0h2m2 0h1m2 0h1m9 0h1M59 106h1m19 0h1m1 0h1m1 0h1m3 0h1m4 0h1m6 0h2m12 0h1m2 0h3m2 0h1m21 0h1M80 107h1m3 0h2m1 0h1m1 0h2m1 0h1m2 0h2m4 0h1m5 0h2m3 0h3m4 0h1m8 0h1M85 108h1m5 0h1m1 0h1m1 0h1m2 0h1m11 0h1m3 0h2m2 0h1m20 0h1M40 109h1m31 0h1m9 0h1m3 0h2m2 0h3m8 0h2m6 0h1m6 0h1m2 0h1m1 0h1m1 0h1M53 110h1m20 0h1m2 0h1m5 0h1m8 0h2m1 0h1m2 0h1m2 0h1m1 0h1m1 0h1M82 111h1m3 0h1m3 0h2m12 0h1m4 0h1m11 0h1m7 0h1M83 112h2m2 0h1m1 0h1m1 0h1m1 0h1m5 0h2m4 0h1m1 0h1m5 0h2"/>
<g stroke="#080808" stroke-width="1.5" fill="none">
<rect x="1446.4" y="930" width="202.3" height="149.3"/>
<path stroke-width="1.7" d="M1571 930V1079.3M1446.4 1022.3H1648.7"/>
<path stroke-width="1.25" d="M1446.4 1079.3v5.34M1446.4 1079.3h-5.35M1461.62 1079.3v3.26M1446.4 1068.06h-3.27M1470.53 1079.3v3.26M1446.4 1061.49h-3.27M1476.85 1079.3v3.26M1446.4 1056.83h-3.27M1481.75 1079.3v3.26M1446.4 1053.21h-3.27M1485.75 1079.3v3.26M1446.4 1050.26h-3.27M1489.14 1079.3v3.26M1446.4 1047.76h-3.27M1492.07 1079.3v3.26M1446.4 1045.59h-3.27M1494.66 1079.3v3.26M1446.4 1043.68h-3.27M1496.98 1079.3v5.34M1446.4 1041.97h-5.35M1512.2 1079.3v3.26M1446.4 1030.74h-3.27M1521.11 1079.3v3.26M1446.4 1024.17h-3.27M1527.42 1079.3v3.26M1446.4 1019.5h-3.27M1532.33 1079.3v3.26M1446.4 1015.89h-3.27M1536.33 1079.3v3.26M1446.4 1012.93h-3.27M1539.72 1079.3v3.26M1446.4 1010.43h-3.27M1542.65 1079.3v3.26M1446.4 1008.27h-3.27M1545.24 1079.3v3.26M1446.4 1006.36h-3.27M1547.55 1079.3v5.34M1446.4 1004.65h-5.35M1562.77 1079.3v3.26M1446.4 993.41h-3.27M1571.68 1079.3v3.26M1446.4 986.84h-3.27M1578 1079.3v3.26M1446.4 982.18h-3.27M1582.9 1079.3v3.26M1446.4 978.56h-3.27M1586.9 1079.3v3.26M1446.4 975.61h-3.27M1590.29 1079.3v3.26M1446.4 973.11h-3.27M1593.22 1079.3v3.26M1446.4 970.94h-3.27M1595.81 1079.3v3.26M1446.4 969.03h-3.27M1598.12 1079.3v5.34M1446.4 967.33h-5.35M1613.35 1079.3v3.26M1446.4 956.09h-3.27M1622.26 1079.3v3.26M1446.4 949.52h-3.27M1628.57 1079.3v3.26M1446.4 944.85h-3.27M1633.48 1079.3v3.26M1446.4 941.24h-3.27M1637.48 1079.3v3.26M1446.4 938.28h-3.27M1640.87 1079.3v3.26M1446.4 935.78h-3.27M1643.8 1079.3v3.26M1446.4 933.62h-3.27M1646.39 1079.3v3.26M1446.4 931.71h-3.27M1648.7 1079.3v5.34M1446.4 930h-5.35"/>
</g>
<g font-weight="normal" fill="#1c1c1c">
<text transform="translate(1527.07,926.05) scale(1.023,1)" font-size="10.48">015</text>
<text transform="translate(1531.78,1108.17) scale(1.013,1)" font-size="10.48">FL1-H</text>
<text transform="translate(1438.18,1097.69) scale(0.977,1)" font-size="10.48">10</text>
<text transform="translate(1449.28,1091.96) scale(1.079,1)" font-size="9.22">0</text>
<text transform="translate(1440.45,1087) rotate(-90) scale(0.896,1)" font-size="11.5">10</text>
<text transform="translate(1433.21,1075.93) rotate(-90) scale(0.980,1)" font-size="10.12">0</text>
<text transform="translate(1488.76,1097.69) scale(0.977,1)" font-size="10.48">10</text>
<text transform="translate(1499.49,1091.96) scale(1.079,1)" font-size="9.22">1</text>
<text transform="translate(1440.45,1051.16) rotate(-90) scale(0.896,1)" font-size="11.5">10</text>
<text transform="translate(1433.21,1040.45) rotate(-90) scale(0.980,1)" font-size="10.12">1</text>
<text transform="translate(1542.31,1097.69) scale(0.977,1)" font-size="10.48">10</text>
<text transform="translate(1553.3,1091.96) scale(1.079,1)" font-size="9.22">2</text>
<text transform="translate(1440.45,1013.84) rotate(-90) scale(0.896,1)" font-size="11.5">10</text>
<text transform="translate(1433.21,1002.87) rotate(-90) scale(0.980,1)" font-size="10.12">2</text>
<text transform="translate(1589.91,1097.69) scale(0.977,1)" font-size="10.48">10</text>
<text transform="translate(1601.02,1091.96) scale(1.079,1)" font-size="9.22">3</text>
<text transform="translate(1440.45,976.51) rotate(-90) scale(0.896,1)" font-size="11.5">10</text>
<text transform="translate(1433.21,965.43) rotate(-90) scale(0.980,1)" font-size="10.12">3</text>
<text transform="translate(1638.6,1097.69) scale(0.977,1)" font-size="10.48">10</text>
<text transform="translate(1649.86,1091.96) scale(1.079,1)" font-size="9.22">4</text>
<text transform="translate(1440.45,939.19) rotate(-90) scale(0.896,1)" font-size="11.5">10</text>
<text transform="translate(1433.21,927.95) rotate(-90) scale(0.980,1)" font-size="10.12">4</text>
<clipPath id="c111"><rect x="1420.12" y="986.14" width="4.96" height="40"/></clipPath><g clip-path="url(#c111)"><text transform="translate(1424.09,1020.12) rotate(-90) scale(0.874,1)" font-size="11.5">FL2-H</text></g>
</g>
<path transform="translate(309.9,1350.45) scale(1.3)" stroke="#0b0b0b" stroke-width="1" fill="none" d="M145 8h1M145 9h1M145 10h1M145 11h1M144 12h2M143 13h1m1 0h1M143 14h3M144 15h2M144 16h2M144 17h2M144 18h2M143 19h3M144 20h2M144 21h2M144 22h2M143 23h2M142 24h4M143 25h3M142 26h4M142 27h4M140 28h2m1 0h2M140 29h1m2 0h1M140 30h6M139 31h6M137 32h6M135 33h1m1 0h1m1 0h5m1 0h1M141 34h3M127 35h1m8 0h1m1 0h3m2 0h1M126 36h1m1 0h1m4 0h1m1 0h7m1 0h1M123 37h1m2 0h2m1 0h1m2 0h1m1 0h2m1 0h1m1 0h5M116 38h1m6 0h1m7 0h1m4 0h1m2 0h4M113 39h1m8 0h1m3 0h3m2 0h1m1 0h4m1 0h2m1 0h1M121 40h1m2 0h1m1 0h1m1 0h7m1 0h1m1 0h2m1 0h2M118 41h1m6 0h1m2 0h2m2 0h2m4 0h2M119 42h1m3 0h1m2 0h4m1 0h2m5 0h1M109 43h1m13 0h1m1 0h1m1 0h2m1 0h2m5 0h2M116 44h1m4 0h1m5 0h2m2 0h1m3 0h1M113 45h2m4 0h1m6 0h1m2 0h1M109 46h1m4 0h1m5 0h2m9 0h1m3 0h1M107 47h1m3 0h1m3 0h1m1 0h1m6 0h1m5 0h1m1 0h1M101 48h1m3 0h1m2 0h1m1 0h1m1 0h1m4 0h1m2 0h1m4 0h1m3 0h1m1 0h1M104 49h1m12 0h2m5 0h2m1 0h3m2 0h1M98 50h1m9 0h2m1 0h1m3 0h1m3 0h1m3 0h1M102 51h1m1 0h1m2 0h1m10 0h1m1 0h3m1 0h1m2 0h1M108 52h1m1 0h1m8 0h1M103 53h1m1 0h1m1 0h1m1 0h1m1 0h2m2 0h1m7 0h1m2 0h1M106 54h1m3 0h1M107 55h1m5 0h1M76 56h1m22 0h1m1 0h1m10 0h1m1 0h1m10 0h1M105 57h1m10 0h1M90 58h1m6 0h1m6 0h1m5 0h1M71 59h1m34 0h1M91 60h1M91 62h1M63 63h1m42 0h1M77 64h1m30 0h1m5 0h1M99 66h1m8 0h2m16 0h1M74 67h1m29 0h1M64 68h1m13 0h1m10 0h1m9 0h1m3 0h1m8 0h1m1 0h1m10 0h1M83 69h1m5 0h1m15 0h1m4 0h1m3 0h1m10 0h1M69 70h1m23 0h1m2 0h1m1 0h1m18 0h1M69 71h1m7 0h1m5 0h1m5 0h1m6 0h2m2 0h1m2 0h3m13 0h2M55 72h1m15 0h1m6 0h1m9 0h1m1 0h3m2 0h1m1 0h1m4 0h2m1 0h2m5 0h3m1 0h2m1 0h3m4 0h1M43 73h1m3 0h1m2 0h1m13 0h1m4 0h1m5 0h1m15 0h3m4 0h1m1 0h2m4 0h1m8 0h2m2 0h1m1 0h1M61 74h1m6 0h2m4 0h1m5 0h1m1 0h1m6 0h1m2 0h3m4 0h1m1 0h3m1 0h1m1 0h1m4 0h2m8 0h1m4 0h1m12 0h1M59 75h1m7 0h1m2 0h2m3 0h3m1 0h1m2 0h1m2 0h1m1 0h1m3 0h3m2 0h1m1 0h1m1 0h2m1 0h1m4 0h1m1 0h1m1 0h1m1 0h2m1 0h1m1 0h1m1 0h2m5 0h1M57 76h1m9 0h1m3 0h2m4 0h2m1 0h2m1 0h3m2 0h1m2 0h2m1 0h1m1 0h2m5 0h1m1 0h4m3 0h1m1 0h1m1 0h2m2 0h1M47 77h1m4 0h1m1 0h1m12 0h2m7 0h1m2 0h1m1 0h1m1 0h1m2 0h2m7 0h5m1 0h1m1 0h3m2 0h1m6 0h1m1 0h1m3 0h1M61 78h2m2 0h1m4 0h1m1 0h2m1 0h4m1 0h2m3 0h1m1 0h4m1 0h2m2 0h1m1 0h1m1 0h4m1 0h4m1 0h1m5 0h1m3 0h1m5 0h1m1 0h1M37 79h1m18 0h1m6 0h1m1 0h1m1 0h1m3 0h1m3 0h3m2 0h1m3 0h1m1 0h4m1 0h5m2 0h3m1 0h6m4 0h1m3 0h1m2 0h1M35 80h1m12 0h1m7 0h1m1 0h1m8 0h1m1 0h3m1 0h1m2 0h3m1 0h1m2 0h1m2 0h8m1 0h6m3 0h1m6 0h1m4 0h1m1 0h2m6 0h1M38 81h1m1 0h1m3 0h1m4 0h1m2 0h1m2 0h1m3 0h1m7 0h2m1 0h3m1 0h17m1 0h5m2 0h7m2 0h1m1 0h1m1 0h2m2 0h1m1 0h1m1 0h1m1 0h1M27 82h1m17 0h1m2 0h1m12 0h2m7 0h1m1 0h5m2 0h8m1 0h1m1 0h10m1 0h1m2 0h2m2 0h2m1 0h1m4 0h3m1 0h1M45 83h1m3 0h1m5 0h3m5 0h1m7 0h26m1 0h4m1 0h1m2 0h3m1 0h1m1 0h2m9 0h1m4 0h1M32 84h2m6 0h1m6 0h1m3 0h2m2 0h1m1 0h1m5 0h37m1 0h3m2 0h3m2 0h1m2 0h1m5 0h1m2 0h2M32 85h1m11 0h1m1 0h1m2 0h1m1 0h1m2 0h1m1 0h1m1 0h1m2 0h1m2 0h5m2 0h31m1 0h1m1 0h3m1 0h1m2 0h1m3 0h1m12 0h1M18 86h1m26 0h1m1 0h1m2 0h2m1 0h3m1 0h3m1 0h5m1 0h4m1 0h30m1 0h3m1 0h1m3 0h1m2 0h1m6 0h1m17 0h1M35 87h1m1 0h1m1 0h1m3 0h1m2 0h2m2 0h1m2 0h2m1 0h4m1 0h35m1 0h4m2 0h1m2 0h2m1 0h1m1 0h1m7 0h2m4 0h1M23 88h1m2 0h1m1 0h1m7 0h1m1 0h1m4 0h1m3 0h1m2 0h3m1 0h4m1 0h40m1 0h1m1 0h2m1 0h1m1 0h1m8 0h1m4 0h1m8 0h1m2 0h1M29 89h2m11 0h1m2 0h2m1 0h7m1 0h44m4 0h1m3 0h1m2 0h1m9 0h1m1 0h1m10 0h1M22 90h2m3 0h1m5 0h1m11 0h2m1 0h4m1 0h49m1 0h2m2 0h1m4 0h2m6 0h1m6 0h1M33 91h2m2 0h2m4 0h12m1 0h39m1 0h3m1 0h4m1 0h1m4 0h1m2 0h1m12 0h1m10 0h1M25 92h1m10 0h1m3 0h2m1 0h50m1 0h2m3 0h2m5 0h1m10 0h1M13 93h1m13 0h1m1 0h1m5 0h2m1 0h1m1 0h55m1 0h1m1 0h2m15 0h1m11 0h1M32 94h2m1 0h1m1 0h1m1 0h50m1 0h4m2 0h1m11 0h2m1 0h1m8 0h1m2 0h1m3 0h1m1 0h1m3 0h1M28 95h1m3 0h1m1 0h2m1 0h55m2 0h2m2 0h1m3 0h1m12 0h1m5 0h1M18 96h1m3 0h1m9 0h1m1 0h1m2 0h1m1 0h1m1 0h52m1 0h1m3 0h1m2 0h1m9 0h1m3 0h1m5 0h1m2 0h1M18 97h1m9 0h1m1 0h1m1 0h54m1 0h2m1 0h2M25 98h1m1 0h2m2 0h3m1 0h52m1 0h2m2 0h1m1 0h1m1 0h1m6 0h1M30 99h1m3 0h2m1 0h45m2 0h4m9 0h1m6 0h1m20 0h1M16 100h1m4 0h1m2 0h1m5 0h2m2 0h1m1 0h48m1 0h1m7 0h1m20 0h1m11 0h1M23 101h1m4 0h1m1 0h51m1 0h1m2 0h2m5 0h2m16 0h1M29 102h1m2 0h50m2 0h1m2 0h1m20 0h1m13 0h1M17 103h1m9 0h2m1 0h4m1 0h41m2 0h5m1 0h1m2 0h1m27 0h1M26 104h1m5 0h3m1 0h43m1 0h1m1 0h1m10 0h2M29 105h4m1 0h45m1 0h2m1 0h1m5 0h1m26 0h1M28 106h1m3 0h5m2 0h34m4 0h1m3 0h1m1 0h1m4 0h1m41 0h1"/>
<g stroke="#080808" stroke-width="1.5" fill="none">
<rect x="308.4" y="1348.5" width="191.8" height="140.9"/>
<path stroke-width="1.7" d="M426.8 1348.5V1489.4M308.4 1435.5H500.2"/>
<path stroke-width="1.25" d="M308.4 1489.4v5.04M308.4 1489.4h-5.08M322.83 1489.4v3.08M308.4 1478.8h-3.1M331.28 1489.4v3.08M308.4 1472.59h-3.1M337.27 1489.4v3.08M308.4 1468.19h-3.1M341.92 1489.4v3.08M308.4 1464.78h-3.1M345.71 1489.4v3.08M308.4 1461.99h-3.1M348.92 1489.4v3.08M308.4 1459.63h-3.1M351.7 1489.4v3.08M308.4 1457.59h-3.1M354.16 1489.4v3.08M308.4 1455.79h-3.1M356.35 1489.4v5.04M308.4 1454.18h-5.08M370.78 1489.4v3.08M308.4 1443.57h-3.1M379.23 1489.4v3.08M308.4 1437.37h-3.1M385.22 1489.4v3.08M308.4 1432.97h-3.1M389.87 1489.4v3.08M308.4 1429.55h-3.1M393.66 1489.4v3.08M308.4 1426.76h-3.1M396.87 1489.4v3.08M308.4 1424.41h-3.1M399.65 1489.4v3.08M308.4 1422.36h-3.1M402.11 1489.4v3.08M308.4 1420.56h-3.1M404.3 1489.4v5.04M308.4 1418.95h-5.08M418.73 1489.4v3.08M308.4 1408.35h-3.1M427.18 1489.4v3.08M308.4 1402.14h-3.1M433.17 1489.4v3.08M308.4 1397.74h-3.1M437.82 1489.4v3.08M308.4 1394.33h-3.1M441.61 1489.4v3.08M308.4 1391.54h-3.1M444.82 1489.4v3.08M308.4 1389.18h-3.1M447.6 1489.4v3.08M308.4 1387.14h-3.1M450.06 1489.4v3.08M308.4 1385.34h-3.1M452.25 1489.4v5.04M308.4 1383.72h-5.08M466.68 1489.4v3.08M308.4 1373.12h-3.1M475.13 1489.4v3.08M308.4 1366.92h-3.1M481.12 1489.4v3.08M308.4 1362.52h-3.1M485.77 1489.4v3.08M308.4 1359.1h-3.1M489.56 1489.4v3.08M308.4 1356.31h-3.1M492.77 1489.4v3.08M308.4 1353.96h-3.1M495.55 1489.4v3.08M308.4 1351.91h-3.1M498.01 1489.4v3.08M308.4 1350.11h-3.1M500.2 1489.4v5.04M308.4 1348.5h-5.08"/>
</g>
<g font-weight="normal" fill="#1c1c1c">
<text transform="translate(384.89,1344.77) scale(1.028,1)" font-size="9.89">007</text>
<text transform="translate(389.35,1516.65) scale(1.018,1)" font-size="9.89">FL1-H</text>
<text transform="translate(300.61,1506.76) scale(0.982,1)" font-size="9.89">10</text>
<text transform="translate(311.13,1501.34) scale(1.084,1)" font-size="8.7">0</text>
<text transform="translate(302.76,1496.67) rotate(-90) scale(0.892,1)" font-size="10.91">10</text>
<text transform="translate(295.9,1486.22) rotate(-90) scale(0.975,1)" font-size="9.6">0</text>
<text transform="translate(348.56,1506.76) scale(0.982,1)" font-size="9.89">10</text>
<text transform="translate(358.74,1501.34) scale(1.084,1)" font-size="8.7">1</text>
<text transform="translate(302.76,1462.85) rotate(-90) scale(0.892,1)" font-size="10.91">10</text>
<text transform="translate(295.9,1452.74) rotate(-90) scale(0.975,1)" font-size="9.6">1</text>
<text transform="translate(399.33,1506.76) scale(0.982,1)" font-size="9.89">10</text>
<text transform="translate(409.75,1501.34) scale(1.084,1)" font-size="8.7">2</text>
<text transform="translate(302.76,1427.62) rotate(-90) scale(0.892,1)" font-size="10.91">10</text>
<text transform="translate(295.9,1417.27) rotate(-90) scale(0.975,1)" font-size="9.6">2</text>
<text transform="translate(444.46,1506.76) scale(0.982,1)" font-size="9.89">10</text>
<text transform="translate(454.99,1501.34) scale(1.084,1)" font-size="8.7">3</text>
<text transform="translate(302.76,1392.4) rotate(-90) scale(0.892,1)" font-size="10.91">10</text>
<text transform="translate(295.9,1381.93) rotate(-90) scale(0.975,1)" font-size="9.6">3</text>
<text transform="translate(490.62,1506.76) scale(0.982,1)" font-size="9.89">10</text>
<text transform="translate(501.3,1501.34) scale(1.084,1)" font-size="8.7">4</text>
<text transform="translate(302.76,1357.17) rotate(-90) scale(0.892,1)" font-size="10.91">10</text>
<text transform="translate(295.9,1346.56) rotate(-90) scale(0.975,1)" font-size="9.6">4</text>
<text transform="translate(287.25,1433.55) rotate(-90) scale(0.870,1)" font-size="10.91">FL2-H</text>
</g>
<path transform="translate(1106.5,1844.95) scale(1.3)" stroke="#0b0b0b" stroke-width="1" fill="none" d="M81 33h1m15 0h1M95 34h1m2 0h1m6 0h1m2 0h1M52 35h1m6 0h3m14 0h1m6 0h1m2 0h1m16 0h1m6 0h1m8 0h1M79 36h1m6 0h1m12 0h2m1 0h1m4 0h1m1 0h1m1 0h1M63 37h1m9 0h2m1 0h1m2 0h1m6 0h3m2 0h1m10 0h2m4 0h1m1 0h2m1 0h2m2 0h1M34 38h1m24 0h1m1 0h1m9 0h1m3 0h1m4 0h1m5 0h1m2 0h1m2 0h1m1 0h3m2 0h2m2 0h3m1 0h2m1 0h3M63 39h1m5 0h1m1 0h1m1 0h1m8 0h1m6 0h1m2 0h1m1 0h2m1 0h1m2 0h12m4 0h1M61 40h1m11 0h3m3 0h4m3 0h2m3 0h1m1 0h2m1 0h2m1 0h7m1 0h1M59 41h1m8 0h1m1 0h1m5 0h1m2 0h1m9 0h1m1 0h1m2 0h1m2 0h1m1 0h2m2 0h3m1 0h2m3 0h1M63 42h2m8 0h1m3 0h1m3 0h2m1 0h1m3 0h2m2 0h2m1 0h2m2 0h1m1 0h3m1 0h1m1 0h2m6 0h1m2 0h1M40 43h1m16 0h1m4 0h2m7 0h2m4 0h2m8 0h3m3 0h2m1 0h1m1 0h3m2 0h2m2 0h2M31 44h1m20 0h1m4 0h1m2 0h2m2 0h1m2 0h2m1 0h1m2 0h1m3 0h1m1 0h1m3 0h1m3 0h2m1 0h1m4 0h1m2 0h2m5 0h1m1 0h1m5 0h1M74 45h1m4 0h3m3 0h1m1 0h1m3 0h1m2 0h2m11 0h1m1 0h1M27 46h1m31 0h1m8 0h2m3 0h1m1 0h1m1 0h1m2 0h2m4 0h1m6 0h1m4 0h1m7 0h1M65 47h2m5 0h1m7 0h1m1 0h1m6 0h1m7 0h1m10 0h1M57 48h1m13 0h1m2 0h1m1 0h1m8 0h2m13 0h2m11 0h1m1 0h1M41 49h1m15 0h1m7 0h1m1 0h1m9 0h1m2 0h1m1 0h1m4 0h1m5 0h1m1 0h1M27 50h1m37 0h1m1 0h1m7 0h1m1 0h1m1 0h1m13 0h1m3 0h1m15 0h1M65 51h1M61 52h1m14 0h1m8 0h1m2 0h1m1 0h2m6 0h1m7 0h1M41 53h1m30 0h1m1 0h1m2 0h3m17 0h1M52 54h1m24 0h1m8 0h3m10 0h1M62 55h2m2 0h1m4 0h1m4 0h1m5 0h1M55 56h1m19 0h2m1 0h1m6 0h1m2 0h1m7 0h1m4 0h1m7 0h1M56 57h1m4 0h1m10 0h1m8 0h1m9 0h1m1 0h1M54 58h1m30 0h1m1 0h1m4 0h1M56 59h1m10 0h1m6 0h1m4 0h1m12 0h2m1 0h1M34 60h1m30 0h1m3 0h1m7 0h1m3 0h2m9 0h1m2 0h1M75 61h1m1 0h2m3 0h1M75 62h1m13 0h1M104 63h1M66 64h1m9 0h1M53 65h1m7 0h1m16 0h2M55 66h1m3 0h1m6 0h1m1 0h1m4 0h3m3 0h1m3 0h1m5 0h1m3 0h1m5 0h1m2 0h1m1 0h1M25 67h1m29 0h1m6 0h1m6 0h1m1 0h1m5 0h2m20 0h1M61 68h1m1 0h1m5 0h1m2 0h1m1 0h1m1 0h1m2 0h1m1 0h1m5 0h1M50 69h1m2 0h1m1 0h2m3 0h1m3 0h2m1 0h1m1 0h1m9 0h1m10 0h1m9 0h1M40 70h1m1 0h1m10 0h1m2 0h1m1 0h3m2 0h1m3 0h5m1 0h2m2 0h4m2 0h1m11 0h1m18 0h1M39 71h1m11 0h1m1 0h1m3 0h1m2 0h1m1 0h1m1 0h4m1 0h1m1 0h1m3 0h1m4 0h2m1 0h1m1 0h1M41 72h1m6 0h1m3 0h3m1 0h2m2 0h2m1 0h5m1 0h2m1 0h4m1 0h1m1 0h2m2 0h1m1 0h2m2 0h1m10 0h1M47 73h1m3 0h1m1 0h3m2 0h2m2 0h7m1 0h1m1 0h7m7 0h1m8 0h1M45 74h1m1 0h1m1 0h7m1 0h16m1 0h7m3 0h2m1 0h2m3 0h1M37 75h2m5 0h3m2 0h22m1 0h8m5 0h1m4 0h2M26 76h2m8 0h1m3 0h1m1 0h2m1 0h1m2 0h7m1 0h13m1 0h11m4 0h2m2 0h2M34 77h1m1 0h1m3 0h2m3 0h3m1 0h5m1 0h11m1 0h11m1 0h1m1 0h1m1 0h4m14 0h1M28 78h1m2 0h1m1 0h1m1 0h1m2 0h9m1 0h31m1 0h1m1 0h1m3 0h2m3 0h1M21 79h1m13 0h5m1 0h39m2 0h1m1 0h2m1 0h1M19 80h2m10 0h1m1 0h1m1 0h43m3 0h2m1 0h1m1 0h1M14 81h1m7 0h1m5 0h1m3 0h1m1 0h46m1 0h2m1 0h1m5 0h1M25 82h1m1 0h2m1 0h1m1 0h4m1 0h38m1 0h3m1 0h1m1 0h1M23 83h2m2 0h4m1 0h1m1 0h46m5 0h1M21 84h2m2 0h2m1 0h50m1 0h1m2 0h1M13 85h1m4 0h1m2 0h2m1 0h1m2 0h45m1 0h4M15 86h1m7 0h3m1 0h45m1 0h3m1 0h1m3 0h1M16 87h1m1 0h1m4 0h2m1 0h43m1 0h2m1 0h4m1 0h1m2 0h1m15 0h1M9 88h1m8 0h1m1 0h2m2 0h51m1 0h1M14 89h1m1 0h1m2 0h46m1 0h3m1 0h2m1 0h1m1 0h2m2 0h1M12 90h1m3 0h2m2 0h2m1 0h4m1 0h33m2 0h3m1 0h3m1 0h2m4 0h1m6 0h1M17 91h46m1 0h2m1 0h1M5 92h1m6 0h1m2 0h1m1 0h1m2 0h37m1 0h2m2 0h3m1 0h1m3 0h3m9 0h1M10 93h1m1 0h1m3 0h1m1 0h34m2 0h2m1 0h5m2 0h1m1 0h1M9 94h2m3 0h2m1 0h4m1 0h35m2 0h2m1 0h1m31 0h1M6 95h1m3 0h3m1 0h3m1 0h3m1 0h25m1 0h6m2 0h1m1 0h1m1 0h1m3 0h1m6 0h1M13 96h1m1 0h1m1 0h21m1 0h10m1 0h5m4 0h1m5 0h1M5 97h1m2 0h1m4 0h1m2 0h1m2 0h12m1 0h18m1 0h2m1 0h2m7 0h1M11 98h1m1 0h2m1 0h3m2 0h17m1 0h1m1 0h1m1 0h2m2 0h1m1 0h3m1 0h1m9 0h1M8 99h1m5 0h2m1 0h4m2 0h11m2 0h8m2 0h5m1 0h1m4 0h1m1 0h1m12 0h1"/>
<g stroke="#080808" stroke-width="1.5" fill="none">
<rect x="1105.7" y="1842.8" width="179.4" height="132"/>
<path stroke-width="1.7" d="M1209.9 1842.8V1974.8M1105.7 1935.9H1285.1"/>
<path stroke-width="1.25" d="M1105.7 1974.8v4.72M1105.7 1974.8h-4.75M1119.2 1974.8v2.88M1105.7 1964.87h-2.9M1127.1 1974.8v2.88M1105.7 1959.05h-2.9M1132.7 1974.8v2.88M1105.7 1954.93h-2.9M1137.05 1974.8v2.88M1105.7 1951.73h-2.9M1140.6 1974.8v2.88M1105.7 1949.12h-2.9M1143.6 1974.8v2.88M1105.7 1946.91h-2.9M1146.2 1974.8v2.88M1105.7 1945h-2.9M1148.5 1974.8v2.88M1105.7 1943.31h-2.9M1150.55 1974.8v4.72M1105.7 1941.8h-4.75M1164.05 1974.8v2.88M1105.7 1931.87h-2.9M1171.95 1974.8v2.88M1105.7 1926.05h-2.9M1177.55 1974.8v2.88M1105.7 1921.93h-2.9M1181.9 1974.8v2.88M1105.7 1918.73h-2.9M1185.45 1974.8v2.88M1105.7 1916.12h-2.9M1188.45 1974.8v2.88M1105.7 1913.91h-2.9M1191.05 1974.8v2.88M1105.7 1912h-2.9M1193.35 1974.8v2.88M1105.7 1910.31h-2.9M1195.4 1974.8v4.72M1105.7 1908.8h-4.75M1208.9 1974.8v2.88M1105.7 1898.87h-2.9M1216.8 1974.8v2.88M1105.7 1893.05h-2.9M1222.4 1974.8v2.88M1105.7 1888.93h-2.9M1226.75 1974.8v2.88M1105.7 1885.73h-2.9M1230.3 1974.8v2.88M1105.7 1883.12h-2.9M1233.3 1974.8v2.88M1105.7 1880.91h-2.9M1235.9 1974.8v2.88M1105.7 1879h-2.9M1238.2 1974.8v2.88M1105.7 1877.31h-2.9M1240.25 1974.8v4.72M1105.7 1875.8h-4.75M1253.75 1974.8v2.88M1105.7 1865.87h-2.9M1261.65 1974.8v2.88M1105.7 1860.05h-2.9M1267.25 1974.8v2.88M1105.7 1855.93h-2.9M1271.6 1974.8v2.88M1105.7 1852.73h-2.9M1275.15 1974.8v2.88M1105.7 1850.12h-2.9M1278.15 1974.8v2.88M1105.7 1847.91h-2.9M1280.75 1974.8v2.88M1105.7 1846h-2.9M1283.05 1974.8v2.88M1105.7 1844.31h-2.9M1285.1 1974.8v4.72M1105.7 1842.8h-4.75"/>
</g>
<g font-weight="normal" fill="#1c1c1c">
<text transform="translate(1177.24,1839.3) scale(0.964,1)" font-size="9.86">004</text>
<text transform="translate(1181.42,2000.33) scale(0.955,1)" font-size="9.86">FL1-H</text>
<text transform="translate(1098.41,1991.06) scale(0.921,1)" font-size="9.86">10</text>
<text transform="translate(1108.26,1985.99) scale(1.017,1)" font-size="8.68">0</text>
<text transform="translate(1100.42,1977.34) rotate(-90) scale(1.002,1)" font-size="10.2">10</text>
<text transform="translate(1094,1966.36) rotate(-90) scale(1.095,1)" font-size="8.98">0</text>
<text transform="translate(1143.26,1991.06) scale(0.921,1)" font-size="9.86">10</text>
<text transform="translate(1152.78,1985.99) scale(1.017,1)" font-size="8.68">1</text>
<text transform="translate(1100.42,1952.77) rotate(-90) scale(1.002,1)" font-size="10.2">10</text>
<text transform="translate(1094,1942.16) rotate(-90) scale(1.095,1)" font-size="8.98">1</text>
<text transform="translate(1187.94,1991.06) scale(0.921,1)" font-size="9.86">10</text>
<text transform="translate(1197.69,1985.99) scale(1.017,1)" font-size="8.68">2</text>
<text transform="translate(1100.42,1919.77) rotate(-90) scale(1.002,1)" font-size="10.2">10</text>
<text transform="translate(1094,1908.9) rotate(-90) scale(1.095,1)" font-size="8.98">2</text>
<text transform="translate(1232.96,1991.06) scale(0.921,1)" font-size="9.86">10</text>
<text transform="translate(1242.82,1985.99) scale(1.017,1)" font-size="8.68">3</text>
<text transform="translate(1100.42,1886.77) rotate(-90) scale(1.002,1)" font-size="10.2">10</text>
<text transform="translate(1094,1875.78) rotate(-90) scale(1.095,1)" font-size="8.98">3</text>
<text transform="translate(1276.14,1991.06) scale(0.921,1)" font-size="9.86">10</text>
<text transform="translate(1286.13,1985.99) scale(1.017,1)" font-size="8.68">4</text>
<text transform="translate(1100.42,1853.77) rotate(-90) scale(1.002,1)" font-size="10.2">10</text>
<text transform="translate(1094,1842.63) rotate(-90) scale(1.095,1)" font-size="8.98">4</text>
<text transform="translate(1085.91,1923.97) rotate(-90) scale(0.977,1)" font-size="10.2">FL2-H</text>
</g>
<path transform="translate(1332.2,1840.45) scale(1.3)" stroke="#0b0b0b" stroke-width="1" fill="none" d="M88 35h1M95 36h1M82 37h1m9 0h1m2 0h1m9 0h1m3 0h1m7 0h1M59 38h1m9 0h1m11 0h1m1 0h1m1 0h1m12 0h1m7 0h2m3 0h1m1 0h1m1 0h3M72 39h1m10 0h1m5 0h1m1 0h1m2 0h1m1 0h1m1 0h1m2 0h1m4 0h1m2 0h1m3 0h1m1 0h1M67 40h1m2 0h1m10 0h1m2 0h1m9 0h2m3 0h1m1 0h1m2 0h1m1 0h1m2 0h7m6 0h1m7 0h1M45 41h1m24 0h1m3 0h3m2 0h1m1 0h1m1 0h1m5 0h1m7 0h1m5 0h3m2 0h1m3 0h3m3 0h2m2 0h1M60 42h1m18 0h1m1 0h1m7 0h1m1 0h1m2 0h1m4 0h1m1 0h3m3 0h3m1 0h1m4 0h1M67 43h1m1 0h1m4 0h1m6 0h1m1 0h1m1 0h1m2 0h4m5 0h1m2 0h1m2 0h5m4 0h1m2 0h2m3 0h1M57 44h2m6 0h1m3 0h1m5 0h1m1 0h3m3 0h1m2 0h1m2 0h1m3 0h1m3 0h1m5 0h3m2 0h2m1 0h2M64 45h1m3 0h1m9 0h1m3 0h1m1 0h1m1 0h2m3 0h1m4 0h1m4 0h2m8 0h3M53 46h1m12 0h1m1 0h1m6 0h1m1 0h1m4 0h2m2 0h2m6 0h2m5 0h3m2 0h1m1 0h1m3 0h1m1 0h1M59 47h1m5 0h1m1 0h1m6 0h1m1 0h1m2 0h1m2 0h1m3 0h1m2 0h1m2 0h1m5 0h1m1 0h1m6 0h1m8 0h1M66 48h1m4 0h2m2 0h1m2 0h1m2 0h1m2 0h1m3 0h3m2 0h1m5 0h2m5 0h1m2 0h1M65 49h1m6 0h1m1 0h1m5 0h1m2 0h1m3 0h1m6 0h1m4 0h1M62 50h1m13 0h1m6 0h1m2 0h1m3 0h2m2 0h1M54 51h1m16 0h1m4 0h1m12 0h1m6 0h3m14 0h1M70 52h1m4 0h1m4 0h1m10 0h2m2 0h2m4 0h1m4 0h1m4 0h1M65 53h1m3 0h1m10 0h1m7 0h1m4 0h1m3 0h3m4 0h1M14 54h1m53 0h2m1 0h1m6 0h1m2 0h2m11 0h1m1 0h1m1 0h1m5 0h1m3 0h1M77 55h1m2 0h2m11 0h1m1 0h1M59 56h1m18 0h2m4 0h1m2 0h1m3 0h1M64 57h1m9 0h1m17 0h1m4 0h1m3 0h1M84 58h1m1 0h2m6 0h1m15 0h1M83 59h1m2 0h1m4 0h1m6 0h2m8 0h1M51 60h1m25 0h1m9 0h2m2 0h1m5 0h1m6 0h1M91 61h1m6 0h1m13 0h1M63 62h1m14 0h1m5 0h1m19 0h1m9 0h1m4 0h1M67 63h2m13 0h1m5 0h2m3 0h2m13 0h1M69 64h1m11 0h1m1 0h1m6 0h1m7 0h1m4 0h1M73 65h1m19 0h2M70 66h1m1 0h1m6 0h1m7 0h1m14 0h1m3 0h1M51 67h1m14 0h2m1 0h1m8 0h1m4 0h1m4 0h1M75 68h1m1 0h1m1 0h1m6 0h1m6 0h1m6 0h2M71 69h1m4 0h1m6 0h1m2 0h1M64 70h1m9 0h1m4 0h1m5 0h1m2 0h1M29 71h1m34 0h1m5 0h1m1 0h2m1 0h1m1 0h1m6 0h1m3 0h2m5 0h1m1 0h1m12 0h1M60 72h1m4 0h1m7 0h1m3 0h1m4 0h1m3 0h1m1 0h1m18 0h1m9 0h1M14 73h1m21 0h1m3 0h1m18 0h1m3 0h1m2 0h2m7 0h2m1 0h2m1 0h1m1 0h1m1 0h4m2 0h1m1 0h1m2 0h2m5 0h1M52 74h1m5 0h1m3 0h2m1 0h1m5 0h2m1 0h3m2 0h2m9 0h1m1 0h1m7 0h1M49 75h1m2 0h1m2 0h1m1 0h6m1 0h1m1 0h1m1 0h2m1 0h1m1 0h6m1 0h5m3 0h1m10 0h1m3 0h1M43 76h1m7 0h1m1 0h3m2 0h1m1 0h3m1 0h4m1 0h6m1 0h9m1 0h1m1 0h1m1 0h1m2 0h1m1 0h1m17 0h1M39 77h3m2 0h1m9 0h1m1 0h1m3 0h11m1 0h14m3 0h1m3 0h1m13 0h1m11 0h1M43 78h1m1 0h3m1 0h8m1 0h3m1 0h11m1 0h9m1 0h3m2 0h1m16 0h1M17 79h1m15 0h1m3 0h1m4 0h2m2 0h1m1 0h5m1 0h34m1 0h1m4 0h1m2 0h1m7 0h1M39 80h3m2 0h42m2 0h1m2 0h2m1 0h2m13 0h1M24 81h2m3 0h2m5 0h2m2 0h43m1 0h2m2 0h1m4 0h1m1 0h1m6 0h1M17 82h1m11 0h1m2 0h1m3 0h1m2 0h1m3 0h2m1 0h43m1 0h1m1 0h1M27 83h2m5 0h1m1 0h1m1 0h1m1 0h1m1 0h1m1 0h44m2 0h3m3 0h1M25 84h1m2 0h2m1 0h1m1 0h2m1 0h49m1 0h1m2 0h2m3 0h1m6 0h1M32 85h1m1 0h49m3 0h2m2 0h1m1 0h1M23 86h1m4 0h2m1 0h2m1 0h50m1 0h2m1 0h1m3 0h1M23 87h1m3 0h1m1 0h1m1 0h1m1 0h49m1 0h1m5 0h1m1 0h1m4 0h2M23 88h1m1 0h56m1 0h3m4 0h1m10 0h1M23 89h7m2 0h48m2 0h3m8 0h1m3 0h1M20 90h1m1 0h4m1 0h2m1 0h52m2 0h1m1 0h1M8 91h1m1 0h1m10 0h58m1 0h2m1 0h1m11 0h1M18 92h1m1 0h2m2 0h52m1 0h2m5 0h1M15 93h1m4 0h54m1 0h4m6 0h1m1 0h1M12 94h1m3 0h2m1 0h1m1 0h49m1 0h2m1 0h1m1 0h2m5 0h1m9 0h1M13 95h1m4 0h54m2 0h1m3 0h1m1 0h1M12 96h3m3 0h54m3 0h2M20 97h6m1 0h37m1 0h2m2 0h1M15 98h1m2 0h1m1 0h8m1 0h38m1 0h2m4 0h1M11 99h1m5 0h1m2 0h1m1 0h39m1 0h3m10 0h1M13 100h2m2 0h2m1 0h2m1 0h33m1 0h3m5 0h2m1 0h2m3 0h1M13 101h2m2 0h9m1 0h27m1 0h4m1 0h1m9 0h1m1 0h1M14 102h1m1 0h3m1 0h2m1 0h8m1 0h3m1 0h18m1 0h3m2 0h1m1 0h1m3 0h1m7 0h1M2 103h1m10 0h2m3 0h6m1 0h16m1 0h3m1 0h2m1 0h3m1 0h1m1 0h1m2 0h1m2 0h1m5 0h1M5 104h1m5 0h2m2 0h1m2 0h2m1 0h2m1 0h3m1 0h6m1 0h4m1 0h1m1 0h1m1 0h1m3 0h1m1 0h1m3 0h1m2 0h1"/>
<g stroke="#080808" stroke-width="1.5" fill="none">
<rect x="1330.9" y="1838.9" width="186.4" height="137.9"/>
<path stroke-width="1.7" d="M1439.4 1838.9V1976.8M1330.9 1936.9H1517.3"/>
<path stroke-width="1.25" d="M1330.9 1976.8v4.93M1330.9 1976.8h-4.93M1344.93 1976.8v3.01M1330.9 1966.42h-3.02M1353.13 1976.8v3.01M1330.9 1960.35h-3.02M1358.96 1976.8v3.01M1330.9 1956.04h-3.02M1363.47 1976.8v3.01M1330.9 1952.7h-3.02M1367.16 1976.8v3.01M1330.9 1949.97h-3.02M1370.28 1976.8v3.01M1330.9 1947.67h-3.02M1372.98 1976.8v3.01M1330.9 1945.67h-3.02M1375.37 1976.8v3.01M1330.9 1943.9h-3.02M1377.5 1976.8v4.93M1330.9 1942.33h-4.93M1391.53 1976.8v3.01M1330.9 1931.95h-3.02M1399.73 1976.8v3.01M1330.9 1925.88h-3.02M1405.56 1976.8v3.01M1330.9 1921.57h-3.02M1410.07 1976.8v3.01M1330.9 1918.23h-3.02M1413.76 1976.8v3.01M1330.9 1915.5h-3.02M1416.88 1976.8v3.01M1330.9 1913.19h-3.02M1419.58 1976.8v3.01M1330.9 1911.19h-3.02M1421.97 1976.8v3.01M1330.9 1909.43h-3.02M1424.1 1976.8v4.93M1330.9 1907.85h-4.93M1438.13 1976.8v3.01M1330.9 1897.47h-3.02M1446.33 1976.8v3.01M1330.9 1891.4h-3.02M1452.16 1976.8v3.01M1330.9 1887.09h-3.02M1456.67 1976.8v3.01M1330.9 1883.75h-3.02M1460.36 1976.8v3.01M1330.9 1881.02h-3.02M1463.48 1976.8v3.01M1330.9 1878.72h-3.02M1466.18 1976.8v3.01M1330.9 1876.72h-3.02M1468.57 1976.8v3.01M1330.9 1874.95h-3.02M1470.7 1976.8v4.93M1330.9 1873.38h-4.93M1484.73 1976.8v3.01M1330.9 1863h-3.02M1492.93 1976.8v3.01M1330.9 1856.93h-3.02M1498.76 1976.8v3.01M1330.9 1852.62h-3.02M1503.27 1976.8v3.01M1330.9 1849.28h-3.02M1506.96 1976.8v3.01M1330.9 1846.55h-3.02M1510.08 1976.8v3.01M1330.9 1844.24h-3.02M1512.78 1976.8v3.01M1330.9 1842.24h-3.02M1515.17 1976.8v3.01M1330.9 1840.48h-3.02M1517.3 1976.8v4.93M1330.9 1838.9h-4.93"/>
</g>
<g font-weight="normal" fill="#1c1c1c">
<text transform="translate(1405.23,1835.25) scale(1.002,1)" font-size="9.86">006</text>
<text transform="translate(1409.57,2003.47) scale(0.992,1)" font-size="9.86">FL1-H</text>
<text transform="translate(1323.33,1993.79) scale(0.957,1)" font-size="9.86">10</text>
<text transform="translate(1333.56,1988.49) scale(1.057,1)" font-size="8.68">0</text>
<text transform="translate(1325.42,1979.34) rotate(-90) scale(0.964,1)" font-size="10.6">10</text>
<text transform="translate(1318.75,1968.36) rotate(-90) scale(1.054,1)" font-size="9.33">0</text>
<text transform="translate(1369.93,1993.79) scale(0.957,1)" font-size="9.86">10</text>
<text transform="translate(1379.82,1988.49) scale(1.057,1)" font-size="8.68">1</text>
<text transform="translate(1325.42,1953.29) rotate(-90) scale(0.964,1)" font-size="10.6">10</text>
<text transform="translate(1318.75,1942.68) rotate(-90) scale(1.054,1)" font-size="9.33">1</text>
<text transform="translate(1416.35,1993.79) scale(0.957,1)" font-size="9.86">10</text>
<text transform="translate(1426.47,1988.49) scale(1.057,1)" font-size="8.68">2</text>
<text transform="translate(1325.42,1918.82) rotate(-90) scale(0.964,1)" font-size="10.6">10</text>
<text transform="translate(1318.75,1907.95) rotate(-90) scale(1.054,1)" font-size="9.33">2</text>
<text transform="translate(1463.13,1993.79) scale(0.957,1)" font-size="9.86">10</text>
<text transform="translate(1473.37,1988.49) scale(1.057,1)" font-size="8.68">3</text>
<text transform="translate(1325.42,1884.34) rotate(-90) scale(0.964,1)" font-size="10.6">10</text>
<text transform="translate(1318.75,1873.36) rotate(-90) scale(1.054,1)" font-size="9.33">3</text>
<text transform="translate(1507.99,1993.79) scale(0.957,1)" font-size="9.86">10</text>
<text transform="translate(1518.37,1988.49) scale(1.057,1)" font-size="8.68">4</text>
<text transform="translate(1325.42,1849.87) rotate(-90) scale(0.964,1)" font-size="10.6">10</text>
<text transform="translate(1318.75,1838.73) rotate(-90) scale(1.054,1)" font-size="9.33">4</text>
<text transform="translate(1310.34,1923.08) rotate(-90) scale(0.941,1)" font-size="10.6">FL2-H</text>
</g>
<path transform="translate(1568,1848.25) scale(1.3)" stroke="#0b0b0b" stroke-width="1" fill="none" d="M72 29h1M71 30h1M79 31h1M87 32h1M57 33h1m4 0h1m9 0h1m3 0h2m2 0h1m8 0h1m6 0h1m9 0h1M64 34h1m6 0h1m10 0h1m1 0h1m3 0h2m32 0h1M60 35h1m2 0h1m8 0h2m5 0h2m3 0h6m2 0h2m2 0h2m16 0h1M68 36h1m3 0h1m2 0h1m1 0h4m1 0h1m1 0h1m1 0h3m1 0h3m4 0h1m4 0h1m1 0h1M70 37h1m1 0h1m3 0h4m1 0h1m1 0h1m3 0h6m1 0h2m2 0h1m3 0h1M44 38h1m11 0h1m10 0h1m3 0h1m1 0h1m2 0h1m1 0h1m1 0h3m1 0h3m1 0h3m4 0h3m2 0h2m2 0h1m2 0h2M58 39h2m2 0h3m2 0h3m1 0h3m1 0h5m1 0h2m1 0h3m1 0h1m1 0h2m2 0h1m1 0h1m2 0h1m6 0h1M51 40h1m6 0h1m2 0h2m2 0h2m2 0h1m2 0h5m1 0h1m5 0h7m1 0h1m4 0h1m4 0h3m1 0h2M34 41h1m25 0h3m1 0h3m6 0h2m4 0h2m1 0h2m1 0h1m1 0h10m1 0h4m6 0h2m4 0h1M32 42h1m14 0h1m10 0h4m1 0h1m1 0h1m1 0h2m1 0h1m2 0h1m1 0h3m1 0h2m1 0h10m2 0h1m5 0h2m1 0h4m1 0h1M26 43h1m5 0h2m6 0h1m15 0h2m4 0h1m3 0h1m1 0h6m1 0h1m1 0h2m1 0h9m3 0h2m1 0h1m1 0h1m3 0h1m2 0h1m2 0h1M7 44h1m13 0h1m5 0h1m1 0h1m4 0h2m16 0h2m1 0h2m1 0h2m1 0h1m6 0h3m2 0h3m1 0h6m2 0h8m2 0h3m1 0h2m1 0h4M14 45h1m4 0h1m9 0h1m18 0h1m9 0h1m4 0h1m3 0h1m1 0h8m1 0h2m1 0h12m1 0h4m1 0h3m2 0h2m4 0h1m8 0h1M51 46h1m1 0h2m1 0h1m1 0h1m2 0h5m1 0h5m2 0h8m1 0h9m1 0h2m1 0h5m1 0h1m1 0h1m1 0h1m4 0h2m1 0h1M13 47h1m29 0h1m10 0h1m1 0h1m3 0h2m2 0h2m1 0h3m1 0h3m1 0h23m1 0h1m2 0h1m3 0h1m3 0h1m1 0h1m1 0h1M13 48h1m12 0h1m7 0h1m8 0h1m1 0h1m7 0h1m3 0h1m1 0h1m1 0h2m1 0h18m1 0h13m1 0h1m1 0h1m1 0h1m2 0h2m1 0h4m1 0h1m8 0h1M36 49h1m1 0h1m6 0h1m8 0h1m1 0h1m1 0h1m1 0h2m1 0h9m1 0h6m1 0h2m1 0h11m1 0h1m1 0h2m1 0h1m1 0h7m10 0h1M38 50h1m7 0h2m1 0h1m1 0h1m2 0h4m2 0h24m1 0h5m1 0h3m1 0h6m1 0h1m1 0h3m4 0h1M31 51h1m2 0h1m4 0h2m2 0h1m5 0h1m4 0h1m1 0h2m2 0h1m1 0h2m1 0h5m1 0h3m1 0h9m1 0h6m2 0h2m1 0h1m3 0h2m2 0h2m2 0h1m2 0h2M28 52h2m9 0h2m13 0h3m2 0h1m1 0h1m1 0h5m1 0h6m1 0h19m1 0h2m1 0h3m1 0h2m4 0h1m5 0h1M16 53h1m13 0h1m11 0h1m4 0h1m1 0h1m9 0h1m1 0h3m2 0h2m1 0h4m2 0h3m1 0h13m1 0h4m4 0h2m5 0h1m4 0h1M3 54h1m14 0h1m8 0h1m15 0h1m10 0h1m2 0h1m1 0h4m2 0h2m1 0h1m1 0h5m1 0h23m1 0h6m1 0h1m1 0h3m1 0h1M34 55h1m5 0h1m2 0h1m1 0h1m2 0h3m6 0h1m1 0h2m2 0h4m1 0h7m1 0h3m1 0h10m1 0h2m1 0h3m1 0h1m2 0h5m11 0h1M23 56h1m25 0h1m5 0h1m1 0h6m2 0h6m1 0h13m2 0h8m1 0h1m2 0h5m2 0h1m10 0h2M43 57h1m2 0h2m3 0h1m1 0h1m2 0h6m2 0h2m1 0h1m2 0h5m1 0h2m1 0h8m1 0h4m1 0h5m1 0h1m1 0h2m1 0h1m2 0h1m5 0h1M30 58h1m24 0h3m1 0h3m1 0h1m2 0h1m1 0h2m2 0h1m2 0h14m1 0h1m1 0h1m1 0h1m1 0h2m1 0h1m1 0h1m2 0h2m4 0h1m2 0h1M45 59h1m3 0h2m1 0h1m1 0h1m6 0h3m1 0h3m1 0h2m1 0h1m1 0h3m1 0h3m1 0h11m2 0h10M51 60h2m1 0h1m2 0h2m3 0h5m1 0h3m3 0h14m1 0h6m3 0h3m3 0h1m2 0h1m3 0h1m1 0h1M39 61h1m13 0h1m7 0h5m2 0h3m1 0h4m1 0h1m1 0h9m1 0h2m1 0h5m1 0h3m1 0h4m2 0h1m3 0h1M59 62h1m1 0h1m3 0h1m2 0h1m2 0h1m2 0h1m1 0h2m1 0h1m1 0h5m1 0h3m1 0h2m1 0h3m1 0h2M43 63h1m2 0h1m4 0h1m5 0h3m1 0h2m2 0h2m1 0h2m1 0h1m2 0h3m1 0h2m2 0h9m1 0h2m1 0h2m4 0h2m2 0h2M51 64h1m3 0h3m3 0h3m1 0h1m2 0h4m2 0h1m1 0h4m2 0h10m2 0h3m2 0h1m2 0h2m4 0h1m3 0h1m3 0h1m2 0h1M53 65h1m9 0h6m1 0h6m1 0h2m1 0h4m1 0h3m1 0h2m1 0h1m3 0h6m1 0h2m3 0h2m2 0h1M35 66h1m12 0h1m6 0h3m1 0h1m2 0h1m1 0h1m2 0h11m1 0h3m1 0h2m1 0h3m1 0h2m1 0h2m1 0h4m1 0h2M46 67h1m9 0h4m3 0h1m1 0h6m2 0h18m1 0h4m1 0h5m4 0h2m5 0h1M26 68h1m11 0h1m9 0h1m5 0h1m1 0h1m5 0h1m3 0h13m1 0h1m1 0h5m1 0h7m3 0h1m2 0h2m2 0h2M41 69h1m3 0h1m5 0h1m1 0h1m1 0h4m1 0h2m1 0h2m1 0h3m1 0h3m2 0h14m2 0h1m2 0h3m1 0h3m1 0h1m2 0h1m8 0h1M52 70h1m2 0h2m1 0h3m1 0h21m1 0h12m2 0h2m2 0h2M42 71h1m3 0h2m2 0h1m2 0h3m2 0h10m1 0h20m1 0h4m1 0h4m1 0h1m4 0h1m8 0h1M33 72h1m6 0h1m2 0h2m2 0h1m1 0h1m3 0h17m1 0h11m1 0h6m1 0h1m2 0h3m1 0h3m1 0h1m3 0h1m4 0h2M32 73h1m14 0h1m1 0h45m3 0h2m4 0h3m2 0h1M35 74h1m6 0h4m1 0h1m1 0h1m2 0h5m1 0h40M29 75h1m8 0h1m3 0h4m2 0h41m2 0h6m3 0h2m9 0h1M36 76h1m1 0h2m1 0h1m3 0h2m1 0h47m1 0h1m2 0h1m1 0h2m1 0h1m16 0h1M27 77h1m1 0h1m1 0h1m1 0h1m3 0h1m2 0h1m1 0h1m3 0h44m1 0h2m1 0h2m1 0h1m1 0h1m1 0h2m4 0h1M38 78h1m1 0h1m1 0h49m1 0h4m5 0h1M25 79h1m3 0h4m4 0h54m1 0h3m4 0h1M18 80h1m2 0h2m3 0h1m2 0h1m5 0h1m1 0h49m1 0h6m1 0h1m2 0h1M26 81h1m7 0h2m1 0h56m1 0h2m4 0h2m5 0h1M18 82h1m6 0h1m2 0h2m1 0h2m1 0h4m1 0h48m1 0h1m2 0h3m5 0h1M20 83h1m5 0h3m2 0h53m1 0h6m2 0h2m1 0h1m9 0h1M25 84h1m2 0h1m2 0h3m1 0h51m1 0h3m1 0h1m6 0h1m1 0h2m5 0h1M27 85h1m2 0h50m1 0h9M21 86h1m5 0h5m2 0h50m2 0h1m1 0h1m1 0h1m3 0h1M22 87h2m1 0h1m2 0h6m1 0h45m1 0h3m2 0h1m2 0h1M23 88h54m1 0h7m2 0h1m2 0h1M23 89h1m3 0h47m1 0h2m1 0h1m2 0h2m3 0h1m1 0h1m3 0h1M20 90h1m3 0h3m1 0h1m1 0h43m2 0h2m1 0h2m1 0h2M27 91h17m1 0h27m1 0h1m2 0h1m12 0h2M19 92h1m2 0h1m1 0h1m2 0h5m2 0h25m1 0h9m3 0h1m2 0h1m2 0h1m4 0h1m1 0h2M6 93h1m15 0h8m1 0h1m1 0h6m2 0h19m1 0h13m10 0h1m9 0h1M6 94h1m16 0h1m1 0h1m1 0h1m1 0h34m1 0h3m2 0h2m8 0h1M11 95h1m9 0h5m6 0h24m1 0h4m5 0h1m1 0h1m20 0h1M0 96h1m21 0h1m3 0h1m1 0h4m1 0h6m1 0h4m1 0h4m1 0h7m1 0h4m4 0h1m2 0h2m5 0h1m6 0h1M14 97h1m4 0h1m2 0h1m2 0h1m3 0h2m1 0h1m1 0h3m2 0h1m1 0h2m2 0h9m1 0h1m1 0h2m2 0h2m1 0h1m13 0h1M22 98h1m4 0h1m1 0h4m3 0h6m4 0h1m1 0h1m1 0h5m9 0h2m1 0h1m2 0h1m10 0h2"/>
<g stroke="#080808" stroke-width="1.5" fill="none">
<rect x="1566.2" y="1846.4" width="180.4" height="130.4"/>
<path stroke-width="1.7" d="M1670.8 1846.4V1976.8M1566.2 1938.4H1746.6"/>
<path stroke-width="1.25" d="M1566.2 1976.8v4.66M1566.2 1976.8h-4.78M1579.78 1976.8v2.85M1566.2 1966.99h-2.92M1587.72 1976.8v2.85M1566.2 1961.25h-2.92M1593.35 1976.8v2.85M1566.2 1957.17h-2.92M1597.72 1976.8v2.85M1566.2 1954.01h-2.92M1601.29 1976.8v2.85M1566.2 1951.43h-2.92M1604.31 1976.8v2.85M1566.2 1949.25h-2.92M1606.93 1976.8v2.85M1566.2 1947.36h-2.92M1609.24 1976.8v2.85M1566.2 1945.69h-2.92M1611.3 1976.8v4.66M1566.2 1944.2h-4.78M1624.88 1976.8v2.85M1566.2 1934.39h-2.92M1632.82 1976.8v2.85M1566.2 1928.65h-2.92M1638.45 1976.8v2.85M1566.2 1924.57h-2.92M1642.82 1976.8v2.85M1566.2 1921.41h-2.92M1646.39 1976.8v2.85M1566.2 1918.83h-2.92M1649.41 1976.8v2.85M1566.2 1916.65h-2.92M1652.03 1976.8v2.85M1566.2 1914.76h-2.92M1654.34 1976.8v2.85M1566.2 1913.09h-2.92M1656.4 1976.8v4.66M1566.2 1911.6h-4.78M1669.98 1976.8v2.85M1566.2 1901.79h-2.92M1677.92 1976.8v2.85M1566.2 1896.05h-2.92M1683.55 1976.8v2.85M1566.2 1891.97h-2.92M1687.92 1976.8v2.85M1566.2 1888.81h-2.92M1691.49 1976.8v2.85M1566.2 1886.23h-2.92M1694.51 1976.8v2.85M1566.2 1884.05h-2.92M1697.13 1976.8v2.85M1566.2 1882.16h-2.92M1699.44 1976.8v2.85M1566.2 1880.49h-2.92M1701.5 1976.8v4.66M1566.2 1879h-4.78M1715.08 1976.8v2.85M1566.2 1869.19h-2.92M1723.02 1976.8v2.85M1566.2 1863.45h-2.92M1728.65 1976.8v2.85M1566.2 1859.37h-2.92M1733.02 1976.8v2.85M1566.2 1856.21h-2.92M1736.59 1976.8v2.85M1566.2 1853.63h-2.92M1739.61 1976.8v2.85M1566.2 1851.45h-2.92M1742.23 1976.8v2.85M1566.2 1849.56h-2.92M1744.54 1976.8v2.85M1566.2 1847.89h-2.92M1746.6 1976.8v4.66M1566.2 1846.4h-4.78"/>
</g>
<g font-weight="normal" fill="#1c1c1c">
<text transform="translate(1638.14,1842.95) scale(0.970,1)" font-size="9.86">005</text>
<text transform="translate(1642.34,2002.02) scale(0.961,1)" font-size="9.86">FL1-H</text>
<text transform="translate(1558.87,1992.86) scale(0.926,1)" font-size="9.86">10</text>
<text transform="translate(1568.77,1987.85) scale(1.023,1)" font-size="8.68">0</text>
<text transform="translate(1560.89,1979.34) rotate(-90) scale(0.996,1)" font-size="10.26">10</text>
<text transform="translate(1554.44,1968.36) rotate(-90) scale(1.089,1)" font-size="9.03">0</text>
<text transform="translate(1603.97,1992.86) scale(0.926,1)" font-size="9.86">10</text>
<text transform="translate(1613.54,1987.85) scale(1.023,1)" font-size="8.68">1</text>
<text transform="translate(1560.89,1955.17) rotate(-90) scale(0.996,1)" font-size="10.26">10</text>
<text transform="translate(1554.44,1944.56) rotate(-90) scale(1.089,1)" font-size="9.03">1</text>
<text transform="translate(1648.9,1992.86) scale(0.926,1)" font-size="9.86">10</text>
<text transform="translate(1658.7,1987.85) scale(1.023,1)" font-size="8.68">2</text>
<text transform="translate(1560.89,1922.57) rotate(-90) scale(0.996,1)" font-size="10.26">10</text>
<text transform="translate(1554.44,1911.7) rotate(-90) scale(1.089,1)" font-size="9.03">2</text>
<text transform="translate(1694.17,1992.86) scale(0.926,1)" font-size="9.86">10</text>
<text transform="translate(1704.08,1987.85) scale(1.023,1)" font-size="8.68">3</text>
<text transform="translate(1560.89,1889.97) rotate(-90) scale(0.996,1)" font-size="10.26">10</text>
<text transform="translate(1554.44,1878.98) rotate(-90) scale(1.089,1)" font-size="9.03">3</text>
<text transform="translate(1737.59,1992.86) scale(0.926,1)" font-size="9.86">10</text>
<text transform="translate(1747.64,1987.85) scale(1.023,1)" font-size="8.68">4</text>
<text transform="translate(1560.89,1857.37) rotate(-90) scale(0.996,1)" font-size="10.26">10</text>
<text transform="translate(1554.44,1846.23) rotate(-90) scale(1.089,1)" font-size="9.03">4</text>
<text transform="translate(1546.3,1926.76) rotate(-90) scale(0.972,1)" font-size="10.26">FL2-H</text>
</g>
<path transform="translate(1106.5,2023.05) scale(1.3)" stroke="#0b0b0b" stroke-width="1" fill="none" d="M65 29h1M94 30h1M76 33h1m8 0h1m33 0h1M72 34h1m16 0h1m11 0h1M20 35h1m7 0h1m20 0h1m35 0h1m11 0h1m12 0h1m4 0h1M38 36h1m32 0h1m4 0h2m4 0h2m1 0h1m3 0h1m6 0h1m8 0h1m4 0h1m9 0h1m6 0h1M40 37h1m5 0h1m6 0h1m20 0h1m6 0h1m1 0h2m2 0h1m1 0h1m3 0h2m1 0h2m1 0h2M69 38h1m2 0h1m3 0h1m4 0h1m1 0h1m11 0h1m4 0h1m4 0h1M35 39h1m9 0h1m4 0h1m6 0h1m2 0h1m2 0h1m5 0h2m4 0h2m1 0h1m1 0h1m1 0h1m2 0h1m1 0h5m2 0h2m1 0h1m1 0h1m1 0h2m5 0h1m3 0h1m3 0h1M26 40h1m11 0h1m16 0h1m6 0h1m1 0h2m1 0h1m4 0h2m3 0h2m1 0h1m2 0h2m2 0h1m2 0h1m7 0h1m2 0h2m1 0h1m3 0h2m4 0h1m16 0h1M56 41h1m3 0h1m2 0h2m1 0h1m1 0h1m3 0h1m3 0h12m3 0h4m1 0h2m5 0h3m2 0h1M34 42h1m2 0h1m8 0h1m4 0h1m1 0h1m10 0h3m4 0h1m1 0h1m1 0h2m2 0h1m1 0h1m1 0h10m1 0h3m9 0h1m1 0h1m4 0h1M39 43h1m9 0h1m5 0h1m2 0h1m4 0h1m5 0h14m1 0h10m2 0h8m1 0h1m5 0h1m6 0h2M27 44h1m14 0h1m7 0h2m6 0h2m4 0h5m1 0h23m1 0h2m1 0h1m3 0h3m2 0h3m2 0h1m7 0h1m1 0h1M19 45h1m15 0h1m1 0h1m2 0h1m2 0h1m6 0h1m7 0h3m1 0h2m2 0h8m1 0h1m1 0h16m1 0h1m1 0h6m1 0h2m15 0h1M18 46h1m6 0h1m5 0h1m3 0h2m3 0h1m15 0h1m1 0h1m2 0h1m2 0h3m1 0h27m1 0h1m3 0h1m1 0h1m2 0h1m1 0h2m4 0h2m2 0h1M25 47h1m5 0h1m13 0h2m5 0h1m5 0h5m2 0h2m1 0h20m1 0h7m1 0h1m1 0h3m2 0h1m1 0h1m4 0h1m3 0h1m6 0h1M29 48h1m2 0h1m5 0h1m5 0h1m4 0h1m2 0h1m1 0h4m2 0h1m1 0h1m3 0h1m4 0h28m1 0h2m1 0h3m6 0h1m1 0h1M15 49h1m17 0h1m1 0h1m16 0h5m1 0h3m1 0h5m1 0h1m1 0h30m1 0h3m1 0h4m13 0h1m1 0h1M23 50h1m2 0h1m1 0h1m4 0h1m2 0h2m12 0h1m2 0h1m1 0h3m1 0h3m1 0h6m1 0h29m1 0h5m3 0h5m2 0h1m2 0h1M13 51h1m17 0h1m1 0h3m9 0h1m3 0h8m1 0h4m1 0h1m1 0h29m1 0h1m1 0h3m1 0h4m1 0h1m2 0h2m1 0h3m4 0h1M28 52h1m6 0h1m3 0h1m2 0h1m2 0h2m1 0h1m1 0h8m1 0h1m1 0h1m1 0h1m1 0h3m1 0h1m1 0h2m1 0h16m1 0h5m1 0h7m1 0h9m1 0h3M21 53h1m17 0h1m5 0h1m2 0h4m3 0h1m3 0h2m1 0h3m1 0h30m1 0h2m1 0h1m1 0h3m4 0h1m1 0h1m2 0h1m2 0h1m1 0h2M34 54h1m5 0h1m3 0h1m1 0h4m1 0h2m1 0h3m1 0h4m1 0h44m2 0h1m9 0h1m2 0h1M13 55h1m20 0h1m1 0h1m2 0h1m5 0h1m2 0h2m1 0h4m1 0h3m1 0h1m1 0h6m1 0h6m1 0h17m1 0h4m1 0h6m1 0h2m1 0h5m2 0h1m5 0h1M35 56h1m6 0h1m3 0h1m1 0h3m1 0h1m1 0h13m2 0h19m1 0h8m1 0h1m3 0h4m2 0h2m1 0h1m1 0h2M40 57h6m2 0h3m1 0h24m1 0h20m4 0h2m3 0h1m2 0h1m3 0h3m4 0h1m1 0h1M33 58h2m2 0h2m1 0h1m3 0h1m1 0h5m1 0h1m2 0h4m1 0h1m1 0h2m1 0h9m1 0h10m1 0h1m1 0h11m1 0h1m1 0h5m1 0h1m1 0h1m1 0h3m1 0h1M31 59h1m1 0h2m2 0h1m1 0h2m1 0h1m1 0h1m1 0h2m1 0h6m1 0h1m1 0h2m1 0h7m1 0h2m1 0h2m1 0h9m1 0h6m2 0h5m1 0h2m1 0h3m1 0h4m7 0h1M32 60h2m3 0h1m4 0h4m1 0h5m1 0h1m1 0h4m1 0h1m1 0h3m1 0h6m1 0h1m1 0h2m1 0h16m2 0h3m2 0h1m2 0h1m1 0h2m1 0h1m2 0h1m3 0h1M32 61h1m1 0h3m1 0h1m1 0h1m1 0h4m1 0h7m3 0h5m2 0h1m1 0h1m1 0h2m1 0h4m1 0h2m1 0h13m1 0h3m1 0h14m2 0h1m3 0h1M23 62h1m7 0h1m3 0h1m3 0h10m1 0h9m1 0h3m1 0h15m1 0h9m1 0h3m1 0h1m2 0h1m1 0h7m1 0h2M20 63h1m8 0h2m2 0h1m1 0h1m1 0h10m1 0h17m1 0h4m2 0h4m1 0h5m2 0h2m1 0h1m1 0h8m1 0h1m1 0h2m1 0h1m7 0h1m7 0h1M32 64h2m2 0h7m2 0h6m1 0h2m1 0h7m6 0h6m1 0h2m1 0h21m3 0h2m1 0h1m1 0h1m1 0h4M29 65h1m1 0h2m2 0h1m3 0h11m1 0h4m3 0h10m1 0h15m1 0h5m1 0h1m1 0h6m1 0h5m2 0h3m1 0h1m4 0h1M28 66h2m1 0h1m1 0h1m1 0h4m1 0h1m2 0h1m1 0h1m1 0h1m1 0h1m1 0h2m1 0h8m1 0h12m2 0h3m1 0h12m1 0h4m3 0h1m7 0h1M8 67h1m7 0h1m10 0h3m1 0h1m3 0h4m1 0h1m1 0h5m2 0h1m1 0h1m2 0h1m1 0h4m1 0h16m1 0h1m1 0h6m1 0h4m1 0h5m2 0h4m2 0h1m1 0h1m2 0h1m2 0h2m3 0h1M26 68h1m2 0h1m1 0h5m1 0h1m2 0h4m1 0h4m1 0h20m1 0h6m1 0h4m1 0h6m1 0h10m2 0h1m1 0h7M27 69h2m1 0h1m1 0h8m1 0h6m3 0h38m1 0h4m2 0h1m1 0h4m1 0h1m8 0h1m3 0h1m6 0h2m7 0h1M7 70h1m14 0h2m2 0h2m1 0h1m1 0h3m1 0h3m1 0h1m3 0h5m1 0h2m1 0h4m2 0h1m1 0h7m1 0h2m1 0h15m2 0h2m1 0h3m1 0h1m1 0h2m5 0h2m2 0h1m1 0h1m5 0h1M26 71h1m3 0h4m1 0h1m1 0h2m1 0h4m2 0h3m1 0h5m1 0h13m1 0h18m1 0h7m1 0h2m2 0h4m2 0h1m7 0h1M24 72h1m1 0h8m1 0h3m1 0h12m1 0h39m1 0h10m2 0h1m2 0h1m7 0h1m14 0h1M18 73h1m4 0h1m1 0h2m1 0h1m2 0h2m1 0h1m1 0h6m1 0h57m2 0h1m3 0h1m4 0h1m2 0h1m1 0h1M13 74h1m3 0h1m1 0h1m3 0h1m2 0h2m1 0h2m1 0h1m3 0h5m1 0h7m1 0h10m1 0h28m1 0h8m1 0h1m1 0h4m1 0h2m3 0h1m12 0h1M18 75h1m9 0h2m3 0h3m1 0h4m1 0h45m1 0h7m1 0h5m1 0h1m2 0h1m12 0h1M22 76h1m1 0h1m2 0h4m1 0h1m1 0h2m1 0h5m1 0h3m1 0h1m1 0h51m5 0h1m3 0h1M21 77h1m2 0h2m1 0h1m1 0h5m1 0h4m1 0h3m1 0h49m1 0h2m1 0h1m18 0h1M13 78h1m6 0h2m1 0h1m1 0h3m1 0h1m1 0h3m1 0h2m1 0h9m1 0h44m1 0h2m2 0h2m5 0h1m10 0h1M15 79h1m2 0h2m1 0h2m2 0h1m1 0h2m1 0h3m1 0h2m1 0h3m1 0h7m1 0h45m2 0h1M11 80h1m4 0h1m6 0h4m1 0h2m1 0h4m1 0h2m1 0h3m1 0h1m1 0h46m1 0h2m1 0h1m1 0h1m7 0h1m3 0h1m10 0h1M19 81h1m2 0h1m3 0h1m1 0h10m2 0h3m2 0h47m1 0h1m2 0h1m2 0h1m5 0h1M14 82h1m8 0h3m1 0h1m3 0h2m1 0h1m1 0h2m1 0h1m1 0h54m2 0h1M16 83h1m2 0h1m6 0h1m1 0h3m1 0h1m1 0h2m1 0h1m1 0h3m1 0h5m1 0h37m1 0h2m1 0h4m1 0h1m12 0h2m7 0h1M13 84h1m2 0h2m3 0h1m2 0h3m1 0h2m4 0h4m1 0h1m1 0h3m1 0h43m1 0h1m1 0h2m6 0h1m16 0h1M8 85h1m4 0h1m3 0h3m1 0h1m3 0h3m2 0h4m1 0h1m1 0h6m1 0h38m1 0h7m1 0h2m1 0h1m2 0h1M19 86h2m3 0h4m2 0h1m1 0h1m3 0h4m1 0h2m3 0h37m1 0h2m1 0h1m4 0h2m6 0h1m3 0h1m1 0h1m9 0h1M5 87h1m6 0h1m6 0h1m2 0h4m2 0h1m2 0h1m5 0h3m1 0h38m1 0h5m1 0h1m1 0h2m14 0h1M15 88h1m3 0h1m5 0h1m1 0h2m1 0h1m1 0h3m2 0h1m1 0h7m1 0h26m1 0h3m1 0h1m1 0h1m1 0h3m9 0h2M15 89h1m2 0h1m8 0h1m1 0h1m1 0h5m1 0h2m1 0h8m1 0h23m1 0h2m1 0h7m1 0h3m1 0h1m6 0h1M9 90h1m12 0h1m2 0h1m5 0h2m1 0h29m1 0h11m2 0h4m2 0h1M19 91h2m5 0h3m7 0h1m1 0h6m1 0h2m1 0h24m1 0h7m1 0h2m4 0h1m1 0h1M8 92h1m5 0h2m8 0h1m3 0h1m1 0h2m2 0h3m1 0h2m1 0h7m1 0h3m1 0h21m1 0h1m1 0h2m26 0h2M15 93h1m5 0h1m4 0h1m1 0h1m3 0h2m1 0h1m2 0h7m2 0h1m1 0h4m1 0h2m1 0h8m1 0h2m1 0h7m2 0h1m1 0h2m2 0h1m3 0h1m7 0h1M21 94h1m2 0h1m3 0h3m3 0h2m2 0h5m1 0h2m2 0h3m1 0h6m1 0h3m2 0h1m2 0h2m3 0h1m1 0h1m4 0h1m13 0h1M17 95h1m8 0h1m2 0h1m1 0h3m2 0h1m1 0h2m1 0h1m2 0h1m3 0h1m2 0h1m1 0h3m2 0h1m1 0h1m1 0h2m3 0h1m5 0h1m2 0h1m3 0h2m4 0h1m5 0h1M26 96h1m3 0h1m1 0h1m6 0h3m1 0h2m4 0h2m1 0h2m1 0h1m1 0h2m1 0h1m1 0h1m2 0h3m2 0h2m1 0h1m7 0h1m23 0h1M23 97h1m8 0h3m2 0h3m4 0h3m2 0h2m2 0h1m11 0h2m8 0h1M20 98h1m1 0h1m3 0h1m5 0h1m1 0h1m1 0h1m1 0h2m1 0h1m11 0h1m1 0h1m7 0h2m2 0h1M25 99h1m5 0h1m4 0h1m2 0h1m1 0h3m1 0h1m8 0h2m2 0h1m1 0h2m3 0h1m5 0h1m16 0h1M23 100h1m2 0h2m1 0h2m1 0h2m2 0h1m7 0h1m2 0h1m2 0h2m3 0h1m3 0h1m6 0h1m17 0h1M32 101h1m2 0h2m2 0h1m2 0h1m7 0h1m2 0h1m2 0h1m2 0h2m10 0h1m2 0h1m4 0h1"/>
<g stroke="#080808" stroke-width="1.5" fill="none">
<rect x="1105.3" y="2021.5" width="185" height="134"/>
<path stroke-width="1.7" d="M1212.6 2021.5V2155.5M1105.3 2115.9H1290.3"/>
<path stroke-width="1.25" d="M1105.3 2155.5v4.79M1105.3 2155.5h-4.9M1119.22 2155.5v2.93M1105.3 2145.42h-2.99M1127.37 2155.5v2.93M1105.3 2139.52h-2.99M1133.15 2155.5v2.93M1105.3 2135.33h-2.99M1137.63 2155.5v2.93M1105.3 2132.08h-2.99M1141.29 2155.5v2.93M1105.3 2129.43h-2.99M1144.39 2155.5v2.93M1105.3 2127.19h-2.99M1147.07 2155.5v2.93M1105.3 2125.25h-2.99M1149.43 2155.5v2.93M1105.3 2123.53h-2.99M1151.55 2155.5v4.79M1105.3 2122h-4.9M1165.47 2155.5v2.93M1105.3 2111.92h-2.99M1173.62 2155.5v2.93M1105.3 2106.02h-2.99M1179.4 2155.5v2.93M1105.3 2101.83h-2.99M1183.88 2155.5v2.93M1105.3 2098.58h-2.99M1187.54 2155.5v2.93M1105.3 2095.93h-2.99M1190.64 2155.5v2.93M1105.3 2093.69h-2.99M1193.32 2155.5v2.93M1105.3 2091.75h-2.99M1195.68 2155.5v2.93M1105.3 2090.03h-2.99M1197.8 2155.5v4.79M1105.3 2088.5h-4.9M1211.72 2155.5v2.93M1105.3 2078.42h-2.99M1219.87 2155.5v2.93M1105.3 2072.52h-2.99M1225.65 2155.5v2.93M1105.3 2068.33h-2.99M1230.13 2155.5v2.93M1105.3 2065.08h-2.99M1233.79 2155.5v2.93M1105.3 2062.43h-2.99M1236.89 2155.5v2.93M1105.3 2060.19h-2.99M1239.57 2155.5v2.93M1105.3 2058.25h-2.99M1241.93 2155.5v2.93M1105.3 2056.53h-2.99M1244.05 2155.5v4.79M1105.3 2055h-4.9M1257.97 2155.5v2.93M1105.3 2044.92h-2.99M1266.12 2155.5v2.93M1105.3 2039.02h-2.99M1271.9 2155.5v2.93M1105.3 2034.83h-2.99M1276.38 2155.5v2.93M1105.3 2031.58h-2.99M1280.04 2155.5v2.93M1105.3 2028.93h-2.99M1283.14 2155.5v2.93M1105.3 2026.69h-2.99M1285.82 2155.5v2.93M1105.3 2024.75h-2.99M1288.18 2155.5v2.93M1105.3 2023.03h-2.99M1290.3 2155.5v4.79M1105.3 2021.5h-4.9"/>
</g>
<g font-weight="normal" fill="#1c1c1c">
<text transform="translate(1179.07,2017.95) scale(0.995,1)" font-size="9.86">007</text>
<text transform="translate(1183.38,2181.41) scale(0.985,1)" font-size="9.86">FL1-H</text>
<text transform="translate(1097.79,2172.01) scale(0.950,1)" font-size="9.86">10</text>
<text transform="translate(1107.94,2166.86) scale(1.049,1)" font-size="8.68">0</text>
<text transform="translate(1099.86,2158.04) rotate(-90) scale(0.971,1)" font-size="10.52">10</text>
<text transform="translate(1093.24,2147.06) rotate(-90) scale(1.062,1)" font-size="9.26">0</text>
<text transform="translate(1144.04,2172.01) scale(0.950,1)" font-size="9.86">10</text>
<text transform="translate(1153.85,2166.86) scale(1.049,1)" font-size="8.68">1</text>
<text transform="translate(1099.86,2132.97) rotate(-90) scale(0.971,1)" font-size="10.52">10</text>
<text transform="translate(1093.24,2122.36) rotate(-90) scale(1.062,1)" font-size="9.26">1</text>
<text transform="translate(1190.11,2172.01) scale(0.950,1)" font-size="9.86">10</text>
<text transform="translate(1200.16,2166.86) scale(1.049,1)" font-size="8.68">2</text>
<text transform="translate(1099.86,2099.47) rotate(-90) scale(0.971,1)" font-size="10.52">10</text>
<text transform="translate(1093.24,2088.6) rotate(-90) scale(1.062,1)" font-size="9.26">2</text>
<text transform="translate(1236.54,2172.01) scale(0.950,1)" font-size="9.86">10</text>
<text transform="translate(1246.7,2166.86) scale(1.049,1)" font-size="8.68">3</text>
<text transform="translate(1099.86,2065.97) rotate(-90) scale(0.971,1)" font-size="10.52">10</text>
<text transform="translate(1093.24,2054.98) rotate(-90) scale(1.062,1)" font-size="9.26">3</text>
<text transform="translate(1281.06,2172.01) scale(0.950,1)" font-size="9.86">10</text>
<text transform="translate(1291.36,2166.86) scale(1.049,1)" font-size="8.68">4</text>
<text transform="translate(1099.86,2032.47) rotate(-90) scale(0.971,1)" font-size="10.52">10</text>
<text transform="translate(1093.24,2021.33) rotate(-90) scale(1.062,1)" font-size="9.26">4</text>
<text transform="translate(1084.9,2103.69) rotate(-90) scale(0.948,1)" font-size="10.52">FL2-H</text>
</g>
<path transform="translate(1338.5,2023.05) scale(1.3)" stroke="#0b0b0b" stroke-width="1" fill="none" d="M62 32h1m23 0h1m10 0h1m7 0h1M64 33h1m27 0h1M62 34h1m12 0h1m2 0h1m12 0h1m6 0h1m2 0h1m6 0h1M84 35h1m3 0h1m1 0h1m1 0h1m2 0h1M69 36h1m3 0h1m6 0h1m5 0h1m3 0h1m5 0h2m2 0h1m2 0h1m1 0h1m2 0h2M41 37h1m17 0h1m4 0h1m2 0h1m3 0h1m4 0h3m1 0h1m1 0h2m4 0h1m5 0h1m1 0h1m19 0h1m6 0h1M28 38h1m19 0h1m12 0h1m10 0h2m4 0h5m2 0h2m1 0h1m3 0h1m2 0h1m1 0h1m4 0h1m1 0h1m1 0h1m1 0h1m4 0h1m1 0h2m6 0h1M54 39h1m2 0h1m1 0h1m2 0h2m1 0h1m1 0h1m1 0h1m1 0h3m5 0h2m1 0h1m1 0h1m1 0h5m1 0h1m3 0h1m6 0h2m3 0h1m18 0h1M39 40h1m14 0h1m7 0h2m2 0h4m1 0h2m1 0h1m1 0h3m2 0h4m1 0h1m2 0h1m1 0h1m1 0h1m2 0h8m1 0h2m3 0h1m1 0h1m2 0h1M29 41h1m27 0h1m5 0h2m1 0h1m1 0h1m1 0h2m1 0h1m1 0h3m1 0h4m1 0h6m1 0h3m2 0h1m1 0h2m2 0h1m4 0h2m1 0h1m7 0h1M39 42h1m14 0h1m9 0h1m2 0h1m1 0h15m1 0h8m1 0h4m3 0h3m2 0h1m1 0h1m1 0h3m16 0h1M43 43h1m14 0h1m2 0h1m1 0h2m1 0h1m1 0h6m1 0h19m1 0h4m1 0h1m3 0h1m1 0h2m1 0h1m7 0h1m3 0h1m7 0h1M18 44h1m6 0h1m35 0h1m2 0h4m1 0h17m1 0h3m1 0h8m2 0h3m1 0h3m2 0h1m2 0h1m6 0h1M27 45h1m28 0h4m3 0h5m1 0h7m1 0h10m1 0h1m1 0h3m1 0h1m3 0h3m1 0h2m1 0h4m1 0h1m1 0h2m2 0h1m9 0h2M49 46h1m2 0h2m2 0h2m1 0h2m1 0h2m1 0h22m1 0h1m1 0h3m1 0h4m2 0h2m1 0h1m1 0h1m2 0h3m4 0h1M30 47h1m8 0h1m8 0h4m4 0h2m1 0h3m3 0h3m1 0h22m1 0h14m2 0h2m2 0h2m8 0h1m2 0h2M17 48h1m9 0h1m20 0h1m2 0h1m3 0h2m1 0h1m1 0h1m1 0h32m1 0h5m1 0h6m1 0h3m1 0h2m1 0h1m5 0h1m6 0h1M28 49h1m7 0h1m8 0h1m1 0h1m5 0h1m3 0h13m1 0h22m1 0h5m1 0h2m1 0h1m1 0h2m2 0h1m1 0h1m5 0h2m13 0h1M19 50h1m1 0h1m16 0h1m1 0h1m2 0h1m3 0h1m3 0h1m3 0h3m1 0h5m1 0h21m1 0h4m1 0h3m1 0h2m1 0h4m2 0h1m3 0h2m1 0h2m2 0h1m10 0h1M24 51h1m12 0h1m2 0h1m3 0h1m2 0h1m3 0h1m2 0h1m1 0h2m2 0h37m2 0h4m1 0h1m1 0h1m1 0h1m1 0h4m6 0h2M22 52h1m17 0h1m5 0h1m2 0h1m1 0h2m1 0h5m1 0h31m2 0h5m2 0h3m1 0h2m2 0h3m5 0h1m1 0h1M12 53h1m5 0h1m7 0h1m20 0h3m3 0h4m1 0h3m1 0h10m1 0h21m1 0h8m1 0h2m6 0h2m1 0h1m1 0h1m2 0h1m2 0h1M17 54h1m8 0h1m2 0h1m6 0h1m3 0h1m2 0h4m1 0h2m1 0h2m1 0h5m1 0h1m1 0h40m1 0h1m1 0h3m2 0h2m1 0h3m6 0h2M36 55h1m1 0h2m3 0h1m3 0h1m1 0h5m1 0h2m2 0h3m1 0h29m1 0h16m1 0h1m2 0h2m3 0h1M29 56h1m8 0h1m4 0h2m2 0h7m2 0h3m1 0h27m1 0h4m1 0h5m1 0h1m2 0h1m2 0h1m1 0h2m1 0h1m1 0h1m1 0h1m3 0h2m1 0h1m16 0h1M34 57h1m3 0h1m2 0h1m1 0h2m1 0h4m3 0h3m1 0h2m2 0h22m1 0h3m1 0h11m1 0h7m1 0h2m1 0h2m3 0h1m1 0h1m8 0h1M39 58h1m4 0h3m1 0h13m1 0h31m1 0h3m1 0h7m3 0h3m4 0h1m2 0h1M30 59h1m5 0h1m4 0h1m3 0h1m1 0h6m1 0h2m1 0h41m1 0h1m1 0h1m2 0h9m3 0h2m2 0h1M25 60h1m7 0h1m1 0h2m2 0h1m1 0h1m1 0h1m3 0h2m1 0h3m1 0h2m2 0h14m1 0h21m1 0h9m1 0h5m1 0h3m6 0h2M17 61h1m12 0h1m7 0h1m1 0h2m1 0h1m2 0h1m1 0h20m1 0h2m1 0h14m1 0h8m2 0h8m2 0h1m1 0h1m1 0h1m2 0h2m1 0h1m8 0h1M29 62h1m3 0h1m2 0h1m3 0h2m2 0h5m1 0h10m1 0h4m1 0h23m2 0h14m4 0h1m5 0h1m3 0h1M35 63h1m2 0h1m2 0h10m1 0h12m2 0h10m1 0h12m2 0h5m1 0h1m1 0h4m1 0h1m1 0h2m1 0h1m3 0h1M4 64h1m26 0h1m1 0h5m1 0h1m2 0h2m2 0h2m1 0h2m2 0h3m1 0h10m1 0h1m1 0h2m1 0h24m1 0h2m1 0h6m2 0h1m2 0h2m2 0h1m7 0h1M35 65h2m1 0h2m2 0h1m1 0h2m1 0h12m1 0h5m1 0h10m1 0h1m1 0h8m1 0h7m2 0h4m1 0h8m2 0h1m1 0h1M25 66h1m4 0h1m1 0h1m3 0h1m3 0h2m3 0h5m1 0h16m1 0h3m1 0h10m1 0h3m2 0h4m1 0h3m1 0h6m2 0h2m1 0h2m5 0h2M23 67h1m4 0h1m4 0h1m2 0h2m3 0h3m2 0h1m1 0h7m1 0h26m1 0h4m1 0h16m2 0h2m1 0h2m1 0h1m4 0h1m3 0h2M26 68h3m2 0h3m1 0h1m1 0h15m1 0h1m1 0h1m1 0h40m1 0h1m1 0h1m1 0h1m1 0h1m1 0h3m1 0h1m1 0h1m1 0h1m2 0h2m11 0h1M29 69h1m2 0h2m1 0h1m1 0h2m1 0h6m1 0h9m1 0h30m1 0h10m1 0h5m1 0h2m1 0h1m1 0h1M24 70h1m2 0h2m4 0h1m3 0h1m1 0h3m2 0h50m1 0h2m1 0h1m1 0h4m1 0h4M28 71h4m2 0h1m1 0h1m1 0h1m2 0h36m1 0h2m1 0h3m1 0h2m1 0h9m1 0h4m2 0h2m2 0h2m1 0h1M27 72h1m1 0h1m3 0h1m1 0h2m4 0h1m1 0h2m2 0h5m1 0h4m1 0h26m1 0h7m2 0h1m2 0h2m1 0h4m1 0h1m1 0h1m3 0h1m7 0h1M24 73h2m1 0h4m2 0h6m1 0h5m1 0h2m1 0h43m3 0h2m1 0h5m2 0h4m1 0h1m6 0h1M13 74h1m2 0h1m10 0h1m3 0h1m3 0h6m1 0h7m1 0h37m2 0h1m1 0h9m2 0h1m2 0h1m1 0h1m1 0h1m6 0h1M19 75h1m1 0h1m1 0h1m5 0h2m1 0h2m1 0h4m2 0h52m3 0h2m1 0h1m1 0h1m1 0h1m2 0h2M19 76h1m6 0h1m2 0h1m1 0h2m1 0h1m2 0h2m2 0h2m1 0h47m1 0h4m2 0h1m2 0h1m1 0h1m6 0h1M29 77h1m2 0h1m1 0h1m2 0h4m2 0h45m1 0h3m2 0h2m2 0h2m3 0h2m1 0h1m3 0h1M23 78h1m3 0h1m1 0h1m1 0h5m1 0h3m1 0h43m1 0h9m2 0h6m2 0h1m4 0h1M28 79h2m1 0h1m1 0h1m1 0h1m1 0h1m2 0h54m1 0h2m3 0h1m2 0h1m5 0h1M24 80h2m2 0h1m3 0h2m1 0h3m1 0h52m2 0h2m2 0h1m2 0h1M18 81h1m4 0h1m2 0h1m3 0h2m3 0h1m1 0h3m2 0h46m2 0h1m1 0h1m2 0h3m1 0h3m2 0h1m3 0h1M5 82h1m20 0h1m1 0h3m3 0h2m1 0h3m1 0h4m2 0h37m1 0h6m3 0h1m1 0h2m2 0h1m1 0h1m8 0h1M29 83h1m2 0h3m1 0h12m1 0h35m1 0h7m1 0h4m1 0h1m8 0h2m4 0h1M8 84h1m17 0h1m1 0h2m1 0h4m1 0h45m1 0h6m1 0h5M21 85h1m1 0h2m1 0h2m1 0h2m1 0h1m1 0h1m3 0h1m2 0h4m1 0h18m1 0h23m1 0h1m1 0h2m1 0h2m2 0h1m4 0h1M27 86h1m3 0h1m2 0h3m3 0h2m1 0h1m1 0h6m1 0h23m1 0h2m1 0h3m4 0h1m1 0h1m2 0h1m1 0h3m2 0h1m3 0h1m3 0h1m9 0h2m3 0h1M18 87h1m1 0h1m1 0h1m5 0h5m1 0h4m1 0h2m1 0h4m1 0h32m1 0h1m1 0h4m2 0h2m6 0h1m1 0h2m2 0h1M26 88h1m2 0h1m2 0h1m1 0h2m1 0h1m2 0h5m1 0h4m3 0h27m2 0h2m1 0h1m5 0h1m1 0h1m9 0h1M18 89h1m9 0h1m2 0h1m1 0h1m3 0h1m1 0h3m1 0h2m3 0h4m1 0h11m1 0h2m1 0h7m1 0h9m3 0h1m3 0h1m3 0h2m3 0h1m15 0h1M13 90h1m17 0h1m6 0h1m2 0h7m2 0h11m1 0h10m1 0h4m1 0h1m4 0h1m3 0h1m4 0h1m17 0h1M30 91h2m7 0h3m2 0h2m1 0h1m1 0h2m3 0h5m1 0h10m1 0h2m2 0h4m6 0h1m2 0h2m25 0h1M22 92h1m7 0h1m7 0h5m1 0h2m1 0h1m1 0h2m1 0h2m1 0h14m1 0h5m2 0h3m4 0h1m4 0h1m4 0h1m11 0h1m2 0h2M19 93h1m12 0h2m2 0h1m2 0h1m1 0h1m1 0h2m1 0h3m3 0h2m1 0h2m1 0h2m1 0h1m1 0h4m2 0h2m1 0h4m2 0h1m3 0h3m1 0h1m7 0h1m4 0h1m5 0h1m7 0h1M14 94h2m1 0h1m15 0h1m3 0h1m1 0h2m1 0h1m3 0h1m1 0h8m1 0h1m2 0h4m1 0h1m2 0h4m2 0h1m3 0h2m4 0h2m4 0h1m3 0h1M29 95h1m1 0h2m4 0h1m6 0h1m5 0h4m3 0h1m1 0h2m2 0h2m1 0h6m1 0h1m17 0h1M29 96h1m1 0h1m1 0h1m4 0h1m6 0h2m1 0h1m2 0h2m1 0h3m2 0h1m2 0h2m1 0h2m3 0h1m6 0h1m11 0h2M40 97h3m2 0h1m5 0h1m2 0h2m1 0h1m1 0h2m1 0h1m5 0h1m1 0h1m6 0h1M26 98h1m2 0h1m2 0h1m9 0h1m3 0h1m1 0h2m1 0h1m4 0h2m4 0h1m1 0h1m20 0h1M28 99h1m5 0h2m2 0h1m1 0h1m2 0h1m1 0h1m1 0h1m3 0h2m3 0h1m3 0h1m2 0h1m1 0h1m2 0h1M27 100h1m3 0h1m3 0h1m1 0h1m1 0h1m3 0h1m2 0h1m1 0h2m1 0h1m16 0h1m1 0h1m3 0h1m4 0h1M39 101h1m19 0h1"/>
<g stroke="#080808" stroke-width="1.5" fill="none">
<rect x="1336.9" y="2020.6" width="182.8" height="134.9"/>
<path stroke-width="1.7" d="M1443.3 2020.6V2155.5M1336.9 2115.9H1519.7"/>
<path stroke-width="1.25" d="M1336.9 2155.5v4.82M1336.9 2155.5h-4.84M1350.66 2155.5v2.95M1336.9 2145.35h-2.96M1358.7 2155.5v2.95M1336.9 2139.41h-2.96M1364.41 2155.5v2.95M1336.9 2135.2h-2.96M1368.84 2155.5v2.95M1336.9 2131.93h-2.96M1372.46 2155.5v2.95M1336.9 2129.26h-2.96M1375.52 2155.5v2.95M1336.9 2127h-2.96M1378.17 2155.5v2.95M1336.9 2125.04h-2.96M1380.51 2155.5v2.95M1336.9 2123.32h-2.96M1382.6 2155.5v4.82M1336.9 2121.78h-4.84M1396.36 2155.5v2.95M1336.9 2111.62h-2.96M1404.4 2155.5v2.95M1336.9 2105.68h-2.96M1410.11 2155.5v2.95M1336.9 2101.47h-2.96M1414.54 2155.5v2.95M1336.9 2098.2h-2.96M1418.16 2155.5v2.95M1336.9 2095.53h-2.96M1421.22 2155.5v2.95M1336.9 2093.27h-2.96M1423.87 2155.5v2.95M1336.9 2091.32h-2.96M1426.21 2155.5v2.95M1336.9 2089.59h-2.96M1428.3 2155.5v4.82M1336.9 2088.05h-4.84M1442.06 2155.5v2.95M1336.9 2077.9h-2.96M1450.1 2155.5v2.95M1336.9 2071.96h-2.96M1455.81 2155.5v2.95M1336.9 2067.75h-2.96M1460.24 2155.5v2.95M1336.9 2064.48h-2.96M1463.86 2155.5v2.95M1336.9 2061.81h-2.96M1466.92 2155.5v2.95M1336.9 2059.55h-2.96M1469.57 2155.5v2.95M1336.9 2057.59h-2.96M1471.91 2155.5v2.95M1336.9 2055.87h-2.96M1474 2155.5v4.82M1336.9 2054.32h-4.84M1487.76 2155.5v2.95M1336.9 2044.17h-2.96M1495.8 2155.5v2.95M1336.9 2038.23h-2.96M1501.51 2155.5v2.95M1336.9 2034.02h-2.96M1505.94 2155.5v2.95M1336.9 2030.75h-2.96M1509.56 2155.5v2.95M1336.9 2028.08h-2.96M1512.62 2155.5v2.95M1336.9 2025.82h-2.96M1515.27 2155.5v2.95M1336.9 2023.87h-2.96M1517.61 2155.5v2.95M1336.9 2022.14h-2.96M1519.7 2155.5v4.82M1336.9 2020.6h-4.84"/>
</g>
<g font-weight="normal" fill="#1c1c1c">
<text transform="translate(1409.8,2017.03) scale(0.983,1)" font-size="9.86">014</text>
<text transform="translate(1414.05,2181.59) scale(0.973,1)" font-size="9.86">FL1-H</text>
<text transform="translate(1329.48,2172.12) scale(0.939,1)" font-size="9.86">10</text>
<text transform="translate(1339.51,2166.94) scale(1.036,1)" font-size="8.68">0</text>
<text transform="translate(1331.52,2158.04) rotate(-90) scale(0.983,1)" font-size="10.39">10</text>
<text transform="translate(1324.98,2147.06) rotate(-90) scale(1.075,1)" font-size="9.15">0</text>
<text transform="translate(1375.18,2172.12) scale(0.939,1)" font-size="9.86">10</text>
<text transform="translate(1384.87,2166.94) scale(1.036,1)" font-size="8.68">1</text>
<text transform="translate(1331.52,2132.74) rotate(-90) scale(0.983,1)" font-size="10.39">10</text>
<text transform="translate(1324.98,2122.13) rotate(-90) scale(1.075,1)" font-size="9.15">1</text>
<text transform="translate(1420.7,2172.12) scale(0.939,1)" font-size="9.86">10</text>
<text transform="translate(1430.63,2166.94) scale(1.036,1)" font-size="8.68">2</text>
<text transform="translate(1331.52,2099.02) rotate(-90) scale(0.983,1)" font-size="10.39">10</text>
<text transform="translate(1324.98,2088.15) rotate(-90) scale(1.075,1)" font-size="9.15">2</text>
<text transform="translate(1466.58,2172.12) scale(0.939,1)" font-size="9.86">10</text>
<text transform="translate(1476.62,2166.94) scale(1.036,1)" font-size="8.68">3</text>
<text transform="translate(1331.52,2065.29) rotate(-90) scale(0.983,1)" font-size="10.39">10</text>
<text transform="translate(1324.98,2054.31) rotate(-90) scale(1.075,1)" font-size="9.15">3</text>
<text transform="translate(1510.57,2172.12) scale(0.939,1)" font-size="9.86">10</text>
<text transform="translate(1520.75,2166.94) scale(1.036,1)" font-size="8.68">4</text>
<text transform="translate(1331.52,2031.57) rotate(-90) scale(0.983,1)" font-size="10.39">10</text>
<text transform="translate(1324.98,2020.43) rotate(-90) scale(1.075,1)" font-size="9.15">4</text>
<text transform="translate(1316.74,2103.25) rotate(-90) scale(0.959,1)" font-size="10.39">FL2-H</text>
</g>
<path transform="translate(1566.7,2026.15) scale(1.3)" stroke="#0b0b0b" stroke-width="1" fill="none" d="M62 33h1m12 0h1m8 0h1m2 0h1M66 34h1m15 0h1m21 0h1M53 35h2m6 0h1m1 0h1m5 0h1m19 0h1m4 0h1M44 36h1m8 0h1m1 0h1m5 0h2m7 0h1m1 0h1m4 0h1m1 0h2m1 0h1m6 0h1m2 0h2M46 37h1m10 0h1m1 0h1m5 0h1m9 0h1m1 0h1m1 0h1m2 0h1m3 0h2m3 0h1m19 0h1m1 0h1M46 38h1m5 0h1m6 0h3m3 0h1m1 0h1m1 0h1m1 0h2m7 0h2m3 0h1m1 0h1m17 0h1m2 0h1M43 39h2m12 0h1m6 0h4m1 0h1m3 0h2m2 0h1m2 0h1m1 0h1m2 0h3m1 0h2m2 0h1m3 0h1m3 0h2M34 40h1m9 0h3m2 0h1m4 0h1m10 0h1m3 0h1m1 0h4m3 0h2m2 0h1m1 0h1m2 0h4m2 0h1m3 0h2m7 0h1M51 41h3m5 0h1m1 0h2m1 0h2m2 0h3m4 0h1m2 0h2m1 0h1m1 0h2m1 0h1m1 0h1m2 0h1m1 0h2m1 0h2m4 0h1m2 0h1m1 0h3M32 42h1m11 0h1m1 0h1m4 0h2m1 0h1m1 0h2m2 0h1m1 0h2m1 0h2m5 0h2m2 0h4m1 0h2m2 0h9m2 0h1m4 0h1m1 0h1m1 0h1m2 0h1m2 0h1M38 43h2m3 0h1m3 0h1m1 0h1m1 0h1m4 0h1m2 0h1m3 0h1m3 0h2m2 0h1m2 0h4m1 0h1m2 0h3m1 0h3m3 0h2m1 0h2m3 0h1m15 0h1M28 44h1m19 0h2m2 0h6m1 0h4m4 0h1m1 0h3m1 0h1m1 0h1m1 0h1m1 0h2m1 0h5m1 0h1m2 0h4m2 0h1m3 0h1m5 0h1M32 45h1m5 0h1m3 0h2m4 0h4m9 0h1m2 0h1m1 0h2m1 0h1m5 0h2m2 0h2m1 0h3m1 0h1m3 0h4m1 0h2m1 0h3m2 0h1m2 0h2m5 0h1M49 46h1m2 0h1m5 0h1m1 0h1m4 0h3m2 0h6m1 0h3m1 0h12m2 0h1m2 0h1m5 0h1m1 0h1m4 0h1m1 0h1M36 47h3m2 0h3m2 0h3m2 0h1m4 0h1m1 0h2m2 0h4m2 0h2m1 0h2m1 0h2m2 0h1m1 0h2m2 0h1m1 0h1m1 0h4m1 0h2m1 0h3m2 0h3m1 0h1m4 0h1m1 0h1m1 0h1m2 0h1M34 48h1m1 0h1m6 0h5m1 0h2m1 0h1m4 0h4m3 0h1m1 0h2m1 0h1m1 0h5m2 0h2m1 0h9m1 0h1m3 0h1m1 0h3m1 0h1m1 0h2m1 0h1m1 0h1m1 0h1m2 0h1m8 0h2M27 49h1m10 0h2m2 0h1m6 0h2m2 0h2m1 0h1m2 0h2m2 0h2m2 0h5m2 0h1m1 0h3m3 0h3m1 0h5m1 0h5m1 0h1m2 0h1m1 0h1m7 0h1m4 0h1M30 50h1m3 0h1m3 0h1m1 0h3m2 0h1m2 0h1m3 0h3m1 0h2m3 0h1m2 0h2m1 0h1m2 0h1m1 0h1m2 0h1m2 0h1m1 0h10m2 0h5m2 0h1m1 0h2m2 0h1m1 0h1M37 51h1m4 0h1m2 0h3m1 0h6m1 0h1m1 0h1m3 0h1m1 0h1m1 0h5m2 0h1m1 0h4m1 0h3m2 0h3m1 0h2m1 0h4m1 0h1m1 0h8m2 0h1m9 0h1M30 52h2m6 0h1m1 0h1m1 0h2m1 0h1m2 0h1m1 0h3m1 0h1m1 0h3m4 0h1m1 0h2m4 0h2m2 0h10m1 0h2m2 0h5m1 0h1m2 0h1m2 0h2m1 0h1m2 0h2M28 53h2m5 0h1m3 0h1m3 0h3m1 0h2m1 0h3m2 0h4m2 0h1m4 0h2m2 0h1m1 0h1m3 0h3m1 0h1m1 0h2m2 0h9m2 0h4m1 0h1m3 0h1m1 0h2M26 54h1m10 0h1m2 0h1m1 0h1m1 0h2m2 0h3m1 0h6m1 0h1m1 0h1m2 0h1m1 0h4m1 0h2m1 0h1m5 0h1m1 0h1m1 0h3m1 0h3m2 0h1m1 0h3m1 0h3m1 0h1m8 0h1m1 0h1m2 0h1M36 55h1m7 0h1m3 0h1m1 0h1m4 0h1m3 0h3m4 0h1m4 0h1m1 0h1m1 0h4m1 0h2m1 0h1m1 0h1m2 0h3m1 0h3m7 0h1m1 0h2M38 56h1m6 0h2m1 0h3m1 0h3m1 0h1m5 0h1m1 0h3m2 0h3m1 0h1m1 0h1m2 0h3m2 0h8m1 0h6m4 0h1m1 0h3m1 0h1M12 57h1m21 0h2m7 0h2m3 0h1m3 0h1m4 0h1m7 0h1m5 0h4m4 0h1m1 0h3m1 0h4m3 0h2m1 0h1m6 0h4m3 0h1M35 58h1m6 0h1m4 0h3m1 0h1m2 0h2m4 0h1m4 0h3m3 0h1m3 0h2m1 0h2m1 0h2m1 0h1m2 0h7m4 0h3M30 59h1m4 0h1m13 0h5m5 0h3m1 0h1m4 0h1m2 0h2m6 0h1m2 0h6m2 0h1m2 0h1m5 0h1m1 0h1m1 0h1m1 0h1m3 0h1M37 60h1m3 0h1m1 0h1m1 0h1m1 0h1m2 0h1m8 0h6m2 0h1m2 0h1m3 0h2m1 0h2m2 0h3m1 0h6m1 0h2m3 0h1m1 0h1m1 0h1m4 0h1m1 0h1M25 61h1m1 0h1m13 0h1m2 0h1m1 0h1m2 0h2m10 0h2m3 0h1m3 0h1m2 0h1m4 0h1m2 0h1m1 0h1m1 0h1m3 0h3m3 0h1m4 0h1m2 0h1M40 62h2m1 0h1m3 0h1m1 0h1m1 0h1m2 0h1m2 0h1m1 0h1m4 0h3m2 0h2m1 0h1m1 0h1m6 0h2m1 0h3m1 0h3m3 0h1m13 0h1M28 63h1m7 0h1m9 0h1m12 0h1m1 0h1m1 0h1m1 0h1m1 0h7m1 0h1m2 0h1m1 0h3m4 0h1m2 0h2m5 0h1m5 0h1m3 0h1M31 64h1m8 0h1m6 0h2m2 0h5m6 0h2m3 0h1m2 0h1m3 0h2m2 0h5m1 0h1m4 0h1m1 0h1m1 0h2m2 0h1m4 0h1M35 65h1m7 0h1m4 0h1m3 0h1m5 0h1m2 0h2m2 0h1m1 0h3m2 0h1m1 0h1m2 0h1m1 0h4m1 0h2m2 0h3m4 0h2m2 0h1m7 0h1m9 0h1m3 0h1M29 66h2m5 0h1m8 0h1m5 0h1m3 0h1m1 0h1m1 0h2m1 0h2m5 0h1m6 0h1m3 0h2m1 0h2m2 0h1m1 0h2m1 0h1m1 0h1m1 0h1m2 0h3m1 0h1m3 0h1m1 0h1m1 0h1m8 0h1M51 67h2m1 0h1m4 0h2m2 0h2m1 0h2m1 0h4m2 0h2m2 0h6m3 0h2m1 0h1m1 0h2m5 0h1m9 0h1M40 68h1m8 0h1m1 0h2m1 0h3m2 0h4m4 0h2m1 0h5m1 0h1m1 0h3m1 0h4m1 0h2m1 0h5m1 0h2m2 0h1m2 0h1m3 0h1m7 0h1M48 69h1m3 0h3m1 0h1m3 0h2m1 0h7m1 0h1m1 0h2m1 0h2m1 0h6m1 0h1m1 0h2m2 0h4m1 0h1m3 0h2m1 0h1m2 0h1m13 0h1M15 70h1m15 0h1m5 0h1m10 0h1m1 0h1m3 0h1m1 0h5m1 0h2m1 0h3m1 0h2m1 0h7m1 0h6m1 0h5m1 0h3m2 0h1m5 0h2m2 0h2m2 0h1m2 0h1m2 0h1M26 71h1m16 0h2m2 0h1m3 0h1m1 0h1m1 0h1m1 0h2m1 0h1m2 0h10m1 0h2m1 0h12m1 0h11m1 0h1m1 0h2m1 0h1m7 0h1M31 72h1m4 0h1m5 0h1m4 0h2m1 0h1m1 0h1m1 0h1m3 0h2m1 0h41m1 0h2m12 0h1M32 73h1m3 0h1m1 0h2m2 0h1m3 0h2m1 0h1m1 0h1m3 0h42m1 0h1m1 0h1m1 0h3m6 0h1m4 0h2m15 0h1M41 74h4m1 0h13m1 0h31m1 0h3m1 0h1m1 0h4m1 0h1m4 0h1m9 0h1M16 75h1m17 0h2m1 0h1m1 0h1m6 0h1m1 0h6m1 0h48m1 0h1m1 0h1m1 0h1m8 0h1M16 76h1m8 0h1m6 0h1m2 0h1m3 0h1m1 0h58m1 0h2m2 0h4m3 0h1M23 77h1m4 0h2m6 0h3m1 0h1m2 0h49m1 0h8m2 0h1m2 0h1m1 0h1M19 78h1m6 0h1m1 0h1m6 0h6m1 0h58m4 0h1m4 0h1m4 0h1M19 79h1m5 0h1m3 0h2m4 0h1m1 0h66m1 0h2m3 0h1M20 80h1m2 0h1m3 0h1m2 0h1m3 0h63m3 0h1m1 0h1m7 0h1m1 0h1M16 81h2m1 0h1m5 0h3m1 0h68m2 0h6m1 0h1m1 0h1m6 0h1M30 82h1m3 0h2m1 0h61m3 0h1m2 0h1m2 0h1M21 83h1m4 0h1m1 0h63m1 0h3m1 0h1m1 0h1m1 0h1m2 0h1m10 0h1M14 84h1m7 0h4m2 0h1m1 0h58m1 0h1m1 0h2m2 0h1m1 0h1m1 0h1m3 0h2M25 85h1m1 0h2m2 0h65m1 0h1m1 0h2m7 0h1M22 86h1m2 0h2m1 0h2m1 0h60m2 0h1m4 0h1m6 0h1M3 87h1m4 0h1m1 0h1m3 0h1m6 0h1m1 0h1m1 0h1m1 0h62m1 0h1m1 0h3m4 0h1M2 88h1m5 0h1m4 0h2m3 0h1m2 0h1m2 0h59m1 0h5m2 0h1m2 0h1M12 89h2m11 0h2m1 0h2m1 0h50m1 0h3m2 0h3m5 0h1m2 0h1M10 90h1m6 0h1m3 0h4m2 0h50m1 0h2m1 0h1m1 0h1m2 0h1m12 0h1M15 91h1m1 0h1m1 0h1m3 0h1m1 0h43m1 0h5m1 0h3m1 0h2m1 0h1m2 0h1m1 0h1m7 0h1m4 0h2m5 0h1M9 92h1m10 0h1m1 0h8m1 0h42m2 0h2m1 0h1m1 0h1m5 0h2m2 0h2m6 0h1M2 93h1m13 0h3m1 0h8m2 0h24m1 0h2m1 0h10m1 0h5m2 0h1m1 0h1m5 0h1m2 0h1m1 0h2M7 94h1m10 0h1m1 0h6m1 0h1m1 0h1m1 0h19m1 0h13m1 0h5m1 0h1m2 0h1m6 0h1M19 95h1m4 0h5m1 0h11m1 0h6m1 0h4m1 0h5m1 0h4m1 0h1m3 0h3m2 0h1m2 0h1m3 0h1m10 0h1M2 96h1m11 0h1m3 0h2m2 0h2m5 0h2m1 0h2m1 0h2m1 0h2m1 0h10m2 0h6m3 0h1m2 0h1m3 0h2m1 0h2m1 0h1m3 0h1m6 0h1M10 97h1m10 0h1m1 0h1m7 0h3m1 0h18m2 0h2m2 0h4m3 0h1m4 0h2M13 98h2m12 0h1m2 0h2m3 0h1m2 0h1m1 0h2m2 0h2m2 0h1m3 0h1m1 0h1m10 0h1m1 0h1m2 0h1m3 0h1m2 0h1m3 0h1M14 99h1m1 0h1m14 0h1m3 0h1m3 0h2m6 0h3m7 0h1m13 0h1m2 0h1M18 100h2m7 0h1m1 0h2m5 0h1m1 0h1m1 0h1m2 0h2m4 0h1m4 0h2m3 0h1m1 0h1m1 0h1m33 0h1"/>
<g stroke="#080808" stroke-width="1.5" fill="none">
<rect x="1565.3" y="2023.9" width="185.2" height="133.4"/>
<path stroke-width="1.7" d="M1673.2 2023.9V2157.3M1565.3 2118H1750.5"/>
<path stroke-width="1.25" d="M1565.3 2157.3v4.77M1565.3 2157.3h-4.9M1579.24 2157.3v2.92M1565.3 2147.26h-3M1587.39 2157.3v2.92M1565.3 2141.39h-3M1593.18 2157.3v2.92M1565.3 2137.22h-3M1597.66 2157.3v2.92M1565.3 2133.99h-3M1601.33 2157.3v2.92M1565.3 2131.35h-3M1604.43 2157.3v2.92M1565.3 2129.12h-3M1607.11 2157.3v2.92M1565.3 2127.18h-3M1609.48 2157.3v2.92M1565.3 2125.48h-3M1611.6 2157.3v4.77M1565.3 2123.95h-4.9M1625.54 2157.3v2.92M1565.3 2113.91h-3M1633.69 2157.3v2.92M1565.3 2108.04h-3M1639.48 2157.3v2.92M1565.3 2103.87h-3M1643.96 2157.3v2.92M1565.3 2100.64h-3M1647.63 2157.3v2.92M1565.3 2098h-3M1650.73 2157.3v2.92M1565.3 2095.77h-3M1653.41 2157.3v2.92M1565.3 2093.83h-3M1655.78 2157.3v2.92M1565.3 2092.13h-3M1657.9 2157.3v4.77M1565.3 2090.6h-4.9M1671.84 2157.3v2.92M1565.3 2080.56h-3M1679.99 2157.3v2.92M1565.3 2074.69h-3M1685.78 2157.3v2.92M1565.3 2070.52h-3M1690.26 2157.3v2.92M1565.3 2067.29h-3M1693.93 2157.3v2.92M1565.3 2064.65h-3M1697.03 2157.3v2.92M1565.3 2062.42h-3M1699.71 2157.3v2.92M1565.3 2060.48h-3M1702.08 2157.3v2.92M1565.3 2058.78h-3M1704.2 2157.3v4.77M1565.3 2057.25h-4.9M1718.14 2157.3v2.92M1565.3 2047.21h-3M1726.29 2157.3v2.92M1565.3 2041.34h-3M1732.08 2157.3v2.92M1565.3 2037.17h-3M1736.56 2157.3v2.92M1565.3 2033.94h-3M1740.23 2157.3v2.92M1565.3 2031.3h-3M1743.33 2157.3v2.92M1565.3 2029.07h-3M1746.01 2157.3v2.92M1565.3 2027.13h-3M1748.38 2157.3v2.92M1565.3 2025.43h-3M1750.5 2157.3v4.77M1565.3 2023.9h-4.9"/>
</g>
<g font-weight="normal" fill="#1c1c1c">
<text transform="translate(1639.15,2020.37) scale(0.996,1)" font-size="9.86">011</text>
<text transform="translate(1643.47,2183.1) scale(0.986,1)" font-size="9.86">FL1-H</text>
<text transform="translate(1557.78,2173.73) scale(0.951,1)" font-size="9.86">10</text>
<text transform="translate(1567.94,2168.61) scale(1.050,1)" font-size="8.68">0</text>
<text transform="translate(1559.85,2159.84) rotate(-90) scale(0.970,1)" font-size="10.53">10</text>
<text transform="translate(1553.23,2148.86) rotate(-90) scale(1.061,1)" font-size="9.27">0</text>
<text transform="translate(1604.08,2173.73) scale(0.951,1)" font-size="9.86">10</text>
<text transform="translate(1613.9,2168.61) scale(1.050,1)" font-size="8.68">1</text>
<text transform="translate(1559.85,2134.92) rotate(-90) scale(0.970,1)" font-size="10.53">10</text>
<text transform="translate(1553.23,2124.31) rotate(-90) scale(1.061,1)" font-size="9.27">1</text>
<text transform="translate(1650.2,2173.73) scale(0.951,1)" font-size="9.86">10</text>
<text transform="translate(1660.26,2168.61) scale(1.050,1)" font-size="8.68">2</text>
<text transform="translate(1559.85,2101.57) rotate(-90) scale(0.970,1)" font-size="10.53">10</text>
<text transform="translate(1553.23,2090.7) rotate(-90) scale(1.061,1)" font-size="9.27">2</text>
<text transform="translate(1696.68,2173.73) scale(0.951,1)" font-size="9.86">10</text>
<text transform="translate(1706.85,2168.61) scale(1.050,1)" font-size="8.68">3</text>
<text transform="translate(1559.85,2068.22) rotate(-90) scale(0.970,1)" font-size="10.53">10</text>
<text transform="translate(1553.23,2057.23) rotate(-90) scale(1.061,1)" font-size="9.27">3</text>
<text transform="translate(1741.25,2173.73) scale(0.951,1)" font-size="9.86">10</text>
<text transform="translate(1751.57,2168.61) scale(1.050,1)" font-size="8.68">4</text>
<text transform="translate(1559.85,2034.87) rotate(-90) scale(0.970,1)" font-size="10.53">10</text>
<text transform="translate(1553.23,2023.73) rotate(-90) scale(1.061,1)" font-size="9.27">4</text>
<text transform="translate(1544.87,2105.79) rotate(-90) scale(0.947,1)" font-size="10.53">FL2-H</text>
</g>
<path transform="translate(1108,2202.85) scale(1.3)" stroke="#0b0b0b" stroke-width="1" fill="none" d="M91 28h1M88 30h1m1 0h1m1 0h1M73 31h1M69 32h1m1 0h1m2 0h1m11 0h1m2 0h1m2 0h1m4 0h2m1 0h1M76 33h1m6 0h1m1 0h1m1 0h1m1 0h1m4 0h1M66 34h1m2 0h1m3 0h1m4 0h2m3 0h2m5 0h1m3 0h3m5 0h1m1 0h2m2 0h1m1 0h1M76 35h1m6 0h1m1 0h1m3 0h1m3 0h1m1 0h2m3 0h1m5 0h1m1 0h1M69 36h1m5 0h1m1 0h1m2 0h2m4 0h2m4 0h1m1 0h1m2 0h1m1 0h2m2 0h1m7 0h1M67 37h1m3 0h1m2 0h3m2 0h1m1 0h1m4 0h1m1 0h4m3 0h1m2 0h1m5 0h1m1 0h1m1 0h2M62 38h1m6 0h3m4 0h1m2 0h1m3 0h3m1 0h2m1 0h1m2 0h1m1 0h3m1 0h3m2 0h2M47 39h1m3 0h1m1 0h1m1 0h1m4 0h1m1 0h2m7 0h1m6 0h3m2 0h4m1 0h1m1 0h2m1 0h2m1 0h3m1 0h3m2 0h3m3 0h1m1 0h1m2 0h1m4 0h1M54 40h1m2 0h1m5 0h1m4 0h2m2 0h1m5 0h9m2 0h2m1 0h2m3 0h2m1 0h1m1 0h1m2 0h2m1 0h1m1 0h1M46 41h1m15 0h1m3 0h5m2 0h1m3 0h3m1 0h4m2 0h7m1 0h6m2 0h2m1 0h1m2 0h3M37 42h1m17 0h1m5 0h1m1 0h1m2 0h1m1 0h1m2 0h1m4 0h5m1 0h18m2 0h1m3 0h1m6 0h3M54 43h1m3 0h2m2 0h1m1 0h1m6 0h1m2 0h9m1 0h11m2 0h6m2 0h2m4 0h1M62 44h1m3 0h2m2 0h2m3 0h3m1 0h7m1 0h3m1 0h4m1 0h1m1 0h4m2 0h1m1 0h2m8 0h1m5 0h1M59 45h1m4 0h1m1 0h16m1 0h20m1 0h3m2 0h1m3 0h1M51 46h1m1 0h1m1 0h1m2 0h1m4 0h3m1 0h1m2 0h2m2 0h7m1 0h18m1 0h1m1 0h1m1 0h1m2 0h1m4 0h1m4 0h1M52 47h1m11 0h6m1 0h9m1 0h20m1 0h2m2 0h1m1 0h2m5 0h1m2 0h1m1 0h1M53 48h4m2 0h1m2 0h1m2 0h1m3 0h4m1 0h29m1 0h4m1 0h1m6 0h1M41 49h1m10 0h1m5 0h3m1 0h4m1 0h4m2 0h29m1 0h1m1 0h2m2 0h1m5 0h1m3 0h1M51 50h1m2 0h2m1 0h1m2 0h1m1 0h4m1 0h2m1 0h1m1 0h2m1 0h1m1 0h2m1 0h25m1 0h1m1 0h1m1 0h1M47 51h1m9 0h1m3 0h1m3 0h3m1 0h40m3 0h1m7 0h1m3 0h1M44 52h2m3 0h1m3 0h1m6 0h2m1 0h1m1 0h1m2 0h1m1 0h31m1 0h2m1 0h3M44 53h1m6 0h1m4 0h1m2 0h1m2 0h1m1 0h45m2 0h1m1 0h2m3 0h1m2 0h1M45 54h1m5 0h1m1 0h5m1 0h8m1 0h29m1 0h4m1 0h5m1 0h1m2 0h1m3 0h3M40 55h1m8 0h1m6 0h1m1 0h51m4 0h1m3 0h1m1 0h1M52 56h1m2 0h1m1 0h6m2 0h1m1 0h5m1 0h30m1 0h2m2 0h2m3 0h3M43 57h1m4 0h1m1 0h1m2 0h1m1 0h2m2 0h1m2 0h4m1 0h40m3 0h1m4 0h2m3 0h1M48 58h1m2 0h2m2 0h1m1 0h2m1 0h46m2 0h2m1 0h2m1 0h1m1 0h1m1 0h2m2 0h2M35 59h1m6 0h1m5 0h1m1 0h1m3 0h5m2 0h2m1 0h2m1 0h1m2 0h36m1 0h2m1 0h4m1 0h2M46 60h2m4 0h1m1 0h1m1 0h2m2 0h1m1 0h3m1 0h37m1 0h3m1 0h4m3 0h1M44 61h1m6 0h1m2 0h1m1 0h1m1 0h1m1 0h47m2 0h3m1 0h1m2 0h2M36 62h1m10 0h3m2 0h2m2 0h1m2 0h6m1 0h6m1 0h32m1 0h1m4 0h1m1 0h2m5 0h1M48 63h1m4 0h5m2 0h1m2 0h2m1 0h2m1 0h36m2 0h1m1 0h2m1 0h1m2 0h1m2 0h1m15 0h1M48 64h1m3 0h2m1 0h3m2 0h45m1 0h1m1 0h1m1 0h1M34 65h1m3 0h1m4 0h1m7 0h3m2 0h8m2 0h36m1 0h6m2 0h1m1 0h1M40 66h1m4 0h1m3 0h1m2 0h1m2 0h3m1 0h1m1 0h1m1 0h42m1 0h1m1 0h2m1 0h1m1 0h1m2 0h1m5 0h1M47 67h3m1 0h5m1 0h1m1 0h40m1 0h4m2 0h3m2 0h1m2 0h1m1 0h1m2 0h1M44 68h1m1 0h2m5 0h2m1 0h1m2 0h2m1 0h4m1 0h43m2 0h1m2 0h1m1 0h1m3 0h1M48 69h1m2 0h9m1 0h42m1 0h2m1 0h1m1 0h1m1 0h1m1 0h2m1 0h1m5 0h1M48 70h1m2 0h1m1 0h6m1 0h44m1 0h1m1 0h4m3 0h1m2 0h2m19 0h1M43 71h1m5 0h2m1 0h1m1 0h3m1 0h50m3 0h1m1 0h2m1 0h1m1 0h1m5 0h1M35 72h1m9 0h2m4 0h1m1 0h2m1 0h48m1 0h1m2 0h3m1 0h2m1 0h1M42 73h1m6 0h3m4 0h2m1 0h3m2 0h1m1 0h41m1 0h2m4 0h3M35 74h1m5 0h1m7 0h1m2 0h1m1 0h6m2 0h37m1 0h7m1 0h1m1 0h1M42 75h1m3 0h2m3 0h1m1 0h3m1 0h2m1 0h33m1 0h8m1 0h2m1 0h3m2 0h1m6 0h1M45 76h1m1 0h1m4 0h2m2 0h3m3 0h34m1 0h1m1 0h2m2 0h1m3 0h1m2 0h1m2 0h1m3 0h1M32 77h1m7 0h1m6 0h1m1 0h1m1 0h1m2 0h7m1 0h41m3 0h1m1 0h2m1 0h2m2 0h1M49 78h1m4 0h3m2 0h1m1 0h3m1 0h2m1 0h2m1 0h30m1 0h2m2 0h2m1 0h1m2 0h2m3 0h1M47 79h3m2 0h1m2 0h1m2 0h2m2 0h5m1 0h2m1 0h13m1 0h10m2 0h3m1 0h1m3 0h2m3 0h1m1 0h3M44 80h1m1 0h1m6 0h1m3 0h4m2 0h2m1 0h31m1 0h1m1 0h2m1 0h1m2 0h1m3 0h2m4 0h1M56 81h1m1 0h11m1 0h27m1 0h1m2 0h5m1 0h2M35 82h1m10 0h1m2 0h2m1 0h4m1 0h11m1 0h29m1 0h4m1 0h1M25 83h1m2 0h2m4 0h1m2 0h1m8 0h1m1 0h1m3 0h1m1 0h2m2 0h2m1 0h14m1 0h1m1 0h13m1 0h2m6 0h1m3 0h2m3 0h2M39 84h1m5 0h1m4 0h1m1 0h1m1 0h4m1 0h7m2 0h20m1 0h1m1 0h1m1 0h4m1 0h1m1 0h1m1 0h3m2 0h2m1 0h1m3 0h1m3 0h1m2 0h1M38 85h3m11 0h1m1 0h1m6 0h2m1 0h2m1 0h20m1 0h4m1 0h1m1 0h4m2 0h1m1 0h1m5 0h1M38 86h1m1 0h1m12 0h2m3 0h8m1 0h3m2 0h21m1 0h1m1 0h3m1 0h1m7 0h1m2 0h1m3 0h1M34 87h1m23 0h1m1 0h2m1 0h2m1 0h19m1 0h1m1 0h1m1 0h1m2 0h1m2 0h1m1 0h2m1 0h1m2 0h1m4 0h1M35 88h1m2 0h1m2 0h2m1 0h1m4 0h1m6 0h2m1 0h1m3 0h1m1 0h1m2 0h7m1 0h7m1 0h3m1 0h8m1 0h1m1 0h1m1 0h2m4 0h1m1 0h2M32 89h1m5 0h2m9 0h1m2 0h2m1 0h1m1 0h2m1 0h2m1 0h2m1 0h3m1 0h4m1 0h2m2 0h3m1 0h4m1 0h1m3 0h3m2 0h1m1 0h4m2 0h2m5 0h1M24 90h1m5 0h1m20 0h1m5 0h3m3 0h3m3 0h1m1 0h10m1 0h2m1 0h4m1 0h1m1 0h1m3 0h1m1 0h1m3 0h1m4 0h1m2 0h1M54 91h1m1 0h2m2 0h1m2 0h1m1 0h10m1 0h5m1 0h1m1 0h1m1 0h1m2 0h1m1 0h4m1 0h1m1 0h2m2 0h1m2 0h1m7 0h1M42 92h1m4 0h2m1 0h2m3 0h2m1 0h8m1 0h2m1 0h4m1 0h5m1 0h1m3 0h3m1 0h2m1 0h1m8 0h1m15 0h1M10 93h1m30 0h1m7 0h1m2 0h1m2 0h1m1 0h1m2 0h1m2 0h1m7 0h3m3 0h2m1 0h1m2 0h5m1 0h1m2 0h1m1 0h2m5 0h1m1 0h1m4 0h1M32 94h1m14 0h1m2 0h1m2 0h1m2 0h1m1 0h1m3 0h1m2 0h2m3 0h1m1 0h3m1 0h1m3 0h1m1 0h3m1 0h2m3 0h1m2 0h3m3 0h1m1 0h1m1 0h1m5 0h2M21 95h1m19 0h1m13 0h1m2 0h1m2 0h1m3 0h1m11 0h1m5 0h2m3 0h1m1 0h1m2 0h1m1 0h2m3 0h1m1 0h2M46 96h1m9 0h2m4 0h3m3 0h1m6 0h1m2 0h3m2 0h3m1 0h1m2 0h2m6 0h1m7 0h1M65 97h1m1 0h1m1 0h1m3 0h1m1 0h3m4 0h1m1 0h2m2 0h1m3 0h1m11 0h1m1 0h1M60 98h1m1 0h2m1 0h1m1 0h1m3 0h1m1 0h1m5 0h2m1 0h2m5 0h1m7 0h1m1 0h1M62 99h1m3 0h2m5 0h1m3 0h1m3 0h1m4 0h1m16 0h1m3 0h1m7 0h1M55 100h1m1 0h2m1 0h2m1 0h1m17 0h1m4 0h1M63 101h4m4 0h1m1 0h3m2 0h1m7 0h2m2 0h2m2 0h1m1 0h2M71 102h1m1 0h2m6 0h1m5 0h1m14 0h1M60 103h1m1 0h1m10 0h1m4 0h1m8 0h2"/>
<g stroke="#080808" stroke-width="1.5" fill="none">
<rect x="1106.8" y="2200.6" width="185" height="137.3"/>
<path stroke-width="1.7" d="M1214.7 2200.6V2337.9M1106.8 2297.7H1291.8"/>
<path stroke-width="1.25" d="M1106.8 2337.9v4.91M1106.8 2337.9h-4.9M1120.72 2337.9v3M1106.8 2327.57h-2.99M1128.87 2337.9v3M1106.8 2321.52h-2.99M1134.65 2337.9v3M1106.8 2317.23h-2.99M1139.13 2337.9v3M1106.8 2313.91h-2.99M1142.79 2337.9v3M1106.8 2311.19h-2.99M1145.89 2337.9v3M1106.8 2308.89h-2.99M1148.57 2337.9v3M1106.8 2306.9h-2.99M1150.93 2337.9v3M1106.8 2305.15h-2.99M1153.05 2337.9v4.91M1106.8 2303.57h-4.9M1166.97 2337.9v3M1106.8 2293.24h-2.99M1175.12 2337.9v3M1106.8 2287.2h-2.99M1180.9 2337.9v3M1106.8 2282.91h-2.99M1185.38 2337.9v3M1106.8 2279.58h-2.99M1189.04 2337.9v3M1106.8 2276.86h-2.99M1192.14 2337.9v3M1106.8 2274.57h-2.99M1194.82 2337.9v3M1106.8 2272.58h-2.99M1197.18 2337.9v3M1106.8 2270.82h-2.99M1199.3 2337.9v4.91M1106.8 2269.25h-4.9M1213.22 2337.9v3M1106.8 2258.92h-2.99M1221.37 2337.9v3M1106.8 2252.87h-2.99M1227.15 2337.9v3M1106.8 2248.58h-2.99M1231.63 2337.9v3M1106.8 2245.26h-2.99M1235.29 2337.9v3M1106.8 2242.54h-2.99M1238.39 2337.9v3M1106.8 2240.24h-2.99M1241.07 2337.9v3M1106.8 2238.25h-2.99M1243.43 2337.9v3M1106.8 2236.5h-2.99M1245.55 2337.9v4.91M1106.8 2234.93h-4.9M1259.47 2337.9v3M1106.8 2224.59h-2.99M1267.62 2337.9v3M1106.8 2218.55h-2.99M1273.4 2337.9v3M1106.8 2214.26h-2.99M1277.88 2337.9v3M1106.8 2210.93h-2.99M1281.54 2337.9v3M1106.8 2208.21h-2.99M1284.64 2337.9v3M1106.8 2205.92h-2.99M1287.32 2337.9v3M1106.8 2203.93h-2.99M1289.68 2337.9v3M1106.8 2202.17h-2.99M1291.8 2337.9v4.91M1106.8 2200.6h-4.9"/>
</g>
<g font-weight="normal" fill="#1c1c1c">
<text transform="translate(1180.57,2196.96) scale(0.995,1)" font-size="9.86">008</text>
<text transform="translate(1184.88,2364.45) scale(0.985,1)" font-size="9.86">FL1-H</text>
<text transform="translate(1099.29,2354.81) scale(0.950,1)" font-size="9.86">10</text>
<text transform="translate(1109.44,2349.54) scale(1.049,1)" font-size="8.68">0</text>
<text transform="translate(1101.36,2340.44) rotate(-90) scale(0.971,1)" font-size="10.52">10</text>
<text transform="translate(1094.74,2329.46) rotate(-90) scale(1.062,1)" font-size="9.26">0</text>
<text transform="translate(1145.54,2354.81) scale(0.950,1)" font-size="9.86">10</text>
<text transform="translate(1155.35,2349.54) scale(1.049,1)" font-size="8.68">1</text>
<text transform="translate(1101.36,2314.54) rotate(-90) scale(0.971,1)" font-size="10.52">10</text>
<text transform="translate(1094.74,2303.93) rotate(-90) scale(1.062,1)" font-size="9.26">1</text>
<text transform="translate(1191.61,2354.81) scale(0.950,1)" font-size="9.86">10</text>
<text transform="translate(1201.66,2349.54) scale(1.049,1)" font-size="8.68">2</text>
<text transform="translate(1101.36,2280.22) rotate(-90) scale(0.971,1)" font-size="10.52">10</text>
<text transform="translate(1094.74,2269.35) rotate(-90) scale(1.062,1)" font-size="9.26">2</text>
<text transform="translate(1238.04,2354.81) scale(0.950,1)" font-size="9.86">10</text>
<text transform="translate(1248.2,2349.54) scale(1.049,1)" font-size="8.68">3</text>
<text transform="translate(1101.36,2245.89) rotate(-90) scale(0.971,1)" font-size="10.52">10</text>
<text transform="translate(1094.74,2234.91) rotate(-90) scale(1.062,1)" font-size="9.26">3</text>
<text transform="translate(1282.56,2354.81) scale(0.950,1)" font-size="9.86">10</text>
<text transform="translate(1292.86,2349.54) scale(1.049,1)" font-size="8.68">4</text>
<text transform="translate(1101.36,2211.57) rotate(-90) scale(0.971,1)" font-size="10.52">10</text>
<text transform="translate(1094.74,2200.43) rotate(-90) scale(1.062,1)" font-size="9.26">4</text>
<text transform="translate(1086.4,2284.47) rotate(-90) scale(0.948,1)" font-size="10.52">FL2-H</text>
</g>
<path transform="translate(1338.6,2203.55) scale(1.3)" stroke="#0b0b0b" stroke-width="1" fill="none" d="M69 30h1m13 0h1M48 31h1M53 32h1m12 0h1m1 0h1M69 33h1m1 0h2m20 0h2M67 34h1m7 0h1m3 0h1m7 0h1m1 0h1m11 0h1m2 0h1M46 35h1m1 0h1m11 0h1m3 0h1m20 0h4m16 0h1M62 36h2m3 0h1m3 0h1m1 0h2m6 0h1m2 0h1m3 0h5m1 0h1m4 0h1m2 0h1m2 0h1M52 37h1m2 0h1m3 0h1m3 0h1m5 0h1m2 0h2m2 0h2m1 0h1m1 0h1m2 0h3m3 0h2m3 0h1m4 0h2m1 0h1m3 0h1M52 38h2m6 0h1m4 0h2m2 0h1m2 0h2m2 0h1m2 0h3m1 0h1m2 0h1m3 0h1m2 0h5m2 0h1m2 0h1m10 0h1M65 39h5m5 0h7m1 0h5m1 0h1m1 0h2m1 0h2m1 0h2m4 0h1M50 40h1m5 0h1m6 0h1m3 0h5m1 0h1m1 0h1m1 0h4m1 0h1m1 0h2m3 0h5m1 0h3m3 0h1m2 0h2m6 0h1M48 41h1m4 0h1m1 0h1m2 0h2m2 0h1m1 0h1m3 0h3m3 0h1m1 0h2m1 0h6m1 0h1m1 0h4m1 0h10m1 0h2m19 0h2M48 42h1m1 0h2m2 0h1m5 0h1m3 0h1m2 0h6m3 0h2m1 0h6m2 0h2m1 0h10m2 0h2m2 0h1m1 0h2M38 43h1m7 0h3m3 0h1m4 0h1m2 0h1m2 0h1m1 0h2m1 0h1m2 0h3m1 0h4m1 0h4m1 0h13m1 0h2m3 0h1m2 0h1m12 0h1M47 44h1m2 0h1m2 0h1m2 0h1m1 0h4m5 0h1m2 0h4m1 0h1m1 0h13m1 0h8m1 0h2m3 0h2m1 0h2m7 0h1M43 45h1m6 0h2m3 0h3m3 0h1m1 0h2m1 0h1m3 0h6m1 0h22m1 0h7m2 0h1m3 0h1m9 0h1M50 46h1m1 0h1m2 0h2m1 0h2m1 0h1m1 0h10m1 0h2m3 0h21m1 0h1m1 0h3m3 0h1m2 0h2m5 0h1M40 47h1m8 0h1m1 0h1m1 0h1m1 0h2m3 0h1m2 0h10m1 0h6m1 0h5m1 0h14m1 0h4m1 0h1m2 0h1m4 0h2m9 0h1m4 0h1M43 48h2m3 0h1m1 0h1m4 0h3m1 0h1m2 0h1m3 0h1m1 0h2m1 0h1m1 0h31m1 0h2m1 0h1m3 0h1m1 0h1m1 0h1M46 49h1m8 0h2m1 0h5m2 0h3m1 0h3m1 0h34m2 0h1m2 0h2m4 0h1M54 50h2m1 0h2m1 0h5m1 0h1m1 0h1m1 0h2m1 0h33m1 0h1m1 0h3m1 0h1m2 0h1m1 0h1m1 0h1M33 51h1m10 0h1m1 0h3m2 0h1m1 0h1m1 0h3m1 0h8m5 0h32m2 0h2m2 0h1m2 0h1m6 0h1M42 52h3m2 0h2m1 0h1m1 0h3m1 0h1m1 0h2m1 0h1m1 0h3m1 0h7m1 0h2m1 0h26m2 0h3m1 0h1m2 0h1m3 0h1m3 0h1m2 0h1M40 53h1m1 0h1m1 0h1m8 0h4m1 0h4m1 0h3m1 0h2m2 0h34m1 0h3m1 0h1m1 0h1m3 0h1m3 0h1M47 54h1m3 0h1m1 0h1m1 0h2m1 0h4m1 0h5m1 0h42m2 0h1m4 0h2M44 55h1m5 0h1m1 0h7m1 0h2m1 0h1m1 0h42m1 0h2m4 0h2m1 0h1m1 0h1M46 56h1m1 0h1m1 0h1m4 0h1m2 0h3m1 0h5m1 0h38m1 0h1m1 0h2m2 0h2m2 0h1m6 0h1m4 0h1M41 57h1m4 0h1m1 0h1m2 0h2m3 0h10m2 0h3m1 0h44m1 0h1m2 0h1M40 58h1m4 0h2m1 0h1m1 0h2m2 0h2m1 0h4m2 0h48m1 0h1m2 0h1m1 0h1M45 59h5m1 0h1m2 0h1m2 0h1m1 0h7m1 0h38m2 0h5m2 0h1m5 0h1M44 60h1m1 0h4m1 0h5m1 0h1m1 0h5m1 0h2m3 0h35m1 0h3m1 0h2m4 0h1M38 61h1m4 0h1m1 0h2m2 0h1m1 0h2m1 0h4m1 0h1m1 0h1m1 0h2m1 0h36m1 0h2m1 0h1m1 0h2m3 0h1m2 0h2M31 62h1m16 0h2m3 0h2m1 0h1m1 0h5m1 0h2m1 0h2m1 0h35m2 0h2m2 0h2m1 0h1m9 0h1M37 63h1m8 0h3m4 0h4m3 0h46m2 0h2m1 0h1m2 0h1m2 0h1M40 64h1m1 0h2m1 0h3m1 0h4m1 0h5m1 0h3m1 0h5m1 0h36m2 0h1m6 0h1m1 0h2m2 0h1M36 65h1m7 0h1m1 0h1m2 0h2m1 0h1m1 0h1m2 0h1m2 0h3m1 0h1m1 0h37m1 0h1m2 0h2m1 0h2m1 0h4m1 0h1m2 0h1m2 0h1M38 66h1m4 0h1m4 0h6m1 0h4m1 0h49m4 0h1m4 0h1m1 0h1M32 67h1m6 0h1m5 0h1m2 0h4m1 0h2m1 0h1m1 0h50m1 0h1m1 0h1m2 0h1m2 0h2m2 0h1m1 0h1m1 0h1M39 68h1m2 0h1m1 0h1m2 0h3m1 0h1m3 0h11m1 0h38m1 0h1m1 0h2m2 0h3m4 0h1M41 69h1m5 0h1m4 0h1m1 0h2m2 0h2m1 0h1m1 0h7m1 0h29m1 0h3m1 0h5m1 0h2m3 0h1m1 0h1M46 70h1m1 0h1m3 0h3m1 0h1m4 0h4m1 0h40m3 0h2m9 0h1M35 71h1m3 0h2m3 0h5m1 0h1m1 0h7m1 0h4m2 0h42m2 0h1m2 0h1m7 0h1m3 0h1M41 72h1m1 0h1m2 0h2m1 0h3m2 0h2m2 0h2m2 0h1m1 0h41m1 0h2m2 0h1m6 0h2M44 73h2m2 0h1m4 0h7m1 0h1m1 0h36m1 0h3m1 0h3m3 0h1m1 0h1m1 0h1m1 0h1m1 0h1m3 0h1M45 74h2m5 0h1m1 0h1m1 0h1m1 0h1m5 0h39m1 0h3m1 0h1m1 0h3m1 0h1m5 0h1M50 75h2m1 0h2m1 0h10m2 0h2m1 0h32m1 0h1m1 0h1m1 0h1m2 0h1m1 0h1m2 0h1M42 76h1m1 0h2m2 0h1m2 0h1m5 0h1m1 0h3m1 0h1m1 0h1m1 0h33m1 0h3m3 0h1m2 0h2m3 0h3m3 0h1M26 77h1m14 0h1m2 0h1m2 0h1m3 0h2m1 0h4m1 0h7m1 0h3m1 0h20m1 0h8m1 0h1m1 0h1m1 0h2m4 0h1m3 0h2m3 0h2m5 0h1M52 78h3m5 0h2m3 0h6m1 0h2m1 0h27m3 0h3m2 0h1m5 0h1M18 79h1m14 0h1m4 0h1m1 0h1m5 0h1m3 0h1m1 0h1m3 0h1m1 0h1m1 0h42m3 0h2m2 0h2m2 0h1M37 80h1m5 0h2m1 0h2m4 0h1m3 0h4m1 0h6m1 0h4m1 0h18m1 0h6m1 0h1m4 0h1m1 0h2m3 0h1m2 0h1M18 81h1m8 0h2m4 0h1m1 0h1m4 0h3m3 0h1m1 0h1m2 0h2m1 0h5m1 0h37m5 0h1m1 0h1m2 0h2M30 82h1m4 0h1m2 0h3m1 0h1m3 0h2m3 0h3m1 0h2m3 0h3m2 0h6m2 0h23m1 0h3m1 0h2m5 0h1m2 0h3M23 83h1m4 0h1m2 0h3m1 0h1m3 0h1m1 0h2m2 0h2m1 0h1m1 0h1m3 0h2m1 0h1m1 0h2m1 0h1m1 0h2m1 0h9m1 0h2m1 0h3m1 0h3m2 0h2m1 0h2m1 0h1m1 0h1m2 0h1m5 0h1M23 84h2m3 0h1m5 0h8m1 0h1m3 0h1m1 0h4m1 0h2m1 0h7m1 0h1m1 0h4m1 0h3m1 0h2m1 0h2m1 0h11m2 0h5m3 0h2m5 0h2m15 0h1M14 85h1m4 0h3m2 0h1m1 0h1m3 0h1m1 0h3m1 0h1m1 0h1m1 0h3m2 0h1m1 0h1m1 0h2m2 0h1m1 0h3m2 0h1m1 0h1m1 0h1m2 0h1m1 0h2m2 0h11m1 0h5m2 0h3m2 0h1m1 0h1m1 0h1m1 0h2M24 86h3m5 0h2m6 0h1m1 0h2m1 0h1m3 0h5m1 0h3m2 0h1m2 0h2m1 0h4m2 0h1m1 0h2m1 0h5m1 0h2m2 0h2m3 0h3M22 87h1m3 0h1m2 0h1m2 0h1m1 0h2m1 0h1m2 0h4m4 0h1m2 0h2m2 0h1m3 0h1m2 0h7m2 0h5m1 0h1m1 0h1m2 0h2m2 0h2m1 0h1m1 0h1m1 0h2m1 0h1m5 0h1m7 0h1M7 88h1m10 0h2m1 0h1m1 0h3m2 0h2m1 0h1m2 0h5m1 0h4m2 0h3m2 0h3m2 0h4m1 0h1m4 0h1m1 0h2m1 0h2m4 0h3m1 0h2m1 0h2m1 0h5m1 0h1m11 0h1m2 0h1M23 89h1m4 0h1m4 0h1m1 0h3m1 0h1m3 0h2m1 0h2m1 0h2m1 0h2m1 0h2m1 0h1m1 0h2m1 0h1m3 0h1m3 0h1m1 0h3m1 0h1m1 0h2m1 0h3m3 0h1M12 90h2m3 0h1m2 0h2m1 0h1m3 0h1m2 0h1m1 0h1m1 0h1m4 0h2m1 0h4m2 0h2m1 0h4m3 0h1m1 0h3m2 0h2m5 0h1m1 0h2m2 0h2m2 0h2m1 0h2m1 0h3m2 0h1m3 0h1m2 0h1m1 0h1M8 91h1m14 0h3m1 0h4m1 0h3m3 0h4m2 0h1m1 0h4m1 0h3m1 0h1m2 0h1m8 0h2m6 0h1m1 0h2m1 0h1m1 0h1m7 0h1m1 0h1m10 0h1m8 0h1M9 92h1m7 0h1m3 0h2m1 0h1m3 0h1m1 0h1m1 0h2m1 0h6m1 0h4m1 0h1m1 0h4m5 0h1m3 0h1m2 0h1m3 0h2m3 0h1m1 0h1m4 0h1m5 0h1m2 0h1m2 0h1m2 0h1M11 93h1m1 0h1m8 0h3m1 0h1m1 0h3m1 0h1m3 0h3m2 0h3m1 0h3m4 0h1m3 0h1m7 0h1m4 0h1m2 0h1m1 0h2m14 0h2m1 0h1m20 0h1M10 94h1m7 0h2m4 0h3m1 0h1m5 0h1m1 0h1m2 0h2m2 0h1m3 0h1m4 0h1m5 0h1m3 0h2m4 0h1m1 0h2m2 0h1m1 0h1m1 0h1m5 0h1M13 95h1m1 0h1m4 0h4m4 0h1m4 0h2m1 0h2m5 0h1m2 0h1m2 0h1m2 0h2m1 0h1m3 0h2m23 0h1m12 0h1M10 96h1m14 0h1m2 0h1m1 0h2m2 0h1m1 0h2m1 0h3m2 0h1m2 0h1m19 0h1m7 0h1m1 0h1m6 0h1m6 0h1m2 0h1m5 0h2m1 0h1M2 97h1m11 0h1m4 0h1m2 0h1m1 0h2m2 0h1m6 0h1m1 0h1m10 0h1m2 0h1m17 0h1M24 98h2m1 0h1m2 0h2m1 0h5m4 0h4m27 0h1m5 0h1m5 0h1m14 0h1M17 99h1m5 0h1m7 0h2m4 0h1m2 0h2m2 0h1m30 0h1m1 0h2m1 0h1m2 0h1m2 0h1M2 100h1m8 0h1m11 0h1m4 0h2m1 0h1m1 0h1m2 0h1m7 0h1m39 0h1m8 0h1M1 101h1m35 0h1m47 0h1"/>
<g stroke="#080808" stroke-width="1.5" fill="none">
<rect x="1336.9" y="2202" width="181.6" height="134"/>
<path stroke-width="1.7" d="M1442.5 2202V2336M1336.9 2296H1518.5"/>
<path stroke-width="1.25" d="M1336.9 2336v4.79M1336.9 2336h-4.81M1350.57 2336v2.93M1336.9 2325.92h-2.94M1358.56 2336v2.93M1336.9 2320.02h-2.94M1364.23 2336v2.93M1336.9 2315.83h-2.94M1368.63 2336v2.93M1336.9 2312.58h-2.94M1372.23 2336v2.93M1336.9 2309.93h-2.94M1375.27 2336v2.93M1336.9 2307.69h-2.94M1377.9 2336v2.93M1336.9 2305.75h-2.94M1380.22 2336v2.93M1336.9 2304.03h-2.94M1382.3 2336v4.79M1336.9 2302.5h-4.81M1395.97 2336v2.93M1336.9 2292.42h-2.94M1403.96 2336v2.93M1336.9 2286.52h-2.94M1409.63 2336v2.93M1336.9 2282.33h-2.94M1414.03 2336v2.93M1336.9 2279.08h-2.94M1417.63 2336v2.93M1336.9 2276.43h-2.94M1420.67 2336v2.93M1336.9 2274.19h-2.94M1423.3 2336v2.93M1336.9 2272.25h-2.94M1425.62 2336v2.93M1336.9 2270.53h-2.94M1427.7 2336v4.79M1336.9 2269h-4.81M1441.37 2336v2.93M1336.9 2258.92h-2.94M1449.36 2336v2.93M1336.9 2253.02h-2.94M1455.03 2336v2.93M1336.9 2248.83h-2.94M1459.43 2336v2.93M1336.9 2245.58h-2.94M1463.03 2336v2.93M1336.9 2242.93h-2.94M1466.07 2336v2.93M1336.9 2240.69h-2.94M1468.7 2336v2.93M1336.9 2238.75h-2.94M1471.02 2336v2.93M1336.9 2237.03h-2.94M1473.1 2336v4.79M1336.9 2235.5h-4.81M1486.77 2336v2.93M1336.9 2225.42h-2.94M1494.76 2336v2.93M1336.9 2219.52h-2.94M1500.43 2336v2.93M1336.9 2215.33h-2.94M1504.83 2336v2.93M1336.9 2212.08h-2.94M1508.43 2336v2.93M1336.9 2209.43h-2.94M1511.47 2336v2.93M1336.9 2207.19h-2.94M1514.1 2336v2.93M1336.9 2205.25h-2.94M1516.42 2336v2.93M1336.9 2203.53h-2.94M1518.5 2336v4.79M1336.9 2202h-4.81"/>
</g>
<g font-weight="normal" fill="#1c1c1c">
<text transform="translate(1409.32,2198.45) scale(0.976,1)" font-size="9.86">020</text>
<text transform="translate(1413.55,2361.91) scale(0.967,1)" font-size="9.86">FL1-H</text>
<text transform="translate(1329.52,2352.51) scale(0.932,1)" font-size="9.86">10</text>
<text transform="translate(1339.49,2347.36) scale(1.029,1)" font-size="8.68">0</text>
<text transform="translate(1331.56,2338.54) rotate(-90) scale(0.989,1)" font-size="10.33">10</text>
<text transform="translate(1325.06,2327.56) rotate(-90) scale(1.082,1)" font-size="9.09">0</text>
<text transform="translate(1374.92,2352.51) scale(0.932,1)" font-size="9.86">10</text>
<text transform="translate(1384.56,2347.36) scale(1.029,1)" font-size="8.68">1</text>
<text transform="translate(1331.56,2313.47) rotate(-90) scale(0.989,1)" font-size="10.33">10</text>
<text transform="translate(1325.06,2302.86) rotate(-90) scale(1.082,1)" font-size="9.09">1</text>
<text transform="translate(1420.15,2352.51) scale(0.932,1)" font-size="9.86">10</text>
<text transform="translate(1430.01,2347.36) scale(1.029,1)" font-size="8.68">2</text>
<text transform="translate(1331.56,2279.97) rotate(-90) scale(0.989,1)" font-size="10.33">10</text>
<text transform="translate(1325.06,2269.1) rotate(-90) scale(1.082,1)" font-size="9.09">2</text>
<text transform="translate(1465.72,2352.51) scale(0.932,1)" font-size="9.86">10</text>
<text transform="translate(1475.7,2347.36) scale(1.029,1)" font-size="8.68">3</text>
<text transform="translate(1331.56,2246.47) rotate(-90) scale(0.989,1)" font-size="10.33">10</text>
<text transform="translate(1325.06,2235.48) rotate(-90) scale(1.082,1)" font-size="9.09">3</text>
<text transform="translate(1509.43,2352.51) scale(0.932,1)" font-size="9.86">10</text>
<text transform="translate(1519.55,2347.36) scale(1.029,1)" font-size="8.68">4</text>
<text transform="translate(1331.56,2212.97) rotate(-90) scale(0.989,1)" font-size="10.33">10</text>
<text transform="translate(1325.06,2201.83) rotate(-90) scale(1.082,1)" font-size="9.09">4</text>
<text transform="translate(1316.87,2284.19) rotate(-90) scale(0.965,1)" font-size="10.33">FL2-H</text>
</g>
<path transform="translate(1566.2,2204.55) scale(1.3)" stroke="#0b0b0b" stroke-width="1" fill="none" d="M87 33h1m7 0h1M60 34h1m27 0h1m4 0h1M64 35h1m11 0h1m2 0h1m5 0h1m5 0h1m7 0h1M29 36h1m36 0h1m6 0h1m4 0h1m8 0h2m1 0h1m5 0h1m9 0h1M42 37h1m17 0h1m10 0h1m4 0h1m2 0h1m1 0h2m4 0h1m1 0h2m2 0h1m1 0h2m4 0h2M52 38h1m10 0h1m8 0h3m2 0h1m1 0h2m4 0h1m4 0h1m6 0h1m7 0h1M62 39h1m1 0h1m4 0h1m3 0h3m6 0h2m3 0h1m1 0h3m2 0h2m1 0h4m1 0h1M37 40h1m1 0h1m1 0h1m12 0h1m1 0h1m3 0h1m8 0h2m2 0h1m1 0h1m2 0h7m1 0h5m1 0h3m20 0h1M20 41h1m34 0h1m3 0h1m1 0h1m3 0h3m3 0h1m1 0h2m2 0h2m3 0h1m1 0h1m2 0h7m5 0h1m2 0h2M37 42h1m7 0h1m2 0h1m3 0h1m1 0h1m3 0h1m1 0h2m8 0h1m3 0h1m3 0h1m2 0h7m1 0h7m6 0h1m6 0h2m6 0h1M34 43h1m6 0h1m14 0h1m3 0h1m3 0h1m3 0h2m1 0h1m1 0h3m1 0h1m1 0h1m1 0h10m1 0h1m2 0h1m2 0h1m1 0h1m2 0h2m1 0h2M45 44h2m9 0h1m6 0h1m1 0h1m1 0h1m2 0h1m1 0h3m2 0h1m1 0h1m1 0h5m2 0h2m1 0h3m1 0h1m1 0h2m4 0h4m1 0h1m2 0h1m7 0h1M38 45h1m7 0h1m3 0h1m6 0h1m1 0h1m2 0h1m2 0h1m1 0h26m1 0h2m3 0h2m2 0h1M31 46h1m7 0h2m5 0h1m1 0h3m5 0h1m1 0h1m2 0h2m1 0h1m1 0h1m1 0h2m1 0h1m3 0h1m3 0h12m3 0h2m1 0h1m2 0h1m5 0h4M25 47h1m18 0h2m4 0h1m2 0h2m1 0h1m1 0h1m2 0h2m1 0h2m2 0h1m1 0h1m2 0h1m1 0h2m1 0h3m1 0h12m2 0h2m4 0h2m2 0h1m2 0h1M31 48h1m9 0h1m3 0h1m2 0h1m6 0h1m1 0h1m1 0h1m1 0h1m4 0h6m1 0h2m2 0h2m1 0h13m1 0h1m2 0h1m2 0h1m3 0h2m1 0h1m1 0h2m2 0h3m2 0h2m1 0h1M21 49h1m25 0h1m1 0h1m1 0h1m1 0h2m1 0h1m2 0h2m1 0h33m1 0h2m1 0h3m3 0h1m2 0h1m1 0h1M39 50h1m6 0h2m1 0h1m6 0h1m1 0h2m1 0h1m2 0h7m1 0h20m1 0h7m1 0h4m1 0h1m1 0h2m16 0h1M24 51h2m6 0h1m4 0h1m1 0h1m6 0h4m1 0h1m1 0h2m1 0h4m1 0h4m2 0h1m2 0h2m1 0h1m1 0h12m1 0h2m1 0h2m1 0h5m1 0h4m1 0h1m3 0h1m1 0h1m4 0h1m2 0h1M26 52h1m21 0h1m3 0h1m1 0h4m1 0h1m2 0h1m1 0h2m3 0h2m1 0h2m3 0h17m3 0h3m1 0h1m1 0h1m3 0h1m1 0h1m2 0h1m2 0h2m1 0h1M22 53h1m7 0h1m2 0h2m1 0h1m1 0h1m5 0h2m4 0h2m1 0h3m2 0h1m3 0h1m1 0h3m1 0h22m1 0h2m1 0h1m1 0h1m1 0h6m1 0h1m4 0h1m4 0h1m7 0h1M25 54h1m1 0h2m2 0h1m1 0h1m2 0h1m8 0h2m3 0h1m2 0h1m1 0h1m2 0h3m1 0h2m2 0h7m4 0h10m1 0h3m1 0h3m2 0h1m2 0h1m2 0h1m6 0h1m1 0h4m1 0h1M41 55h1m1 0h1m1 0h1m1 0h3m1 0h1m3 0h6m1 0h5m1 0h1m1 0h2m1 0h1m1 0h4m1 0h6m1 0h6m2 0h2m1 0h1m1 0h1m2 0h1m4 0h1m7 0h1M23 56h1m1 0h1m9 0h1m3 0h2m9 0h2m1 0h5m3 0h6m2 0h1m1 0h1m1 0h1m1 0h3m1 0h13m1 0h1m1 0h1m3 0h4M20 57h1m5 0h1m7 0h2m11 0h1m4 0h3m1 0h2m2 0h2m1 0h6m1 0h2m1 0h3m1 0h2m1 0h5m1 0h8m1 0h6m1 0h1m3 0h1m2 0h2m2 0h2M14 58h1m1 0h1m5 0h1m6 0h1m10 0h1m1 0h2m4 0h1m1 0h1m2 0h1m2 0h1m1 0h1m4 0h3m2 0h18m1 0h5m2 0h1m1 0h3m1 0h2m1 0h2m1 0h4m1 0h1m1 0h1m1 0h1m1 0h1m4 0h1M21 59h1m17 0h1m2 0h1m5 0h3m2 0h3m1 0h1m3 0h1m1 0h1m2 0h1m1 0h4m1 0h1m1 0h13m1 0h9m1 0h2m1 0h5m1 0h2m2 0h1m3 0h1M36 60h2m6 0h1m2 0h3m3 0h1m1 0h1m2 0h2m1 0h1m2 0h2m1 0h3m3 0h15m2 0h7m1 0h1m3 0h1m1 0h3m1 0h1m2 0h1M44 61h1m1 0h1m1 0h1m1 0h2m1 0h1m5 0h1m1 0h1m1 0h1m1 0h2m2 0h5m1 0h2m1 0h3m1 0h12m2 0h2m4 0h2m1 0h1m3 0h2M31 62h1m14 0h1m2 0h12m3 0h2m1 0h1m1 0h4m2 0h3m1 0h7m1 0h7m2 0h7m1 0h4m2 0h1m2 0h1m6 0h1m2 0h1M33 63h1m9 0h1m1 0h1m3 0h1m1 0h3m5 0h4m2 0h14m1 0h14m1 0h1m3 0h1m1 0h3m1 0h1m1 0h1m2 0h4m2 0h2m1 0h1M32 64h1m4 0h2m1 0h2m2 0h1m1 0h1m1 0h3m1 0h1m2 0h1m1 0h2m1 0h2m1 0h1m2 0h1m2 0h2m1 0h2m1 0h2m1 0h1m1 0h6m1 0h7m1 0h2m1 0h2m2 0h1m2 0h2m1 0h3m1 0h1m1 0h1m1 0h1M38 65h1m5 0h1m5 0h1m1 0h1m1 0h1m1 0h4m1 0h3m2 0h1m1 0h5m2 0h22m1 0h2m1 0h2m1 0h2m2 0h2m1 0h1m1 0h2m2 0h1M34 66h1m1 0h1m8 0h2m1 0h1m1 0h6m1 0h3m1 0h2m1 0h1m3 0h3m2 0h2m5 0h2m1 0h2m1 0h6m1 0h1m1 0h7m2 0h1m3 0h1m2 0h1m2 0h1M26 67h1m10 0h1m5 0h1m6 0h1m1 0h2m1 0h3m2 0h2m2 0h1m1 0h1m3 0h2m2 0h9m1 0h3m1 0h5m2 0h1m3 0h5m2 0h5m6 0h1m1 0h1M37 68h1m3 0h1m6 0h4m1 0h2m1 0h1m1 0h2m2 0h2m1 0h1m1 0h1m1 0h4m1 0h11m1 0h5m1 0h1m1 0h2m1 0h2m2 0h5m2 0h3m6 0h1M35 69h1m13 0h2m1 0h1m1 0h3m1 0h4m1 0h1m5 0h5m1 0h3m1 0h1m1 0h2m1 0h4m1 0h1m2 0h5m1 0h1m1 0h3m1 0h2m1 0h1m4 0h1m1 0h3M35 70h1m14 0h2m2 0h1m2 0h1m1 0h1m1 0h1m1 0h1m2 0h1m1 0h1m1 0h3m2 0h3m2 0h2m1 0h7m1 0h4m2 0h1m1 0h2m2 0h2m1 0h2m2 0h1m1 0h1M44 71h1m7 0h1m1 0h5m3 0h2m1 0h1m1 0h2m1 0h3m2 0h2m1 0h1m1 0h2m2 0h6m2 0h1m1 0h5m2 0h3m1 0h4m4 0h1m4 0h1m6 0h1M25 72h1m15 0h1m1 0h1m3 0h1m1 0h1m4 0h1m2 0h1m2 0h1m2 0h1m1 0h3m1 0h3m1 0h2m1 0h2m1 0h5m1 0h2m1 0h15m4 0h3m3 0h1M41 73h1m1 0h1m7 0h4m1 0h1m1 0h1m2 0h2m2 0h2m2 0h4m1 0h1m2 0h9m1 0h16m11 0h1m2 0h1m1 0h1M26 74h1m6 0h1m12 0h2m2 0h1m1 0h1m1 0h2m1 0h1m1 0h1m2 0h1m1 0h1m2 0h1m1 0h6m1 0h1m4 0h12m3 0h1m1 0h1M17 75h1m14 0h1m8 0h1m5 0h1m1 0h1m2 0h1m1 0h1m2 0h1m1 0h2m2 0h4m3 0h3m1 0h7m2 0h6m1 0h4m2 0h1m1 0h1m6 0h1m9 0h1m2 0h1M33 76h1m1 0h1m1 0h1m1 0h1m8 0h4m4 0h3m5 0h33m2 0h4m1 0h1m3 0h1m3 0h1M28 77h1m6 0h1m3 0h1m4 0h2m4 0h1m2 0h1m2 0h3m1 0h1m2 0h1m1 0h3m3 0h1m1 0h14m1 0h2m2 0h3m1 0h8m1 0h1m4 0h1M24 78h1m1 0h1m8 0h1m1 0h3m1 0h1m3 0h2m6 0h4m1 0h5m2 0h3m1 0h1m1 0h3m1 0h3m1 0h8m2 0h5m1 0h5m2 0h1m1 0h1m1 0h1m1 0h1m4 0h1M24 79h1m8 0h1m1 0h1m1 0h1m1 0h2m1 0h2m3 0h1m2 0h1m1 0h1m1 0h2m3 0h5m1 0h3m1 0h5m1 0h16m1 0h3m1 0h1m3 0h3m4 0h1m4 0h1M16 80h1m12 0h1m3 0h1m1 0h2m2 0h5m1 0h2m7 0h1m3 0h2m1 0h2m2 0h2m1 0h6m1 0h2m1 0h1m1 0h2m1 0h3m1 0h1m1 0h5m1 0h3m1 0h1M23 81h1m6 0h1m1 0h1m3 0h1m2 0h1m1 0h2m2 0h1m2 0h1m1 0h2m1 0h1m2 0h1m3 0h2m1 0h3m1 0h2m1 0h2m2 0h2m1 0h10m1 0h4m2 0h2m1 0h4m1 0h1m1 0h1m3 0h2M13 82h1m4 0h1m4 0h1m1 0h1m7 0h7m2 0h1m1 0h2m3 0h4m1 0h3m1 0h6m1 0h3m1 0h1m1 0h13m1 0h5m2 0h1m1 0h1m2 0h1m11 0h1m6 0h1M9 83h1m5 0h1m7 0h1m3 0h1m3 0h1m5 0h2m1 0h11m1 0h7m2 0h1m1 0h12m1 0h1m2 0h12m1 0h1m2 0h1m1 0h2M9 84h1m15 0h2m4 0h3m1 0h5m1 0h9m1 0h5m1 0h10m2 0h1m1 0h8m1 0h5m1 0h7m3 0h1m1 0h1M12 85h1m5 0h1m4 0h2m1 0h12m1 0h6m1 0h19m1 0h13m1 0h3m1 0h4m1 0h4m2 0h1m3 0h1M7 86h1m9 0h1m3 0h1m2 0h1m1 0h4m1 0h4m1 0h38m1 0h6m2 0h1m1 0h4m2 0h1m5 0h1m5 0h1M10 87h1m1 0h1m1 0h1m1 0h3m1 0h52m2 0h1m1 0h3m2 0h1m9 0h4m1 0h2M18 88h60m1 0h4m1 0h3m1 0h6m6 0h1M13 89h1m2 0h59m2 0h2m1 0h1m1 0h2m2 0h1M10 90h4m1 0h58m1 0h2m2 0h1m1 0h4m6 0h1M9 91h1m3 0h60m1 0h1m4 0h2m2 0h2m10 0h1M6 92h1m2 0h1m2 0h1m1 0h49m1 0h11m6 0h1m2 0h1m3 0h1M9 93h2m1 0h64m1 0h3m1 0h1m1 0h1m5 0h1m6 0h1M3 94h2m1 0h2m1 0h65m1 0h1m1 0h1m1 0h1M1 95h2m5 0h5m2 0h52m1 0h3m1 0h1m1 0h2m1 0h1m1 0h1m3 0h4M6 96h1m1 0h1m2 0h58m6 0h1m7 0h1M4 97h8m1 0h54m1 0h1m2 0h2m3 0h1m5 0h1M0 98h1m1 0h2m2 0h1m2 0h56m3 0h1m2 0h3m3 0h1M0 99h2m3 0h4m1 0h1m1 0h1m1 0h7m1 0h42m7 0h1m1 0h1m6 0h1m10 0h1m8 0h1M0 100h1m1 0h1m3 0h1m3 0h27m1 0h15m1 0h3m1 0h1m1 0h3M1 101h3m1 0h1m1 0h3m2 0h1m2 0h41m1 0h1m2 0h1m4 0h1m1 0h1m1 0h1"/>
<g stroke="#080808" stroke-width="1.5" fill="none">
<rect x="1564.9" y="2202.6" width="185.1" height="134.4"/>
<path stroke-width="1.7" d="M1672.1 2202.6V2337M1564.9 2297.9H1750"/>
<path stroke-width="1.25" d="M1564.9 2337v4.81M1564.9 2337h-4.9M1578.83 2337v2.94M1564.9 2326.89h-2.99M1586.98 2337v2.94M1564.9 2320.97h-2.99M1592.76 2337v2.94M1564.9 2316.77h-2.99M1597.24 2337v2.94M1564.9 2313.51h-2.99M1600.91 2337v2.94M1564.9 2310.85h-2.99M1604.01 2337v2.94M1564.9 2308.6h-2.99M1606.69 2337v2.94M1564.9 2306.66h-2.99M1609.06 2337v2.94M1564.9 2304.94h-2.99M1611.18 2337v4.81M1564.9 2303.4h-4.9M1625.11 2337v2.94M1564.9 2293.29h-2.99M1633.25 2337v2.94M1564.9 2287.37h-2.99M1639.04 2337v2.94M1564.9 2283.17h-2.99M1643.52 2337v2.94M1564.9 2279.91h-2.99M1647.18 2337v2.94M1564.9 2277.25h-2.99M1650.28 2337v2.94M1564.9 2275h-2.99M1652.97 2337v2.94M1564.9 2273.06h-2.99M1655.33 2337v2.94M1564.9 2271.34h-2.99M1657.45 2337v4.81M1564.9 2269.8h-4.9M1671.38 2337v2.94M1564.9 2259.69h-2.99M1679.53 2337v2.94M1564.9 2253.77h-2.99M1685.31 2337v2.94M1564.9 2249.57h-2.99M1689.79 2337v2.94M1564.9 2246.31h-2.99M1693.46 2337v2.94M1564.9 2243.65h-2.99M1696.56 2337v2.94M1564.9 2241.4h-2.99M1699.24 2337v2.94M1564.9 2239.46h-2.99M1701.61 2337v2.94M1564.9 2237.74h-2.99M1703.72 2337v4.81M1564.9 2236.2h-4.9M1717.66 2337v2.94M1564.9 2226.09h-2.99M1725.8 2337v2.94M1564.9 2220.17h-2.99M1731.59 2337v2.94M1564.9 2215.97h-2.99M1736.07 2337v2.94M1564.9 2212.71h-2.99M1739.73 2337v2.94M1564.9 2210.05h-2.99M1742.83 2337v2.94M1564.9 2207.8h-2.99M1745.52 2337v2.94M1564.9 2205.86h-2.99M1747.88 2337v2.94M1564.9 2204.14h-2.99M1750 2337v4.81M1564.9 2202.6h-4.9"/>
</g>
<g font-weight="normal" fill="#1c1c1c">
<text transform="translate(1638.71,2199.04) scale(0.995,1)" font-size="9.86">017</text>
<text transform="translate(1643.02,2362.99) scale(0.986,1)" font-size="9.86">FL1-H</text>
<text transform="translate(1557.38,2353.56) scale(0.950,1)" font-size="9.86">10</text>
<text transform="translate(1567.54,2348.39) scale(1.049,1)" font-size="8.68">0</text>
<text transform="translate(1559.46,2339.54) rotate(-90) scale(0.971,1)" font-size="10.53">10</text>
<text transform="translate(1552.83,2328.56) rotate(-90) scale(1.061,1)" font-size="9.26">0</text>
<text transform="translate(1603.66,2353.56) scale(0.950,1)" font-size="9.86">10</text>
<text transform="translate(1613.48,2348.39) scale(1.049,1)" font-size="8.68">1</text>
<text transform="translate(1559.46,2314.37) rotate(-90) scale(0.971,1)" font-size="10.53">10</text>
<text transform="translate(1552.83,2303.76) rotate(-90) scale(1.061,1)" font-size="9.26">1</text>
<text transform="translate(1649.75,2353.56) scale(0.950,1)" font-size="9.86">10</text>
<text transform="translate(1659.81,2348.39) scale(1.049,1)" font-size="8.68">2</text>
<text transform="translate(1559.46,2280.77) rotate(-90) scale(0.971,1)" font-size="10.53">10</text>
<text transform="translate(1552.83,2269.9) rotate(-90) scale(1.061,1)" font-size="9.26">2</text>
<text transform="translate(1696.21,2353.56) scale(0.950,1)" font-size="9.86">10</text>
<text transform="translate(1706.37,2348.39) scale(1.049,1)" font-size="8.68">3</text>
<text transform="translate(1559.46,2247.17) rotate(-90) scale(0.971,1)" font-size="10.53">10</text>
<text transform="translate(1552.83,2236.18) rotate(-90) scale(1.061,1)" font-size="9.26">3</text>
<text transform="translate(1740.76,2353.56) scale(0.950,1)" font-size="9.86">10</text>
<text transform="translate(1751.07,2348.39) scale(1.049,1)" font-size="8.68">4</text>
<text transform="translate(1559.46,2213.57) rotate(-90) scale(0.971,1)" font-size="10.53">10</text>
<text transform="translate(1552.83,2202.43) rotate(-90) scale(1.061,1)" font-size="9.26">4</text>
<text transform="translate(1544.48,2285) rotate(-90) scale(0.947,1)" font-size="10.53">FL2-H</text>
</g>
</g>
</svg></body></html>
